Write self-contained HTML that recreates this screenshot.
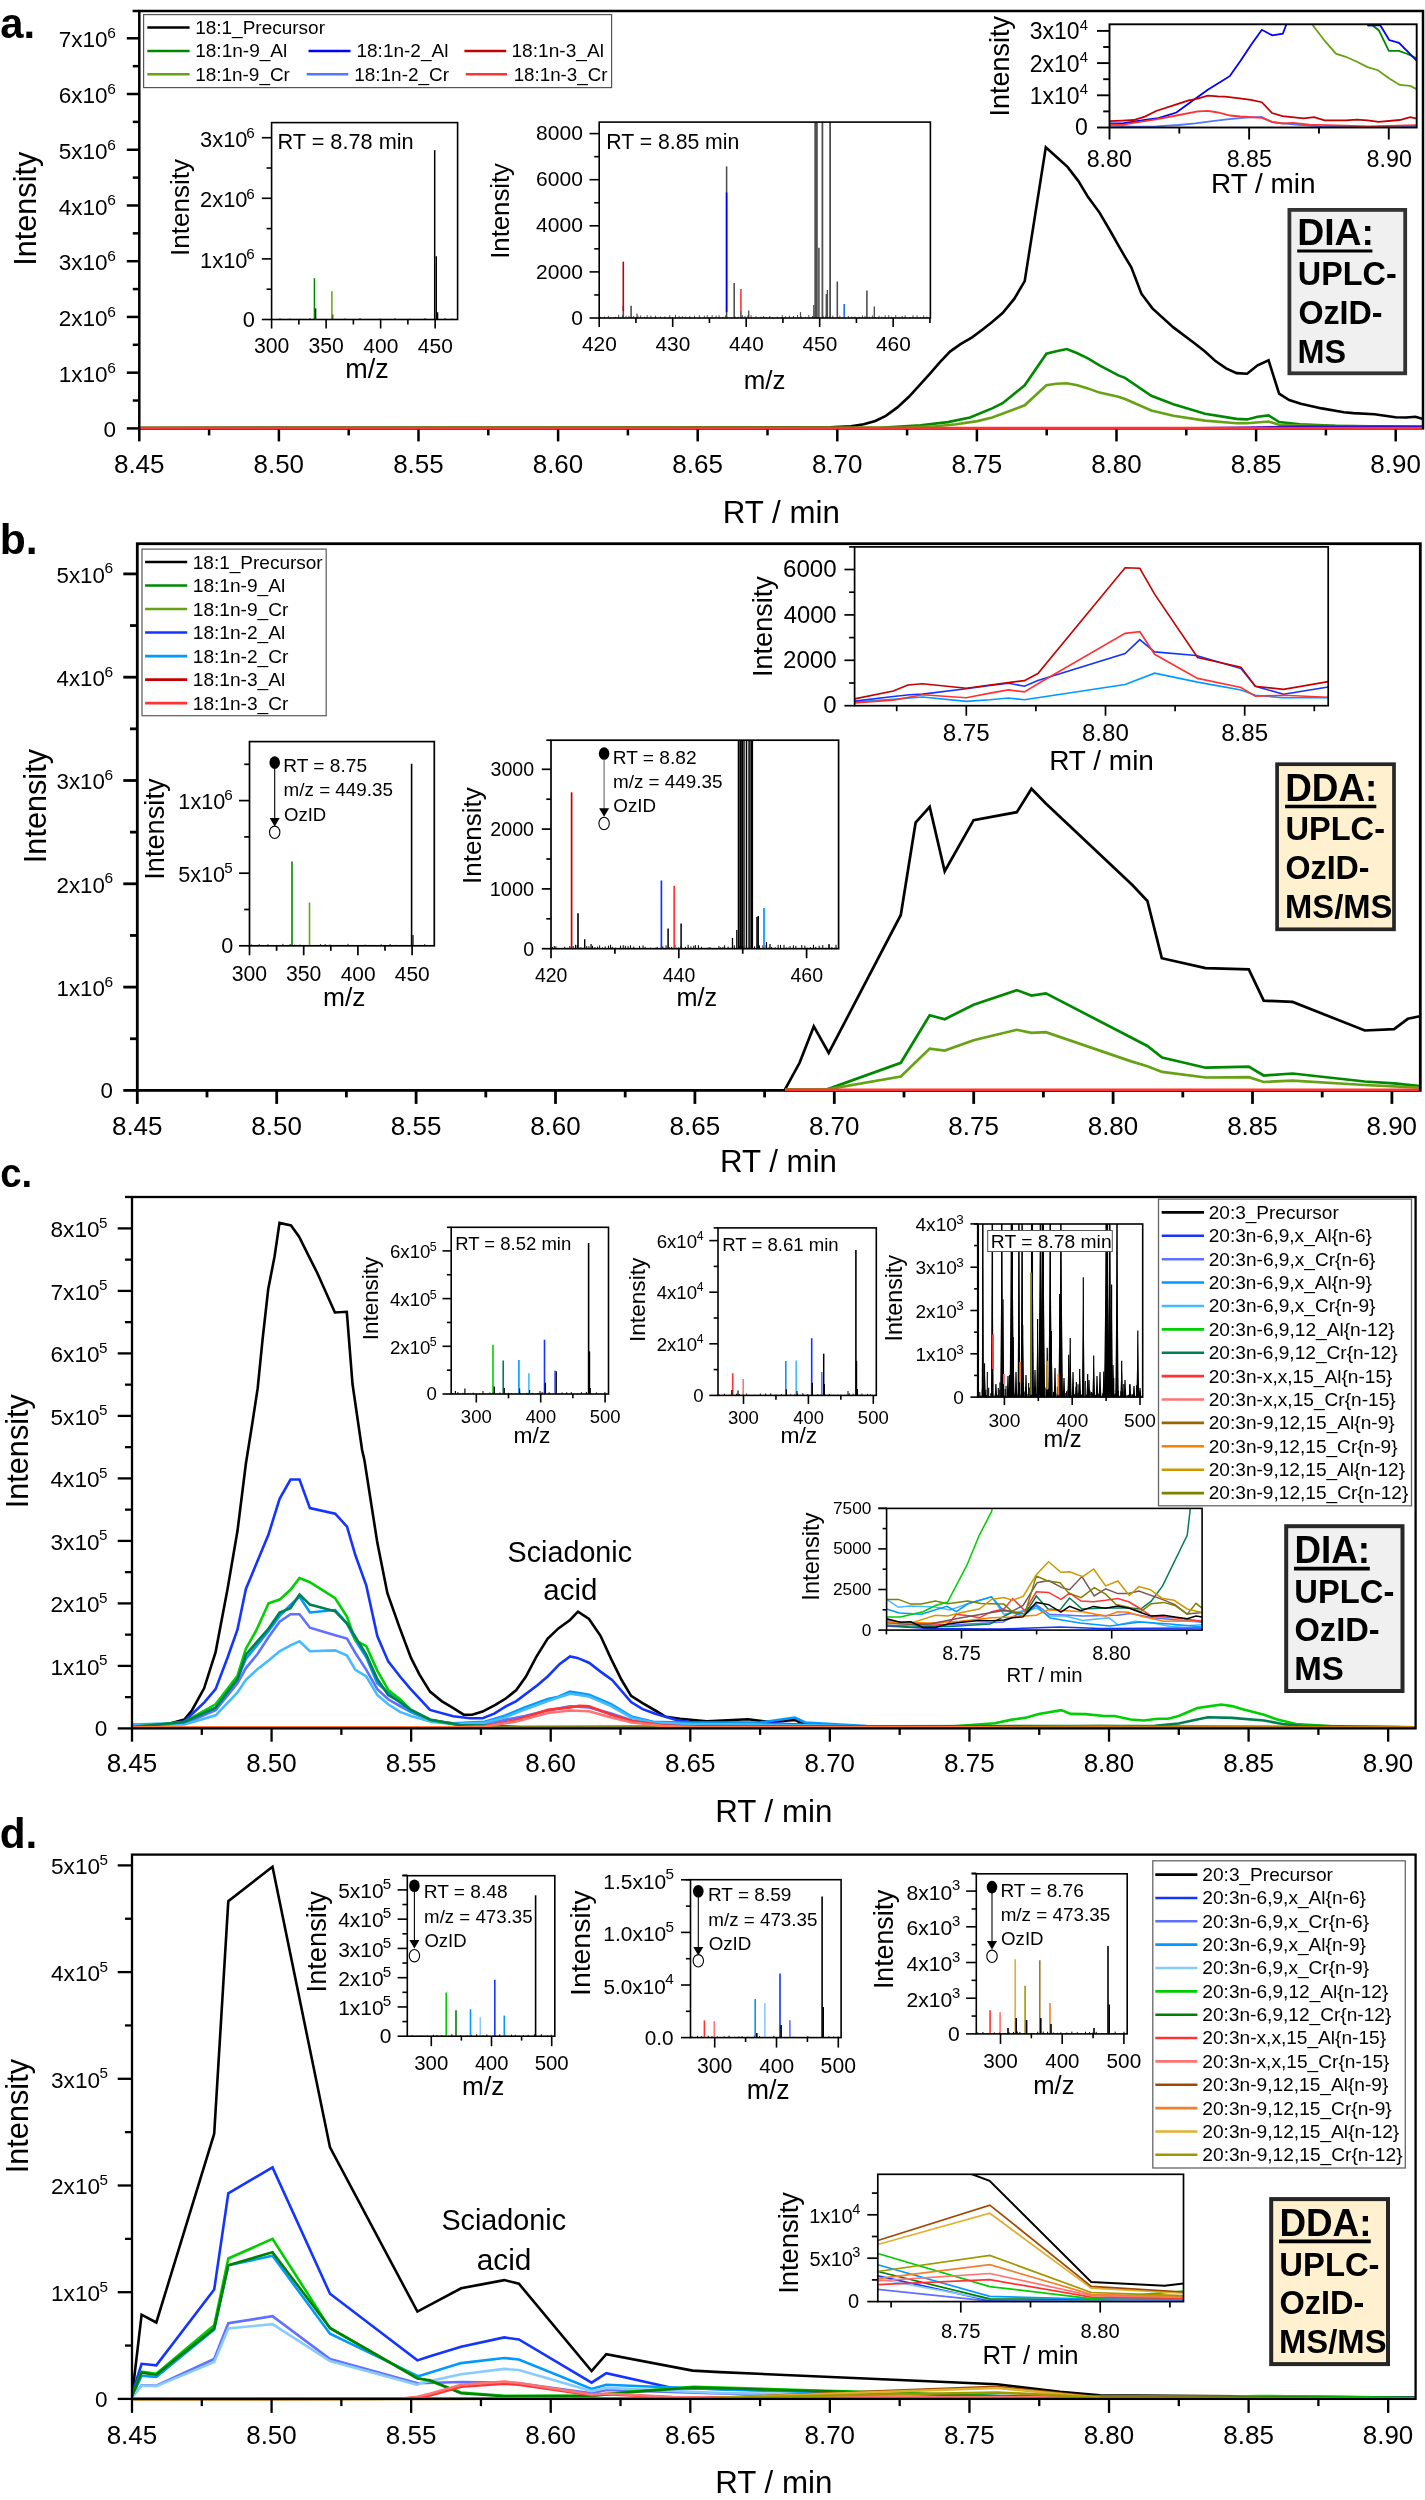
<!DOCTYPE html>
<html><head><meta charset="utf-8"><style>html,body{margin:0;padding:0;background:#fff;overflow:hidden}svg{display:block;will-change:transform}</style></head><body>
<svg width="1425" height="2500" viewBox="0 0 1425 2500" font-family='"Liberation Sans", sans-serif'>
<rect width="1425" height="2500" fill="#fff"/>
<g>
<polyline points="139.3,428.0 830.0,427.4 851.0,426.3 863.7,424.2 875.3,421.0 885.8,415.8 897.4,407.4 908.9,396.8 920.5,384.2 930.0,373.7 939.5,362.7 950.0,351.6 960.5,344.2 972.1,337.3 982.6,329.5 992.1,322.1 1002.6,313.1 1014.2,298.9 1024.7,281.1 1045.8,147.4 1056.3,156.8 1067.5,166.9 1078.4,181.1 1087.9,196.8 1099.5,212.6 1110.0,230.5 1119.5,247.4 1125.0,256.8 1131.3,267.4 1141.4,293.7 1152.4,308.4 1173.4,327.4 1194.5,343.2 1205.0,351.6 1215.5,361.1 1226.1,368.4 1236.6,373.1 1247.1,373.7 1257.6,365.3 1268.6,360.4 1279.1,393.7 1289.2,400.0 1300.8,403.8 1321.8,408.4 1343.9,412.2 1353.4,413.1 1374.5,414.3 1395.5,417.3 1406.1,417.5 1415.5,416.8 1423.0,418.9" fill="none" stroke="#000" stroke-width="2.6" stroke-linejoin="miter" stroke-miterlimit="4"/>
<polyline points="139.3,428.0 880.0,427.8 920.5,425.3 947.9,422.1 970.0,417.5 992.1,408.4 1002.6,403.2 1024.7,385.3 1046.4,353.7 1056.3,351.2 1066.8,349.1 1077.4,353.3 1087.9,358.3 1099.5,365.3 1118.4,375.4 1125.0,377.9 1151.3,395.8 1173.4,404.2 1205.0,413.7 1236.6,418.9 1247.1,419.4 1257.6,416.8 1268.6,415.4 1279.1,422.1 1299.7,424.2 1335.5,425.7 1423.0,427.0" fill="none" stroke="#008800" stroke-width="2.6" stroke-linejoin="miter" stroke-miterlimit="4"/>
<polyline points="139.3,428.0 900.0,427.8 935.3,426.3 956.3,424.2 977.4,421.1 992.1,417.5 1003.7,413.3 1024.7,405.3 1046.4,385.3 1056.3,383.8 1066.8,383.2 1077.4,385.3 1087.9,388.4 1099.5,392.6 1118.4,396.8 1125.0,399.0 1151.3,410.5 1173.4,415.8 1205.0,420.6 1236.6,423.2 1247.1,423.2 1268.6,421.5 1279.1,424.8 1314.5,425.9 1423.0,427.0" fill="none" stroke="#66a214" stroke-width="2.6" stroke-linejoin="miter" stroke-miterlimit="4"/>
<polyline points="1200.0,428.0 1245.0,427.4 1300.0,426.4 1423.0,426.4" fill="none" stroke="#0000ff" stroke-width="1.9" stroke-linejoin="miter" stroke-miterlimit="4"/>
</g>
<rect x="139.3" y="11" width="1283.7" height="417.4" fill="none" stroke="#000" stroke-width="2.5"/>
<line x1="132.60" y1="11.00" x2="139.30" y2="11.00" stroke="#000" stroke-width="2.5"/>
<line x1="126.80" y1="428.40" x2="139.30" y2="428.40" stroke="#000" stroke-width="2.5"/>
<line x1="132.80" y1="400.53" x2="139.30" y2="400.53" stroke="#000" stroke-width="2.5"/>
<line x1="126.80" y1="372.67" x2="139.30" y2="372.67" stroke="#000" stroke-width="2.5"/>
<line x1="132.80" y1="344.80" x2="139.30" y2="344.80" stroke="#000" stroke-width="2.5"/>
<line x1="126.80" y1="316.94" x2="139.30" y2="316.94" stroke="#000" stroke-width="2.5"/>
<line x1="132.80" y1="289.07" x2="139.30" y2="289.07" stroke="#000" stroke-width="2.5"/>
<line x1="126.80" y1="261.21" x2="139.30" y2="261.21" stroke="#000" stroke-width="2.5"/>
<line x1="132.80" y1="233.34" x2="139.30" y2="233.34" stroke="#000" stroke-width="2.5"/>
<line x1="126.80" y1="205.48" x2="139.30" y2="205.48" stroke="#000" stroke-width="2.5"/>
<line x1="132.80" y1="177.62" x2="139.30" y2="177.62" stroke="#000" stroke-width="2.5"/>
<line x1="126.80" y1="149.75" x2="139.30" y2="149.75" stroke="#000" stroke-width="2.5"/>
<line x1="132.80" y1="121.89" x2="139.30" y2="121.89" stroke="#000" stroke-width="2.5"/>
<line x1="126.80" y1="94.02" x2="139.30" y2="94.02" stroke="#000" stroke-width="2.5"/>
<line x1="132.80" y1="66.15" x2="139.30" y2="66.15" stroke="#000" stroke-width="2.5"/>
<line x1="126.80" y1="38.29" x2="139.30" y2="38.29" stroke="#000" stroke-width="2.5"/>
<line x1="139.30" y1="428.40" x2="139.30" y2="441.40" stroke="#000" stroke-width="2.5"/>
<line x1="209.10" y1="428.40" x2="209.10" y2="435.40" stroke="#000" stroke-width="2.5"/>
<line x1="278.90" y1="428.40" x2="278.90" y2="441.40" stroke="#000" stroke-width="2.5"/>
<line x1="348.70" y1="428.40" x2="348.70" y2="435.40" stroke="#000" stroke-width="2.5"/>
<line x1="418.50" y1="428.40" x2="418.50" y2="441.40" stroke="#000" stroke-width="2.5"/>
<line x1="488.30" y1="428.40" x2="488.30" y2="435.40" stroke="#000" stroke-width="2.5"/>
<line x1="558.10" y1="428.40" x2="558.10" y2="441.40" stroke="#000" stroke-width="2.5"/>
<line x1="627.90" y1="428.40" x2="627.90" y2="435.40" stroke="#000" stroke-width="2.5"/>
<line x1="697.70" y1="428.40" x2="697.70" y2="441.40" stroke="#000" stroke-width="2.5"/>
<line x1="767.50" y1="428.40" x2="767.50" y2="435.40" stroke="#000" stroke-width="2.5"/>
<line x1="837.30" y1="428.40" x2="837.30" y2="441.40" stroke="#000" stroke-width="2.5"/>
<line x1="907.10" y1="428.40" x2="907.10" y2="435.40" stroke="#000" stroke-width="2.5"/>
<line x1="976.90" y1="428.40" x2="976.90" y2="441.40" stroke="#000" stroke-width="2.5"/>
<line x1="1046.70" y1="428.40" x2="1046.70" y2="435.40" stroke="#000" stroke-width="2.5"/>
<line x1="1116.50" y1="428.40" x2="1116.50" y2="441.40" stroke="#000" stroke-width="2.5"/>
<line x1="1186.30" y1="428.40" x2="1186.30" y2="435.40" stroke="#000" stroke-width="2.5"/>
<line x1="1256.10" y1="428.40" x2="1256.10" y2="441.40" stroke="#000" stroke-width="2.5"/>
<line x1="1325.90" y1="428.40" x2="1325.90" y2="435.40" stroke="#000" stroke-width="2.5"/>
<line x1="1395.70" y1="428.40" x2="1395.70" y2="441.40" stroke="#000" stroke-width="2.5"/>
<line x1="140.50" y1="428.10" x2="1421.80" y2="428.10" stroke="#ff3333" stroke-width="2.6"/>
<text x="107.22" y="372.67" font-size="15.50" font-weight="normal" fill="#000">6</text>
<text x="58.76" y="381.87" font-size="22.55" font-weight="normal" fill="#000">1x10</text>
<text x="107.22" y="316.94" font-size="15.50" font-weight="normal" fill="#000">6</text>
<text x="58.76" y="326.14" font-size="22.55" font-weight="normal" fill="#000">2x10</text>
<text x="107.22" y="261.21" font-size="15.50" font-weight="normal" fill="#000">6</text>
<text x="58.76" y="270.41" font-size="22.55" font-weight="normal" fill="#000">3x10</text>
<text x="107.22" y="205.48" font-size="15.50" font-weight="normal" fill="#000">6</text>
<text x="58.76" y="214.68" font-size="22.55" font-weight="normal" fill="#000">4x10</text>
<text x="107.22" y="149.75" font-size="15.50" font-weight="normal" fill="#000">6</text>
<text x="58.76" y="158.95" font-size="22.55" font-weight="normal" fill="#000">5x10</text>
<text x="107.22" y="94.02" font-size="15.50" font-weight="normal" fill="#000">6</text>
<text x="58.76" y="103.22" font-size="22.55" font-weight="normal" fill="#000">6x10</text>
<text x="107.22" y="38.29" font-size="15.50" font-weight="normal" fill="#000">6</text>
<text x="58.76" y="47.49" font-size="22.55" font-weight="normal" fill="#000">7x10</text>
<text x="103.47" y="436.60" font-size="22.55" font-weight="normal" fill="#000">0</text>
<text x="113.93" y="473.20" font-size="26.02" font-weight="normal" fill="#000">8.45</text>
<text x="253.53" y="473.20" font-size="25.95" font-weight="normal" fill="#000">8.50</text>
<text x="393.13" y="473.20" font-size="26.02" font-weight="normal" fill="#000">8.55</text>
<text x="532.73" y="473.20" font-size="25.95" font-weight="normal" fill="#000">8.60</text>
<text x="672.33" y="473.20" font-size="26.02" font-weight="normal" fill="#000">8.65</text>
<text x="811.93" y="473.20" font-size="25.95" font-weight="normal" fill="#000">8.70</text>
<text x="951.53" y="473.20" font-size="26.02" font-weight="normal" fill="#000">8.75</text>
<text x="1091.13" y="473.20" font-size="25.95" font-weight="normal" fill="#000">8.80</text>
<text x="1230.73" y="473.20" font-size="26.02" font-weight="normal" fill="#000">8.85</text>
<text x="1370.33" y="473.20" font-size="25.95" font-weight="normal" fill="#000">8.90</text>
<text transform="translate(35.90,263.10) rotate(-90)" x="-2.76" y="0" font-size="30.67" font-weight="normal" fill="#000">Intensity</text>
<text x="722.80" y="522.70" font-size="31.27" font-weight="normal" fill="#000">RT / min</text>
<text x="0.25" y="37.60" font-size="42.00" font-weight="bold" fill="#000" textLength="34.83" lengthAdjust="spacingAndGlyphs">a.</text>
<rect x="143.6" y="14.6" width="468" height="73" fill="#fff" stroke="#555" stroke-width="1.2"/>
<line x1="147.30" y1="27.50" x2="189.60" y2="27.50" stroke="#000" stroke-width="2.6"/>
<text x="195.18" y="33.70" font-size="18.99" font-weight="normal" fill="#000">18:1_Precursor</text>
<line x1="147.30" y1="51.00" x2="189.60" y2="51.00" stroke="#008800" stroke-width="2.6"/>
<text x="195.17" y="57.20" font-size="19.06" font-weight="normal" fill="#000">18:1n-9_Al</text>
<line x1="147.30" y1="74.30" x2="189.60" y2="74.30" stroke="#66a214" stroke-width="2.6"/>
<text x="195.18" y="80.50" font-size="18.94" font-weight="normal" fill="#000">18:1n-9_Cr</text>
<line x1="308.50" y1="51.00" x2="350.50" y2="51.00" stroke="#0000ff" stroke-width="2.6"/>
<text x="356.48" y="57.20" font-size="19.00" font-weight="normal" fill="#000">18:1n-2_Al</text>
<line x1="306.70" y1="74.30" x2="348.30" y2="74.30" stroke="#5577ff" stroke-width="2.6"/>
<text x="354.28" y="80.50" font-size="18.94" font-weight="normal" fill="#000">18:1n-2_Cr</text>
<line x1="464.40" y1="51.00" x2="506.20" y2="51.00" stroke="#c40000" stroke-width="2.6"/>
<text x="511.47" y="57.20" font-size="19.13" font-weight="normal" fill="#000">18:1n-3_Al</text>
<line x1="465.70" y1="74.30" x2="507.00" y2="74.30" stroke="#ff3333" stroke-width="2.6"/>
<text x="513.69" y="80.50" font-size="18.76" font-weight="normal" fill="#000">18:1n-3_Cr</text>
<rect x="271.6" y="122.6" width="186" height="196.9" fill="#fff" stroke="none"/>
<line x1="280.00" y1="319.50" x2="280.00" y2="318.40" stroke="#000" stroke-width="1"/>
<line x1="290.00" y1="319.50" x2="290.00" y2="318.60" stroke="#000" stroke-width="1"/>
<line x1="300.00" y1="319.50" x2="300.00" y2="318.80" stroke="#000" stroke-width="1"/>
<line x1="310.00" y1="319.50" x2="310.00" y2="318.30" stroke="#000" stroke-width="1"/>
<line x1="345.00" y1="319.50" x2="345.00" y2="318.50" stroke="#000" stroke-width="1"/>
<line x1="360.00" y1="319.50" x2="360.00" y2="318.20" stroke="#000" stroke-width="1"/>
<line x1="380.00" y1="319.50" x2="380.00" y2="318.60" stroke="#000" stroke-width="1"/>
<line x1="395.00" y1="319.50" x2="395.00" y2="318.30" stroke="#000" stroke-width="1"/>
<line x1="410.00" y1="319.50" x2="410.00" y2="318.70" stroke="#000" stroke-width="1"/>
<line x1="425.00" y1="319.50" x2="425.00" y2="318.20" stroke="#000" stroke-width="1"/>
<line x1="445.00" y1="319.50" x2="445.00" y2="318.10" stroke="#000" stroke-width="1"/>
<line x1="452.00" y1="319.50" x2="452.00" y2="318.60" stroke="#000" stroke-width="1"/>
<line x1="315.60" y1="319.50" x2="315.60" y2="308.40" stroke="#000" stroke-width="1.4"/>
<line x1="314.40" y1="319.50" x2="314.40" y2="278.20" stroke="#008800" stroke-width="1.5"/>
<line x1="332.60" y1="319.50" x2="332.60" y2="314.50" stroke="#000" stroke-width="1.4"/>
<line x1="331.90" y1="319.50" x2="331.90" y2="291.20" stroke="#66a214" stroke-width="1.5"/>
<line x1="434.70" y1="319.50" x2="434.70" y2="150.20" stroke="#000" stroke-width="1.5"/>
<line x1="436.30" y1="319.50" x2="436.30" y2="256.20" stroke="#000" stroke-width="1.4"/>
<line x1="437.60" y1="319.50" x2="437.60" y2="312.30" stroke="#000" stroke-width="1.4"/>
<rect x="271.60" y="122.60" width="186.00" height="196.90" stroke="#000" stroke-width="1.6" fill="none"/>
<line x1="261.80" y1="319.50" x2="271.60" y2="319.50" stroke="#000" stroke-width="1.6"/>
<line x1="266.60" y1="289.20" x2="271.60" y2="289.20" stroke="#000" stroke-width="1.6"/>
<line x1="261.80" y1="258.90" x2="271.60" y2="258.90" stroke="#000" stroke-width="1.6"/>
<line x1="266.60" y1="228.60" x2="271.60" y2="228.60" stroke="#000" stroke-width="1.6"/>
<line x1="261.80" y1="198.30" x2="271.60" y2="198.30" stroke="#000" stroke-width="1.6"/>
<line x1="266.60" y1="168.00" x2="271.60" y2="168.00" stroke="#000" stroke-width="1.6"/>
<line x1="261.80" y1="137.70" x2="271.60" y2="137.70" stroke="#000" stroke-width="1.6"/>
<line x1="271.60" y1="319.50" x2="271.60" y2="328.50" stroke="#000" stroke-width="1.6"/>
<line x1="298.86" y1="319.50" x2="298.86" y2="324.50" stroke="#000" stroke-width="1.6"/>
<line x1="326.11" y1="319.50" x2="326.11" y2="328.50" stroke="#000" stroke-width="1.6"/>
<line x1="353.37" y1="319.50" x2="353.37" y2="324.50" stroke="#000" stroke-width="1.6"/>
<line x1="380.63" y1="319.50" x2="380.63" y2="328.50" stroke="#000" stroke-width="1.6"/>
<line x1="407.88" y1="319.50" x2="407.88" y2="324.50" stroke="#000" stroke-width="1.6"/>
<line x1="435.14" y1="319.50" x2="435.14" y2="328.50" stroke="#000" stroke-width="1.6"/>
<text x="246.37" y="259.10" font-size="15.20" font-weight="normal" fill="#000">6</text>
<text x="200.05" y="267.90" font-size="21.87" font-weight="normal" fill="#000">1x10</text>
<text x="246.37" y="198.50" font-size="15.20" font-weight="normal" fill="#000">6</text>
<text x="200.05" y="207.30" font-size="21.87" font-weight="normal" fill="#000">2x10</text>
<text x="246.37" y="137.90" font-size="15.20" font-weight="normal" fill="#000">6</text>
<text x="200.05" y="146.70" font-size="21.87" font-weight="normal" fill="#000">3x10</text>
<text x="242.83" y="327.10" font-size="21.87" font-weight="normal" fill="#000">0</text>
<text x="253.90" y="353.20" font-size="21.19" font-weight="normal" fill="#000">300</text>
<text x="308.42" y="353.20" font-size="21.19" font-weight="normal" fill="#000">350</text>
<text x="363.36" y="353.20" font-size="20.93" font-weight="normal" fill="#000">400</text>
<text x="417.87" y="353.20" font-size="20.93" font-weight="normal" fill="#000">450</text>
<text x="345.25" y="377.50" font-size="26.96" font-weight="normal" fill="#000">m/z</text>
<text transform="translate(188.50,253.60) rotate(-90)" x="-2.34" y="0" font-size="26.02" font-weight="normal" fill="#000">Intensity</text>
<text x="277.46" y="149.20" font-size="21.73" font-weight="normal" fill="#000">RT = 8.78 min</text>
<rect x="599.2" y="122.1" width="331.2" height="195.9" fill="#fff" stroke="none"/>
<line x1="600.50" y1="318.00" x2="600.50" y2="316.86" stroke="#505050" stroke-width="1.0"/>
<line x1="604.36" y1="318.00" x2="604.36" y2="316.50" stroke="#505050" stroke-width="1.0"/>
<line x1="608.37" y1="318.00" x2="608.37" y2="315.81" stroke="#505050" stroke-width="1.0"/>
<line x1="611.03" y1="318.00" x2="611.03" y2="317.46" stroke="#505050" stroke-width="1.0"/>
<line x1="615.63" y1="318.00" x2="615.63" y2="316.80" stroke="#505050" stroke-width="1.0"/>
<line x1="618.71" y1="318.00" x2="618.71" y2="314.81" stroke="#505050" stroke-width="1.0"/>
<line x1="622.39" y1="318.00" x2="622.39" y2="315.24" stroke="#505050" stroke-width="1.0"/>
<line x1="626.08" y1="318.00" x2="626.08" y2="315.77" stroke="#505050" stroke-width="1.0"/>
<line x1="628.96" y1="318.00" x2="628.96" y2="315.79" stroke="#505050" stroke-width="1.0"/>
<line x1="633.63" y1="318.00" x2="633.63" y2="316.09" stroke="#505050" stroke-width="1.0"/>
<line x1="637.98" y1="318.00" x2="637.98" y2="315.69" stroke="#505050" stroke-width="1.0"/>
<line x1="640.64" y1="318.00" x2="640.64" y2="315.45" stroke="#505050" stroke-width="1.0"/>
<line x1="644.62" y1="318.00" x2="644.62" y2="316.69" stroke="#505050" stroke-width="1.0"/>
<line x1="647.20" y1="318.00" x2="647.20" y2="315.16" stroke="#505050" stroke-width="1.0"/>
<line x1="650.88" y1="318.00" x2="650.88" y2="315.56" stroke="#505050" stroke-width="1.0"/>
<line x1="655.57" y1="318.00" x2="655.57" y2="315.57" stroke="#505050" stroke-width="1.0"/>
<line x1="660.38" y1="318.00" x2="660.38" y2="316.43" stroke="#505050" stroke-width="1.0"/>
<line x1="664.88" y1="318.00" x2="664.88" y2="316.30" stroke="#505050" stroke-width="1.0"/>
<line x1="669.72" y1="318.00" x2="669.72" y2="315.13" stroke="#505050" stroke-width="1.0"/>
<line x1="672.46" y1="318.00" x2="672.46" y2="317.13" stroke="#505050" stroke-width="1.0"/>
<line x1="675.50" y1="318.00" x2="675.50" y2="314.89" stroke="#505050" stroke-width="1.0"/>
<line x1="679.09" y1="318.00" x2="679.09" y2="315.81" stroke="#505050" stroke-width="1.0"/>
<line x1="682.35" y1="318.00" x2="682.35" y2="316.13" stroke="#505050" stroke-width="1.0"/>
<line x1="685.81" y1="318.00" x2="685.81" y2="316.55" stroke="#505050" stroke-width="1.0"/>
<line x1="689.77" y1="318.00" x2="689.77" y2="315.92" stroke="#505050" stroke-width="1.0"/>
<line x1="694.54" y1="318.00" x2="694.54" y2="315.66" stroke="#505050" stroke-width="1.0"/>
<line x1="699.36" y1="318.00" x2="699.36" y2="315.19" stroke="#505050" stroke-width="1.0"/>
<line x1="704.34" y1="318.00" x2="704.34" y2="315.69" stroke="#505050" stroke-width="1.0"/>
<line x1="707.24" y1="318.00" x2="707.24" y2="315.18" stroke="#505050" stroke-width="1.0"/>
<line x1="712.15" y1="318.00" x2="712.15" y2="315.06" stroke="#505050" stroke-width="1.0"/>
<line x1="716.08" y1="318.00" x2="716.08" y2="315.57" stroke="#505050" stroke-width="1.0"/>
<line x1="719.10" y1="318.00" x2="719.10" y2="315.25" stroke="#505050" stroke-width="1.0"/>
<line x1="723.04" y1="318.00" x2="723.04" y2="316.73" stroke="#505050" stroke-width="1.0"/>
<line x1="725.70" y1="318.00" x2="725.70" y2="315.19" stroke="#505050" stroke-width="1.0"/>
<line x1="730.67" y1="318.00" x2="730.67" y2="317.26" stroke="#505050" stroke-width="1.0"/>
<line x1="735.17" y1="318.00" x2="735.17" y2="316.39" stroke="#505050" stroke-width="1.0"/>
<line x1="738.05" y1="318.00" x2="738.05" y2="316.71" stroke="#505050" stroke-width="1.0"/>
<line x1="742.47" y1="318.00" x2="742.47" y2="315.14" stroke="#505050" stroke-width="1.0"/>
<line x1="745.08" y1="318.00" x2="745.08" y2="315.84" stroke="#505050" stroke-width="1.0"/>
<line x1="747.70" y1="318.00" x2="747.70" y2="315.56" stroke="#505050" stroke-width="1.0"/>
<line x1="751.02" y1="318.00" x2="751.02" y2="315.12" stroke="#505050" stroke-width="1.0"/>
<line x1="755.97" y1="318.00" x2="755.97" y2="316.14" stroke="#505050" stroke-width="1.0"/>
<line x1="760.97" y1="318.00" x2="760.97" y2="316.66" stroke="#505050" stroke-width="1.0"/>
<line x1="763.66" y1="318.00" x2="763.66" y2="315.88" stroke="#505050" stroke-width="1.0"/>
<line x1="766.24" y1="318.00" x2="766.24" y2="316.97" stroke="#505050" stroke-width="1.0"/>
<line x1="769.76" y1="318.00" x2="769.76" y2="315.85" stroke="#505050" stroke-width="1.0"/>
<line x1="772.65" y1="318.00" x2="772.65" y2="317.39" stroke="#505050" stroke-width="1.0"/>
<line x1="777.32" y1="318.00" x2="777.32" y2="316.65" stroke="#505050" stroke-width="1.0"/>
<line x1="782.22" y1="318.00" x2="782.22" y2="315.08" stroke="#505050" stroke-width="1.0"/>
<line x1="785.66" y1="318.00" x2="785.66" y2="316.26" stroke="#505050" stroke-width="1.0"/>
<line x1="789.46" y1="318.00" x2="789.46" y2="315.76" stroke="#505050" stroke-width="1.0"/>
<line x1="793.45" y1="318.00" x2="793.45" y2="315.99" stroke="#505050" stroke-width="1.0"/>
<line x1="797.50" y1="318.00" x2="797.50" y2="314.96" stroke="#505050" stroke-width="1.0"/>
<line x1="801.27" y1="318.00" x2="801.27" y2="316.34" stroke="#505050" stroke-width="1.0"/>
<line x1="805.57" y1="318.00" x2="805.57" y2="316.86" stroke="#505050" stroke-width="1.0"/>
<line x1="808.82" y1="318.00" x2="808.82" y2="314.86" stroke="#505050" stroke-width="1.0"/>
<line x1="812.63" y1="318.00" x2="812.63" y2="316.02" stroke="#505050" stroke-width="1.0"/>
<line x1="815.15" y1="318.00" x2="815.15" y2="316.38" stroke="#505050" stroke-width="1.0"/>
<line x1="819.10" y1="318.00" x2="819.10" y2="317.45" stroke="#505050" stroke-width="1.0"/>
<line x1="823.14" y1="318.00" x2="823.14" y2="315.79" stroke="#505050" stroke-width="1.0"/>
<line x1="825.79" y1="318.00" x2="825.79" y2="315.81" stroke="#505050" stroke-width="1.0"/>
<line x1="829.46" y1="318.00" x2="829.46" y2="315.67" stroke="#505050" stroke-width="1.0"/>
<line x1="832.84" y1="318.00" x2="832.84" y2="315.59" stroke="#505050" stroke-width="1.0"/>
<line x1="837.19" y1="318.00" x2="837.19" y2="317.44" stroke="#505050" stroke-width="1.0"/>
<line x1="839.84" y1="318.00" x2="839.84" y2="315.67" stroke="#505050" stroke-width="1.0"/>
<line x1="844.75" y1="318.00" x2="844.75" y2="316.82" stroke="#505050" stroke-width="1.0"/>
<line x1="848.39" y1="318.00" x2="848.39" y2="315.90" stroke="#505050" stroke-width="1.0"/>
<line x1="851.69" y1="318.00" x2="851.69" y2="316.52" stroke="#505050" stroke-width="1.0"/>
<line x1="854.97" y1="318.00" x2="854.97" y2="316.50" stroke="#505050" stroke-width="1.0"/>
<line x1="858.96" y1="318.00" x2="858.96" y2="316.69" stroke="#505050" stroke-width="1.0"/>
<line x1="862.40" y1="318.00" x2="862.40" y2="315.41" stroke="#505050" stroke-width="1.0"/>
<line x1="864.97" y1="318.00" x2="864.97" y2="315.96" stroke="#505050" stroke-width="1.0"/>
<line x1="869.31" y1="318.00" x2="869.31" y2="316.66" stroke="#505050" stroke-width="1.0"/>
<line x1="872.36" y1="318.00" x2="872.36" y2="315.33" stroke="#505050" stroke-width="1.0"/>
<line x1="875.46" y1="318.00" x2="875.46" y2="316.99" stroke="#505050" stroke-width="1.0"/>
<line x1="879.05" y1="318.00" x2="879.05" y2="315.62" stroke="#505050" stroke-width="1.0"/>
<line x1="881.80" y1="318.00" x2="881.80" y2="316.63" stroke="#505050" stroke-width="1.0"/>
<line x1="885.14" y1="318.00" x2="885.14" y2="315.25" stroke="#505050" stroke-width="1.0"/>
<line x1="888.73" y1="318.00" x2="888.73" y2="315.19" stroke="#505050" stroke-width="1.0"/>
<line x1="891.65" y1="318.00" x2="891.65" y2="316.59" stroke="#505050" stroke-width="1.0"/>
<line x1="895.78" y1="318.00" x2="895.78" y2="315.11" stroke="#505050" stroke-width="1.0"/>
<line x1="899.41" y1="318.00" x2="899.41" y2="316.89" stroke="#505050" stroke-width="1.0"/>
<line x1="902.21" y1="318.00" x2="902.21" y2="316.07" stroke="#505050" stroke-width="1.0"/>
<line x1="905.19" y1="318.00" x2="905.19" y2="315.32" stroke="#505050" stroke-width="1.0"/>
<line x1="909.78" y1="318.00" x2="909.78" y2="317.00" stroke="#505050" stroke-width="1.0"/>
<line x1="912.98" y1="318.00" x2="912.98" y2="315.32" stroke="#505050" stroke-width="1.0"/>
<line x1="917.09" y1="318.00" x2="917.09" y2="315.32" stroke="#505050" stroke-width="1.0"/>
<line x1="920.45" y1="318.00" x2="920.45" y2="317.15" stroke="#505050" stroke-width="1.0"/>
<line x1="923.68" y1="318.00" x2="923.68" y2="315.36" stroke="#505050" stroke-width="1.0"/>
<line x1="926.86" y1="318.00" x2="926.86" y2="316.56" stroke="#505050" stroke-width="1.0"/>
<line x1="726.60" y1="318.00" x2="726.60" y2="166.40" stroke="#505050" stroke-width="1.6"/>
<line x1="734.20" y1="318.00" x2="734.20" y2="283.10" stroke="#505050" stroke-width="1.6"/>
<line x1="740.90" y1="318.00" x2="740.90" y2="311.00" stroke="#505050" stroke-width="1.6"/>
<line x1="748.70" y1="318.00" x2="748.70" y2="310.40" stroke="#505050" stroke-width="1.4"/>
<line x1="800.50" y1="318.00" x2="800.50" y2="312.10" stroke="#505050" stroke-width="1.2"/>
<line x1="623.30" y1="318.00" x2="623.30" y2="306.20" stroke="#505050" stroke-width="1.6"/>
<line x1="631.10" y1="318.00" x2="631.10" y2="305.70" stroke="#505050" stroke-width="1.6"/>
<line x1="637.00" y1="318.00" x2="637.00" y2="313.50" stroke="#505050" stroke-width="1.2"/>
<line x1="813.80" y1="318.00" x2="813.80" y2="305.00" stroke="#505050" stroke-width="1.4"/>
<line x1="815.20" y1="318.00" x2="815.20" y2="122.00" stroke="#505050" stroke-width="1.8"/>
<line x1="816.90" y1="318.00" x2="816.90" y2="122.00" stroke="#505050" stroke-width="1.8"/>
<line x1="818.90" y1="318.00" x2="818.90" y2="247.80" stroke="#505050" stroke-width="1.6"/>
<line x1="822.40" y1="318.00" x2="822.40" y2="122.00" stroke="#505050" stroke-width="1.8"/>
<line x1="826.30" y1="318.00" x2="826.30" y2="293.90" stroke="#505050" stroke-width="1.4"/>
<line x1="827.40" y1="318.00" x2="827.40" y2="289.90" stroke="#505050" stroke-width="1.4"/>
<line x1="830.10" y1="318.00" x2="830.10" y2="122.00" stroke="#505050" stroke-width="1.8"/>
<line x1="837.30" y1="318.00" x2="837.30" y2="281.50" stroke="#505050" stroke-width="1.6"/>
<line x1="866.90" y1="318.00" x2="866.90" y2="290.50" stroke="#505050" stroke-width="1.6"/>
<line x1="874.30" y1="318.00" x2="874.30" y2="306.50" stroke="#505050" stroke-width="1.4"/>
<line x1="726.60" y1="312.10" x2="726.60" y2="192.50" stroke="#0000ff" stroke-width="1.6"/>
<line x1="740.90" y1="311.30" x2="740.90" y2="288.90" stroke="#ff3333" stroke-width="1.6"/>
<line x1="623.30" y1="311.00" x2="623.30" y2="261.60" stroke="#c40000" stroke-width="1.6"/>
<line x1="844.20" y1="318.00" x2="844.20" y2="304.00" stroke="#1a70ff" stroke-width="1.6"/>
<rect x="599.20" y="122.10" width="331.20" height="195.90" stroke="#000" stroke-width="1.6" fill="none"/>
<line x1="589.50" y1="318.00" x2="599.20" y2="318.00" stroke="#000" stroke-width="1.6"/>
<line x1="594.20" y1="294.95" x2="599.20" y2="294.95" stroke="#000" stroke-width="1.6"/>
<line x1="589.50" y1="271.90" x2="599.20" y2="271.90" stroke="#000" stroke-width="1.6"/>
<line x1="594.20" y1="248.85" x2="599.20" y2="248.85" stroke="#000" stroke-width="1.6"/>
<line x1="589.50" y1="225.80" x2="599.20" y2="225.80" stroke="#000" stroke-width="1.6"/>
<line x1="594.20" y1="202.75" x2="599.20" y2="202.75" stroke="#000" stroke-width="1.6"/>
<line x1="589.50" y1="179.70" x2="599.20" y2="179.70" stroke="#000" stroke-width="1.6"/>
<line x1="594.20" y1="156.65" x2="599.20" y2="156.65" stroke="#000" stroke-width="1.6"/>
<line x1="589.50" y1="133.60" x2="599.20" y2="133.60" stroke="#000" stroke-width="1.6"/>
<line x1="599.20" y1="318.00" x2="599.20" y2="327.00" stroke="#000" stroke-width="1.6"/>
<line x1="635.94" y1="318.00" x2="635.94" y2="323.00" stroke="#000" stroke-width="1.6"/>
<line x1="672.69" y1="318.00" x2="672.69" y2="327.00" stroke="#000" stroke-width="1.6"/>
<line x1="709.43" y1="318.00" x2="709.43" y2="323.00" stroke="#000" stroke-width="1.6"/>
<line x1="746.18" y1="318.00" x2="746.18" y2="327.00" stroke="#000" stroke-width="1.6"/>
<line x1="782.92" y1="318.00" x2="782.92" y2="323.00" stroke="#000" stroke-width="1.6"/>
<line x1="819.67" y1="318.00" x2="819.67" y2="327.00" stroke="#000" stroke-width="1.6"/>
<line x1="856.41" y1="318.00" x2="856.41" y2="323.00" stroke="#000" stroke-width="1.6"/>
<line x1="893.16" y1="318.00" x2="893.16" y2="327.00" stroke="#000" stroke-width="1.6"/>
<line x1="929.90" y1="318.00" x2="929.90" y2="323.00" stroke="#000" stroke-width="1.6"/>
<text x="571.18" y="324.60" font-size="21.00" font-weight="normal" fill="#000">0</text>
<text x="536.11" y="278.50" font-size="21.00" font-weight="normal" fill="#000">2000</text>
<text x="536.11" y="232.40" font-size="21.00" font-weight="normal" fill="#000">4000</text>
<text x="536.11" y="186.30" font-size="21.00" font-weight="normal" fill="#000">6000</text>
<text x="536.11" y="140.20" font-size="21.00" font-weight="normal" fill="#000">8000</text>
<text x="582.04" y="350.80" font-size="20.80" font-weight="normal" fill="#000">420</text>
<text x="655.53" y="350.80" font-size="20.80" font-weight="normal" fill="#000">430</text>
<text x="729.02" y="350.80" font-size="20.80" font-weight="normal" fill="#000">440</text>
<text x="802.51" y="350.80" font-size="20.80" font-weight="normal" fill="#000">450</text>
<text x="876.00" y="350.80" font-size="20.80" font-weight="normal" fill="#000">460</text>
<text x="743.82" y="388.50" font-size="25.89" font-weight="normal" fill="#000">m/z</text>
<text transform="translate(508.80,256.50) rotate(-90)" x="-2.31" y="0" font-size="25.72" font-weight="normal" fill="#000">Intensity</text>
<text x="606.30" y="148.70" font-size="21.21" font-weight="normal" fill="#000">RT = 8.85 min</text>
<rect x="1109.5" y="24.3" width="307.2" height="103.2" fill="#fff" stroke="none"/>
<clipPath id="ca3"><rect x="1109.5" y="24.3" width="307.2" height="103.2"/></clipPath>
<g clip-path="url(#ca3)">
<polyline points="1365.0,10.0 1372.4,25.3 1378.7,30.2 1388.9,50.8 1399.0,50.8 1407.5,54.0 1416.6,58.2" fill="none" stroke="#008800" stroke-width="1.8" stroke-linejoin="miter" stroke-miterlimit="4"/>
<polyline points="1300.0,10.0 1312.7,25.0 1324.6,40.7 1335.9,53.6 1345.7,56.8 1357.0,61.8 1367.5,67.1 1378.0,70.2 1388.5,77.9 1399.7,84.9 1410.3,85.9 1416.6,89.1" fill="none" stroke="#66a214" stroke-width="1.8" stroke-linejoin="miter" stroke-miterlimit="4"/>
<polyline points="1109.5,123.4 1122.5,123.4 1144.9,120.0 1158.4,118.1 1176.4,112.5 1193.2,100.3 1207.8,89.7 1229.7,76.2 1240.4,61.1 1251.0,44.9 1261.8,29.8 1272.4,35.4 1282.8,33.7 1290.0,15.0 1362.0,15.0 1368.2,25.5 1380.1,25.0 1389.2,40.0 1399.0,42.8 1416.6,60.6" fill="none" stroke="#0000ff" stroke-width="1.8" stroke-linejoin="miter" stroke-miterlimit="4"/>
<polyline points="1109.5,125.6 1133.7,126.7 1156.1,126.4 1178.6,125.0 1195.4,123.4 1212.3,121.1 1229.1,119.2 1246.0,117.7 1261.5,116.8 1272.0,122.1 1295.2,124.6 1323.2,126.7 1416.6,127.0" fill="none" stroke="#5577ff" stroke-width="1.8" stroke-linejoin="miter" stroke-miterlimit="4"/>
<polyline points="1109.5,121.1 1122.5,120.6 1133.7,120.0 1144.9,116.6 1156.1,111.0 1176.4,104.3 1188.7,100.3 1197.7,98.7 1207.8,95.6 1217.9,96.4 1225.0,96.6 1237.6,98.2 1251.0,99.9 1261.8,102.2 1272.0,113.0 1282.5,116.2 1303.6,118.3 1314.1,117.2 1324.6,120.4 1345.7,120.4 1356.9,119.6 1367.5,120.4 1378.7,121.8 1399.7,120.0 1410.3,117.2 1416.6,118.6" fill="none" stroke="#c40000" stroke-width="1.8" stroke-linejoin="miter" stroke-miterlimit="4"/>
<polyline points="1109.5,124.5 1122.5,124.8 1133.7,122.8 1156.1,119.4 1176.4,115.5 1197.7,111.3 1207.8,110.8 1217.9,112.5 1230.3,115.5 1240.4,116.5 1261.8,117.9 1272.0,121.8 1282.5,123.5 1293.1,122.8 1309.2,124.6 1345.7,125.6 1368.2,126.3 1416.6,125.2" fill="none" stroke="#ff3333" stroke-width="1.8" stroke-linejoin="miter" stroke-miterlimit="4"/>
</g>
<rect x="1109.50" y="24.30" width="307.20" height="103.20" stroke="#000" stroke-width="1.9" fill="none"/>
<line x1="1097.00" y1="127.50" x2="1109.50" y2="127.50" stroke="#000" stroke-width="1.9"/>
<line x1="1103.20" y1="111.40" x2="1109.50" y2="111.40" stroke="#000" stroke-width="1.9"/>
<line x1="1097.00" y1="95.30" x2="1109.50" y2="95.30" stroke="#000" stroke-width="1.9"/>
<line x1="1103.20" y1="79.20" x2="1109.50" y2="79.20" stroke="#000" stroke-width="1.9"/>
<line x1="1097.00" y1="63.10" x2="1109.50" y2="63.10" stroke="#000" stroke-width="1.9"/>
<line x1="1103.20" y1="47.00" x2="1109.50" y2="47.00" stroke="#000" stroke-width="1.9"/>
<line x1="1097.00" y1="30.90" x2="1109.50" y2="30.90" stroke="#000" stroke-width="1.9"/>
<line x1="1109.50" y1="127.50" x2="1109.50" y2="139.50" stroke="#000" stroke-width="1.9"/>
<line x1="1249.14" y1="127.50" x2="1249.14" y2="139.50" stroke="#000" stroke-width="1.9"/>
<line x1="1388.77" y1="127.50" x2="1388.77" y2="139.50" stroke="#000" stroke-width="1.9"/>
<line x1="1179.32" y1="127.50" x2="1179.32" y2="133.50" stroke="#000" stroke-width="1.9"/>
<line x1="1318.95" y1="127.50" x2="1318.95" y2="133.50" stroke="#000" stroke-width="1.9"/>
<text x="1079.83" y="94.00" font-size="14.80" font-weight="normal" fill="#000">4</text>
<text x="1029.64" y="103.70" font-size="23.00" font-weight="normal" fill="#000">1x10</text>
<text x="1079.83" y="61.80" font-size="14.80" font-weight="normal" fill="#000">4</text>
<text x="1029.64" y="71.50" font-size="23.00" font-weight="normal" fill="#000">2x10</text>
<text x="1079.83" y="29.60" font-size="14.80" font-weight="normal" fill="#000">4</text>
<text x="1029.64" y="39.30" font-size="23.00" font-weight="normal" fill="#000">3x10</text>
<text x="1075.04" y="134.50" font-size="23.00" font-weight="normal" fill="#000">0</text>
<text x="1086.65" y="166.50" font-size="23.27" font-weight="normal" fill="#000">8.80</text>
<text x="1226.65" y="166.50" font-size="23.33" font-weight="normal" fill="#000">8.85</text>
<text x="1366.55" y="166.50" font-size="23.27" font-weight="normal" fill="#000">8.90</text>
<text x="1210.96" y="193.20" font-size="27.96" font-weight="normal" fill="#000">RT / min</text>
<text transform="translate(1008.90,114.00) rotate(-90)" x="-2.43" y="0" font-size="26.99" font-weight="normal" fill="#000">Intensity</text>
<rect x="1289.4" y="209.9" width="115.8" height="163.4" fill="#f0f0f0" stroke="#333" stroke-width="3.8"/>
<text x="1297.27" y="245.30" font-size="37.50" font-weight="bold" fill="#000" textLength="76.77" lengthAdjust="spacingAndGlyphs">DIA:</text>
<line x1="1297.20" y1="251.00" x2="1372.40" y2="251.00" stroke="#000" stroke-width="3.0"/>
<text x="1297.75" y="285.30" font-size="32.50" font-weight="bold" fill="#000" textLength="99.05" lengthAdjust="spacingAndGlyphs">UPLC-</text>
<text x="1298.41" y="324.20" font-size="32.50" font-weight="bold" fill="#000" textLength="84.14" lengthAdjust="spacingAndGlyphs">OzID-</text>
<text x="1297.60" y="363.20" font-size="32.50" font-weight="bold" fill="#000" textLength="48.54" lengthAdjust="spacingAndGlyphs">MS</text>
<polyline points="784.9,1089.6 799.6,1062.8 813.8,1026.4 828.7,1053.0 900.8,915.0 915.6,822.7 929.7,806.9 944.7,871.2 973.6,820.1 1016.8,812.2 1031.5,788.7 1045.6,803.2 1132.6,885.3 1147.4,901.0 1161.8,958.2 1205.6,968.1 1248.8,969.3 1263.7,1000.7 1292.6,1001.9 1364.8,1030.5 1394.1,1029.1 1407.8,1018.8 1420.0,1016.2" fill="none" stroke="#000" stroke-width="2.7" stroke-linejoin="miter" stroke-miterlimit="4"/>
<polyline points="785.0,1089.6 827.2,1089.3 900.8,1062.8 929.7,1015.2 944.7,1019.2 973.6,1004.8 1016.8,990.1 1031.5,995.6 1045.9,993.3 1147.4,1046.0 1162.1,1057.6 1205.6,1067.7 1248.8,1066.6 1263.7,1075.5 1292.6,1073.5 1364.8,1081.5 1394.1,1083.3 1420.0,1086.2" fill="none" stroke="#008800" stroke-width="2.7" stroke-linejoin="miter" stroke-miterlimit="4"/>
<polyline points="785.0,1089.6 827.2,1089.3 900.8,1076.5 929.7,1048.6 944.7,1050.6 973.6,1040.2 1016.8,1029.8 1031.5,1032.9 1045.9,1032.2 1131.2,1061.4 1147.4,1066.3 1162.1,1071.9 1205.6,1077.5 1248.8,1077.2 1263.7,1082.0 1292.6,1080.7 1364.8,1085.0 1420.0,1087.6" fill="none" stroke="#66a214" stroke-width="2.7" stroke-linejoin="miter" stroke-miterlimit="4"/>
<rect x="137.3" y="543.7" width="1283.0" height="546.7" fill="none" stroke="#000" stroke-width="2.8"/>
<line x1="123.30" y1="1090.40" x2="137.30" y2="1090.40" stroke="#000" stroke-width="2.8"/>
<line x1="130.00" y1="1038.75" x2="137.30" y2="1038.75" stroke="#000" stroke-width="2.8"/>
<line x1="123.30" y1="987.10" x2="137.30" y2="987.10" stroke="#000" stroke-width="2.8"/>
<line x1="130.00" y1="935.45" x2="137.30" y2="935.45" stroke="#000" stroke-width="2.8"/>
<line x1="123.30" y1="883.80" x2="137.30" y2="883.80" stroke="#000" stroke-width="2.8"/>
<line x1="130.00" y1="832.15" x2="137.30" y2="832.15" stroke="#000" stroke-width="2.8"/>
<line x1="123.30" y1="780.50" x2="137.30" y2="780.50" stroke="#000" stroke-width="2.8"/>
<line x1="130.00" y1="728.85" x2="137.30" y2="728.85" stroke="#000" stroke-width="2.8"/>
<line x1="123.30" y1="677.20" x2="137.30" y2="677.20" stroke="#000" stroke-width="2.8"/>
<line x1="130.00" y1="625.55" x2="137.30" y2="625.55" stroke="#000" stroke-width="2.8"/>
<line x1="123.30" y1="573.90" x2="137.30" y2="573.90" stroke="#000" stroke-width="2.8"/>
<line x1="137.30" y1="1090.40" x2="137.30" y2="1103.90" stroke="#000" stroke-width="2.8"/>
<line x1="207.00" y1="1090.40" x2="207.00" y2="1097.40" stroke="#000" stroke-width="2.8"/>
<line x1="276.70" y1="1090.40" x2="276.70" y2="1103.90" stroke="#000" stroke-width="2.8"/>
<line x1="346.40" y1="1090.40" x2="346.40" y2="1097.40" stroke="#000" stroke-width="2.8"/>
<line x1="416.10" y1="1090.40" x2="416.10" y2="1103.90" stroke="#000" stroke-width="2.8"/>
<line x1="485.80" y1="1090.40" x2="485.80" y2="1097.40" stroke="#000" stroke-width="2.8"/>
<line x1="555.50" y1="1090.40" x2="555.50" y2="1103.90" stroke="#000" stroke-width="2.8"/>
<line x1="625.20" y1="1090.40" x2="625.20" y2="1097.40" stroke="#000" stroke-width="2.8"/>
<line x1="694.90" y1="1090.40" x2="694.90" y2="1103.90" stroke="#000" stroke-width="2.8"/>
<line x1="764.60" y1="1090.40" x2="764.60" y2="1097.40" stroke="#000" stroke-width="2.8"/>
<line x1="834.30" y1="1090.40" x2="834.30" y2="1103.90" stroke="#000" stroke-width="2.8"/>
<line x1="904.00" y1="1090.40" x2="904.00" y2="1097.40" stroke="#000" stroke-width="2.8"/>
<line x1="973.70" y1="1090.40" x2="973.70" y2="1103.90" stroke="#000" stroke-width="2.8"/>
<line x1="1043.40" y1="1090.40" x2="1043.40" y2="1097.40" stroke="#000" stroke-width="2.8"/>
<line x1="1113.10" y1="1090.40" x2="1113.10" y2="1103.90" stroke="#000" stroke-width="2.8"/>
<line x1="1182.80" y1="1090.40" x2="1182.80" y2="1097.40" stroke="#000" stroke-width="2.8"/>
<line x1="1252.50" y1="1090.40" x2="1252.50" y2="1103.90" stroke="#000" stroke-width="2.8"/>
<line x1="1322.20" y1="1090.40" x2="1322.20" y2="1097.40" stroke="#000" stroke-width="2.8"/>
<line x1="1391.90" y1="1090.40" x2="1391.90" y2="1103.90" stroke="#000" stroke-width="2.8"/>
<line x1="785.00" y1="1089.80" x2="1418.90" y2="1089.80" stroke="#ff3333" stroke-width="2.4"/>
<text x="104.42" y="986.50" font-size="15.50" font-weight="normal" fill="#000">6</text>
<text x="56.49" y="995.90" font-size="22.30" font-weight="normal" fill="#000">1x10</text>
<text x="104.42" y="883.20" font-size="15.50" font-weight="normal" fill="#000">6</text>
<text x="56.49" y="892.60" font-size="22.30" font-weight="normal" fill="#000">2x10</text>
<text x="104.42" y="779.90" font-size="15.50" font-weight="normal" fill="#000">6</text>
<text x="56.49" y="789.30" font-size="22.30" font-weight="normal" fill="#000">3x10</text>
<text x="104.42" y="676.60" font-size="15.50" font-weight="normal" fill="#000">6</text>
<text x="56.49" y="686.00" font-size="22.30" font-weight="normal" fill="#000">4x10</text>
<text x="104.42" y="573.30" font-size="15.50" font-weight="normal" fill="#000">6</text>
<text x="56.49" y="582.70" font-size="22.30" font-weight="normal" fill="#000">5x10</text>
<text x="100.60" y="1098.20" font-size="22.30" font-weight="normal" fill="#000">0</text>
<text x="111.93" y="1134.60" font-size="26.02" font-weight="normal" fill="#000">8.45</text>
<text x="251.33" y="1134.60" font-size="25.95" font-weight="normal" fill="#000">8.50</text>
<text x="390.73" y="1134.60" font-size="26.02" font-weight="normal" fill="#000">8.55</text>
<text x="530.13" y="1134.60" font-size="25.95" font-weight="normal" fill="#000">8.60</text>
<text x="669.53" y="1134.60" font-size="26.02" font-weight="normal" fill="#000">8.65</text>
<text x="808.93" y="1134.60" font-size="25.95" font-weight="normal" fill="#000">8.70</text>
<text x="948.33" y="1134.60" font-size="26.02" font-weight="normal" fill="#000">8.75</text>
<text x="1087.73" y="1134.60" font-size="25.95" font-weight="normal" fill="#000">8.80</text>
<text x="1227.13" y="1134.60" font-size="26.02" font-weight="normal" fill="#000">8.85</text>
<text x="1366.53" y="1134.60" font-size="25.95" font-weight="normal" fill="#000">8.90</text>
<text transform="translate(45.80,860.40) rotate(-90)" x="-2.76" y="0" font-size="30.65" font-weight="normal" fill="#000">Intensity</text>
<text x="720.00" y="1172.30" font-size="31.27" font-weight="normal" fill="#000">RT / min</text>
<text x="-0.27" y="554.20" font-size="42.00" font-weight="bold" fill="#000" textLength="37.90" lengthAdjust="spacingAndGlyphs">b.</text>
<rect x="142" y="549.1" width="184.2" height="166.6" fill="#fff" stroke="#666" stroke-width="1.3"/>
<line x1="145.10" y1="562.00" x2="187.20" y2="562.00" stroke="#000" stroke-width="2.6"/>
<text x="192.77" y="568.80" font-size="19.01" font-weight="normal" fill="#000">18:1_Precursor</text>
<line x1="145.10" y1="585.52" x2="187.20" y2="585.52" stroke="#008800" stroke-width="2.6"/>
<text x="192.77" y="592.32" font-size="19.13" font-weight="normal" fill="#000">18:1n-9_Al</text>
<line x1="145.10" y1="609.04" x2="187.20" y2="609.04" stroke="#66a214" stroke-width="2.6"/>
<text x="192.77" y="615.84" font-size="19.10" font-weight="normal" fill="#000">18:1n-9_Cr</text>
<line x1="145.10" y1="632.56" x2="187.20" y2="632.56" stroke="#1434ff" stroke-width="2.6"/>
<text x="192.77" y="639.36" font-size="19.13" font-weight="normal" fill="#000">18:1n-2_Al</text>
<line x1="145.10" y1="656.08" x2="187.20" y2="656.08" stroke="#0099ff" stroke-width="2.6"/>
<text x="192.77" y="662.88" font-size="19.10" font-weight="normal" fill="#000">18:1n-2_Cr</text>
<line x1="145.10" y1="679.60" x2="187.20" y2="679.60" stroke="#c40000" stroke-width="2.6"/>
<text x="192.77" y="686.40" font-size="19.13" font-weight="normal" fill="#000">18:1n-3_Al</text>
<line x1="145.10" y1="703.12" x2="187.20" y2="703.12" stroke="#ff3333" stroke-width="2.6"/>
<text x="192.77" y="709.92" font-size="19.10" font-weight="normal" fill="#000">18:1n-3_Cr</text>
<rect x="249.5" y="741.6" width="184.8" height="204.2" fill="#fff"/>
<line x1="251.50" y1="945.80" x2="251.50" y2="944.44" stroke="#000" stroke-width="0.9"/>
<line x1="259.21" y1="945.80" x2="259.21" y2="944.15" stroke="#000" stroke-width="0.9"/>
<line x1="267.92" y1="945.80" x2="267.92" y2="944.24" stroke="#000" stroke-width="0.9"/>
<line x1="276.53" y1="945.80" x2="276.53" y2="945.45" stroke="#000" stroke-width="0.9"/>
<line x1="282.86" y1="945.80" x2="282.86" y2="943.90" stroke="#000" stroke-width="0.9"/>
<line x1="290.11" y1="945.80" x2="290.11" y2="943.97" stroke="#000" stroke-width="0.9"/>
<line x1="294.67" y1="945.80" x2="294.67" y2="944.70" stroke="#000" stroke-width="0.9"/>
<line x1="299.90" y1="945.80" x2="299.90" y2="944.58" stroke="#000" stroke-width="0.9"/>
<line x1="306.77" y1="945.80" x2="306.77" y2="945.48" stroke="#000" stroke-width="0.9"/>
<line x1="311.86" y1="945.80" x2="311.86" y2="945.02" stroke="#000" stroke-width="0.9"/>
<line x1="320.44" y1="945.80" x2="320.44" y2="944.20" stroke="#000" stroke-width="0.9"/>
<line x1="325.24" y1="945.80" x2="325.24" y2="944.14" stroke="#000" stroke-width="0.9"/>
<line x1="329.93" y1="945.80" x2="329.93" y2="944.45" stroke="#000" stroke-width="0.9"/>
<line x1="334.57" y1="945.80" x2="334.57" y2="945.50" stroke="#000" stroke-width="0.9"/>
<line x1="342.92" y1="945.80" x2="342.92" y2="945.14" stroke="#000" stroke-width="0.9"/>
<line x1="348.00" y1="945.80" x2="348.00" y2="943.83" stroke="#000" stroke-width="0.9"/>
<line x1="356.36" y1="945.80" x2="356.36" y2="945.01" stroke="#000" stroke-width="0.9"/>
<line x1="365.17" y1="945.80" x2="365.17" y2="944.58" stroke="#000" stroke-width="0.9"/>
<line x1="372.56" y1="945.80" x2="372.56" y2="945.15" stroke="#000" stroke-width="0.9"/>
<line x1="381.26" y1="945.80" x2="381.26" y2="944.33" stroke="#000" stroke-width="0.9"/>
<line x1="390.10" y1="945.80" x2="390.10" y2="943.98" stroke="#000" stroke-width="0.9"/>
<line x1="395.59" y1="945.80" x2="395.59" y2="944.89" stroke="#000" stroke-width="0.9"/>
<line x1="400.42" y1="945.80" x2="400.42" y2="945.25" stroke="#000" stroke-width="0.9"/>
<line x1="404.75" y1="945.80" x2="404.75" y2="944.99" stroke="#000" stroke-width="0.9"/>
<line x1="411.76" y1="945.80" x2="411.76" y2="945.49" stroke="#000" stroke-width="0.9"/>
<line x1="419.15" y1="945.80" x2="419.15" y2="944.93" stroke="#000" stroke-width="0.9"/>
<line x1="424.70" y1="945.80" x2="424.70" y2="944.11" stroke="#000" stroke-width="0.9"/>
<line x1="431.10" y1="945.80" x2="431.10" y2="944.96" stroke="#000" stroke-width="0.9"/>
<line x1="292.00" y1="945.80" x2="292.00" y2="861.60" stroke="#008800" stroke-width="1.6"/>
<line x1="309.50" y1="945.80" x2="309.50" y2="902.60" stroke="#66a214" stroke-width="1.6"/>
<line x1="411.60" y1="945.80" x2="411.60" y2="763.70" stroke="#000" stroke-width="1.6"/>
<line x1="413.00" y1="945.80" x2="413.00" y2="935.00" stroke="#000" stroke-width="1.2"/>
<rect x="249.50" y="741.60" width="184.80" height="204.20" stroke="#000" stroke-width="1.7" fill="none"/>
<line x1="239.00" y1="945.80" x2="249.50" y2="945.80" stroke="#000" stroke-width="1.7"/>
<line x1="239.00" y1="873.20" x2="249.50" y2="873.20" stroke="#000" stroke-width="1.7"/>
<line x1="239.00" y1="800.60" x2="249.50" y2="800.60" stroke="#000" stroke-width="1.7"/>
<line x1="244.20" y1="909.50" x2="249.50" y2="909.50" stroke="#000" stroke-width="1.7"/>
<line x1="244.20" y1="836.90" x2="249.50" y2="836.90" stroke="#000" stroke-width="1.7"/>
<line x1="244.20" y1="764.30" x2="249.50" y2="764.30" stroke="#000" stroke-width="1.7"/>
<line x1="249.50" y1="945.80" x2="249.50" y2="955.30" stroke="#000" stroke-width="1.7"/>
<line x1="303.70" y1="945.80" x2="303.70" y2="955.30" stroke="#000" stroke-width="1.7"/>
<line x1="357.90" y1="945.80" x2="357.90" y2="955.30" stroke="#000" stroke-width="1.7"/>
<line x1="412.10" y1="945.80" x2="412.10" y2="955.30" stroke="#000" stroke-width="1.7"/>
<line x1="276.60" y1="945.80" x2="276.60" y2="950.80" stroke="#000" stroke-width="1.7"/>
<line x1="330.80" y1="945.80" x2="330.80" y2="950.80" stroke="#000" stroke-width="1.7"/>
<line x1="385.00" y1="945.80" x2="385.00" y2="950.80" stroke="#000" stroke-width="1.7"/>
<text x="224.37" y="799.90" font-size="15.20" font-weight="normal" fill="#000">6</text>
<text x="178.36" y="809.10" font-size="21.63" font-weight="normal" fill="#000">1x10</text>
<text x="224.37" y="872.50" font-size="15.20" font-weight="normal" fill="#000">5</text>
<text x="178.21" y="881.70" font-size="21.63" font-weight="normal" fill="#000">5x10</text>
<text x="221.15" y="953.40" font-size="21.63" font-weight="normal" fill="#000">0</text>
<text x="231.80" y="980.50" font-size="21.19" font-weight="normal" fill="#000">300</text>
<text x="286.00" y="980.50" font-size="21.19" font-weight="normal" fill="#000">350</text>
<text x="340.63" y="980.50" font-size="20.93" font-weight="normal" fill="#000">400</text>
<text x="394.83" y="980.50" font-size="20.93" font-weight="normal" fill="#000">450</text>
<text x="323.09" y="1006.00" font-size="26.35" font-weight="normal" fill="#000">m/z</text>
<text transform="translate(163.50,877.40) rotate(-90)" x="-2.45" y="0" font-size="27.24" font-weight="normal" fill="#000">Intensity</text>
<ellipse cx="274.70" cy="762.60" rx="5.3" ry="6.3" fill="#000"/>
<line x1="274.70" y1="767.60" x2="274.70" y2="819.50" stroke="#000" stroke-width="1.1"/>
<polygon points="269.70,818.00 279.70,818.00 274.70,826.50" fill="#000"/>
<ellipse cx="274.70" cy="832.30" rx="5.2" ry="6.2" fill="#fff" stroke="#000" stroke-width="1.1"/>
<text x="283.27" y="772.10" font-size="19.13" font-weight="normal" fill="#000">RT = 8.75</text>
<text x="283.58" y="796.20" font-size="18.83" font-weight="normal" fill="#000">m/z = 449.35</text>
<text x="283.97" y="821.40" font-size="18.54" font-weight="normal" fill="#000">OzID</text>
<rect x="551.0" y="740.2" width="287.6" height="208.5" fill="#fff"/>
<line x1="552.50" y1="948.70" x2="552.50" y2="947.07" stroke="#000" stroke-width="1.0"/>
<line x1="554.30" y1="948.70" x2="554.30" y2="945.92" stroke="#000" stroke-width="1.0"/>
<line x1="555.95" y1="948.70" x2="555.95" y2="946.32" stroke="#000" stroke-width="1.0"/>
<line x1="558.18" y1="948.70" x2="558.18" y2="948.00" stroke="#000" stroke-width="1.0"/>
<line x1="560.69" y1="948.70" x2="560.69" y2="948.07" stroke="#000" stroke-width="1.0"/>
<line x1="563.06" y1="948.70" x2="563.06" y2="947.96" stroke="#000" stroke-width="1.0"/>
<line x1="564.74" y1="948.70" x2="564.74" y2="946.71" stroke="#000" stroke-width="1.0"/>
<line x1="567.90" y1="948.70" x2="567.90" y2="947.77" stroke="#000" stroke-width="1.0"/>
<line x1="569.84" y1="948.70" x2="569.84" y2="946.00" stroke="#000" stroke-width="1.0"/>
<line x1="573.24" y1="948.70" x2="573.24" y2="946.18" stroke="#000" stroke-width="1.0"/>
<line x1="575.53" y1="948.70" x2="575.53" y2="944.78" stroke="#000" stroke-width="1.0"/>
<line x1="577.12" y1="948.70" x2="577.12" y2="945.20" stroke="#000" stroke-width="1.0"/>
<line x1="579.20" y1="948.70" x2="579.20" y2="947.70" stroke="#000" stroke-width="1.0"/>
<line x1="580.94" y1="948.70" x2="580.94" y2="947.12" stroke="#000" stroke-width="1.0"/>
<line x1="584.07" y1="948.70" x2="584.07" y2="947.57" stroke="#000" stroke-width="1.0"/>
<line x1="586.73" y1="948.70" x2="586.73" y2="945.96" stroke="#000" stroke-width="1.0"/>
<line x1="588.98" y1="948.70" x2="588.98" y2="946.28" stroke="#000" stroke-width="1.0"/>
<line x1="590.60" y1="948.70" x2="590.60" y2="947.99" stroke="#000" stroke-width="1.0"/>
<line x1="592.52" y1="948.70" x2="592.52" y2="945.82" stroke="#000" stroke-width="1.0"/>
<line x1="594.87" y1="948.70" x2="594.87" y2="947.10" stroke="#000" stroke-width="1.0"/>
<line x1="597.54" y1="948.70" x2="597.54" y2="946.61" stroke="#000" stroke-width="1.0"/>
<line x1="599.64" y1="948.70" x2="599.64" y2="945.42" stroke="#000" stroke-width="1.0"/>
<line x1="602.54" y1="948.70" x2="602.54" y2="947.35" stroke="#000" stroke-width="1.0"/>
<line x1="605.19" y1="948.70" x2="605.19" y2="946.36" stroke="#000" stroke-width="1.0"/>
<line x1="608.44" y1="948.70" x2="608.44" y2="945.65" stroke="#000" stroke-width="1.0"/>
<line x1="610.52" y1="948.70" x2="610.52" y2="944.77" stroke="#000" stroke-width="1.0"/>
<line x1="612.25" y1="948.70" x2="612.25" y2="946.74" stroke="#000" stroke-width="1.0"/>
<line x1="615.27" y1="948.70" x2="615.27" y2="947.67" stroke="#000" stroke-width="1.0"/>
<line x1="617.74" y1="948.70" x2="617.74" y2="948.06" stroke="#000" stroke-width="1.0"/>
<line x1="620.58" y1="948.70" x2="620.58" y2="945.52" stroke="#000" stroke-width="1.0"/>
<line x1="623.23" y1="948.70" x2="623.23" y2="945.14" stroke="#000" stroke-width="1.0"/>
<line x1="625.35" y1="948.70" x2="625.35" y2="945.77" stroke="#000" stroke-width="1.0"/>
<line x1="628.04" y1="948.70" x2="628.04" y2="946.17" stroke="#000" stroke-width="1.0"/>
<line x1="630.45" y1="948.70" x2="630.45" y2="945.26" stroke="#000" stroke-width="1.0"/>
<line x1="633.84" y1="948.70" x2="633.84" y2="946.54" stroke="#000" stroke-width="1.0"/>
<line x1="636.67" y1="948.70" x2="636.67" y2="947.99" stroke="#000" stroke-width="1.0"/>
<line x1="639.58" y1="948.70" x2="639.58" y2="945.94" stroke="#000" stroke-width="1.0"/>
<line x1="643.06" y1="948.70" x2="643.06" y2="945.32" stroke="#000" stroke-width="1.0"/>
<line x1="645.13" y1="948.70" x2="645.13" y2="946.85" stroke="#000" stroke-width="1.0"/>
<line x1="647.97" y1="948.70" x2="647.97" y2="948.12" stroke="#000" stroke-width="1.0"/>
<line x1="650.39" y1="948.70" x2="650.39" y2="947.61" stroke="#000" stroke-width="1.0"/>
<line x1="652.13" y1="948.70" x2="652.13" y2="947.99" stroke="#000" stroke-width="1.0"/>
<line x1="655.16" y1="948.70" x2="655.16" y2="947.75" stroke="#000" stroke-width="1.0"/>
<line x1="657.16" y1="948.70" x2="657.16" y2="946.83" stroke="#000" stroke-width="1.0"/>
<line x1="660.40" y1="948.70" x2="660.40" y2="947.92" stroke="#000" stroke-width="1.0"/>
<line x1="662.80" y1="948.70" x2="662.80" y2="946.28" stroke="#000" stroke-width="1.0"/>
<line x1="666.07" y1="948.70" x2="666.07" y2="945.33" stroke="#000" stroke-width="1.0"/>
<line x1="669.29" y1="948.70" x2="669.29" y2="947.23" stroke="#000" stroke-width="1.0"/>
<line x1="671.62" y1="948.70" x2="671.62" y2="946.94" stroke="#000" stroke-width="1.0"/>
<line x1="674.89" y1="948.70" x2="674.89" y2="944.85" stroke="#000" stroke-width="1.0"/>
<line x1="676.69" y1="948.70" x2="676.69" y2="947.58" stroke="#000" stroke-width="1.0"/>
<line x1="678.66" y1="948.70" x2="678.66" y2="947.38" stroke="#000" stroke-width="1.0"/>
<line x1="681.13" y1="948.70" x2="681.13" y2="946.14" stroke="#000" stroke-width="1.0"/>
<line x1="683.15" y1="948.70" x2="683.15" y2="948.19" stroke="#000" stroke-width="1.0"/>
<line x1="685.49" y1="948.70" x2="685.49" y2="946.91" stroke="#000" stroke-width="1.0"/>
<line x1="688.12" y1="948.70" x2="688.12" y2="944.86" stroke="#000" stroke-width="1.0"/>
<line x1="691.00" y1="948.70" x2="691.00" y2="946.40" stroke="#000" stroke-width="1.0"/>
<line x1="693.74" y1="948.70" x2="693.74" y2="945.83" stroke="#000" stroke-width="1.0"/>
<line x1="695.35" y1="948.70" x2="695.35" y2="945.05" stroke="#000" stroke-width="1.0"/>
<line x1="698.41" y1="948.70" x2="698.41" y2="945.14" stroke="#000" stroke-width="1.0"/>
<line x1="701.50" y1="948.70" x2="701.50" y2="946.83" stroke="#000" stroke-width="1.0"/>
<line x1="703.80" y1="948.70" x2="703.80" y2="947.84" stroke="#000" stroke-width="1.0"/>
<line x1="706.57" y1="948.70" x2="706.57" y2="947.98" stroke="#000" stroke-width="1.0"/>
<line x1="708.20" y1="948.70" x2="708.20" y2="947.47" stroke="#000" stroke-width="1.0"/>
<line x1="710.03" y1="948.70" x2="710.03" y2="947.01" stroke="#000" stroke-width="1.0"/>
<line x1="711.63" y1="948.70" x2="711.63" y2="948.20" stroke="#000" stroke-width="1.0"/>
<line x1="713.44" y1="948.70" x2="713.44" y2="947.84" stroke="#000" stroke-width="1.0"/>
<line x1="715.66" y1="948.70" x2="715.66" y2="948.11" stroke="#000" stroke-width="1.0"/>
<line x1="718.91" y1="948.70" x2="718.91" y2="946.05" stroke="#000" stroke-width="1.0"/>
<line x1="720.71" y1="948.70" x2="720.71" y2="947.32" stroke="#000" stroke-width="1.0"/>
<line x1="722.90" y1="948.70" x2="722.90" y2="946.93" stroke="#000" stroke-width="1.0"/>
<line x1="724.65" y1="948.70" x2="724.65" y2="945.23" stroke="#000" stroke-width="1.0"/>
<line x1="728.14" y1="948.70" x2="728.14" y2="946.57" stroke="#000" stroke-width="1.0"/>
<line x1="730.60" y1="948.70" x2="730.60" y2="947.90" stroke="#000" stroke-width="1.0"/>
<line x1="732.31" y1="948.70" x2="732.31" y2="947.00" stroke="#000" stroke-width="1.0"/>
<line x1="734.34" y1="948.70" x2="734.34" y2="945.30" stroke="#000" stroke-width="1.0"/>
<line x1="736.16" y1="948.70" x2="736.16" y2="948.12" stroke="#000" stroke-width="1.0"/>
<line x1="739.56" y1="948.70" x2="739.56" y2="946.35" stroke="#000" stroke-width="1.0"/>
<line x1="741.36" y1="948.70" x2="741.36" y2="946.30" stroke="#000" stroke-width="1.0"/>
<line x1="742.91" y1="948.70" x2="742.91" y2="946.35" stroke="#000" stroke-width="1.0"/>
<line x1="746.37" y1="948.70" x2="746.37" y2="945.18" stroke="#000" stroke-width="1.0"/>
<line x1="749.26" y1="948.70" x2="749.26" y2="947.29" stroke="#000" stroke-width="1.0"/>
<line x1="751.49" y1="948.70" x2="751.49" y2="947.62" stroke="#000" stroke-width="1.0"/>
<line x1="754.54" y1="948.70" x2="754.54" y2="946.34" stroke="#000" stroke-width="1.0"/>
<line x1="757.60" y1="948.70" x2="757.60" y2="947.05" stroke="#000" stroke-width="1.0"/>
<line x1="759.54" y1="948.70" x2="759.54" y2="945.36" stroke="#000" stroke-width="1.0"/>
<line x1="763.01" y1="948.70" x2="763.01" y2="945.22" stroke="#000" stroke-width="1.0"/>
<line x1="766.12" y1="948.70" x2="766.12" y2="945.34" stroke="#000" stroke-width="1.0"/>
<line x1="769.10" y1="948.70" x2="769.10" y2="947.41" stroke="#000" stroke-width="1.0"/>
<line x1="771.64" y1="948.70" x2="771.64" y2="946.96" stroke="#000" stroke-width="1.0"/>
<line x1="773.20" y1="948.70" x2="773.20" y2="948.10" stroke="#000" stroke-width="1.0"/>
<line x1="775.26" y1="948.70" x2="775.26" y2="947.29" stroke="#000" stroke-width="1.0"/>
<line x1="778.14" y1="948.70" x2="778.14" y2="944.85" stroke="#000" stroke-width="1.0"/>
<line x1="780.53" y1="948.70" x2="780.53" y2="944.92" stroke="#000" stroke-width="1.0"/>
<line x1="784.01" y1="948.70" x2="784.01" y2="944.86" stroke="#000" stroke-width="1.0"/>
<line x1="786.24" y1="948.70" x2="786.24" y2="947.43" stroke="#000" stroke-width="1.0"/>
<line x1="788.19" y1="948.70" x2="788.19" y2="947.51" stroke="#000" stroke-width="1.0"/>
<line x1="790.10" y1="948.70" x2="790.10" y2="946.02" stroke="#000" stroke-width="1.0"/>
<line x1="793.40" y1="948.70" x2="793.40" y2="945.26" stroke="#000" stroke-width="1.0"/>
<line x1="795.86" y1="948.70" x2="795.86" y2="945.91" stroke="#000" stroke-width="1.0"/>
<line x1="798.96" y1="948.70" x2="798.96" y2="947.90" stroke="#000" stroke-width="1.0"/>
<line x1="801.78" y1="948.70" x2="801.78" y2="945.02" stroke="#000" stroke-width="1.0"/>
<line x1="804.85" y1="948.70" x2="804.85" y2="945.57" stroke="#000" stroke-width="1.0"/>
<line x1="807.30" y1="948.70" x2="807.30" y2="947.58" stroke="#000" stroke-width="1.0"/>
<line x1="810.38" y1="948.70" x2="810.38" y2="947.04" stroke="#000" stroke-width="1.0"/>
<line x1="813.48" y1="948.70" x2="813.48" y2="944.80" stroke="#000" stroke-width="1.0"/>
<line x1="815.77" y1="948.70" x2="815.77" y2="946.80" stroke="#000" stroke-width="1.0"/>
<line x1="819.17" y1="948.70" x2="819.17" y2="945.66" stroke="#000" stroke-width="1.0"/>
<line x1="821.01" y1="948.70" x2="821.01" y2="947.76" stroke="#000" stroke-width="1.0"/>
<line x1="822.81" y1="948.70" x2="822.81" y2="945.03" stroke="#000" stroke-width="1.0"/>
<line x1="825.92" y1="948.70" x2="825.92" y2="947.69" stroke="#000" stroke-width="1.0"/>
<line x1="829.08" y1="948.70" x2="829.08" y2="944.77" stroke="#000" stroke-width="1.0"/>
<line x1="831.89" y1="948.70" x2="831.89" y2="946.97" stroke="#000" stroke-width="1.0"/>
<line x1="834.49" y1="948.70" x2="834.49" y2="947.74" stroke="#000" stroke-width="1.0"/>
<line x1="836.02" y1="948.70" x2="836.02" y2="944.80" stroke="#000" stroke-width="1.0"/>
<line x1="571.60" y1="948.70" x2="571.60" y2="792.30" stroke="#c40000" stroke-width="1.7"/>
<line x1="578.00" y1="948.70" x2="578.00" y2="913.20" stroke="#000" stroke-width="1.6"/>
<line x1="584.70" y1="948.70" x2="584.70" y2="939.20" stroke="#000" stroke-width="1.4"/>
<line x1="591.10" y1="948.70" x2="591.10" y2="943.90" stroke="#000" stroke-width="1.2"/>
<line x1="661.40" y1="948.70" x2="661.40" y2="880.50" stroke="#1434ff" stroke-width="1.7"/>
<line x1="668.10" y1="948.70" x2="668.10" y2="928.60" stroke="#000" stroke-width="1.5"/>
<line x1="674.20" y1="948.70" x2="674.20" y2="885.80" stroke="#ff3333" stroke-width="1.7"/>
<line x1="681.10" y1="948.70" x2="681.10" y2="923.50" stroke="#000" stroke-width="1.5"/>
<line x1="732.50" y1="948.70" x2="732.50" y2="937.90" stroke="#000" stroke-width="1.3"/>
<line x1="736.80" y1="948.70" x2="736.80" y2="930.00" stroke="#000" stroke-width="1.3"/>
<line x1="738.60" y1="948.70" x2="738.60" y2="740.20" stroke="#000" stroke-width="1.8"/>
<line x1="740.40" y1="948.70" x2="740.40" y2="740.20" stroke="#000" stroke-width="1.8"/>
<line x1="742.10" y1="948.70" x2="742.10" y2="740.20" stroke="#000" stroke-width="1.8"/>
<line x1="744.00" y1="948.70" x2="744.00" y2="740.20" stroke="#000" stroke-width="1.4"/>
<line x1="746.50" y1="948.70" x2="746.50" y2="740.20" stroke="#000" stroke-width="1.5"/>
<line x1="749.10" y1="948.70" x2="749.10" y2="740.20" stroke="#000" stroke-width="1.5"/>
<line x1="751.20" y1="948.70" x2="751.20" y2="740.20" stroke="#000" stroke-width="1.8"/>
<line x1="752.50" y1="948.70" x2="752.50" y2="740.20" stroke="#000" stroke-width="1.2"/>
<line x1="757.00" y1="948.70" x2="757.00" y2="917.00" stroke="#000" stroke-width="1.5"/>
<line x1="758.20" y1="948.70" x2="758.20" y2="916.00" stroke="#000" stroke-width="1.5"/>
<line x1="764.00" y1="948.70" x2="764.00" y2="908.10" stroke="#0099ff" stroke-width="1.7"/>
<line x1="766.50" y1="948.70" x2="766.50" y2="942.00" stroke="#000" stroke-width="1.2"/>
<line x1="770.00" y1="948.70" x2="770.00" y2="944.00" stroke="#000" stroke-width="1.2"/>
<line x1="829.00" y1="948.70" x2="829.00" y2="944.00" stroke="#000" stroke-width="1.2"/>
<rect x="551.00" y="740.20" width="287.60" height="208.50" stroke="#000" stroke-width="1.7" fill="none"/>
<line x1="546.30" y1="740.20" x2="551.00" y2="740.20" stroke="#000" stroke-width="1.7"/>
<line x1="541.80" y1="948.70" x2="551.00" y2="948.70" stroke="#000" stroke-width="1.7"/>
<line x1="541.80" y1="888.90" x2="551.00" y2="888.90" stroke="#000" stroke-width="1.7"/>
<line x1="541.80" y1="829.10" x2="551.00" y2="829.10" stroke="#000" stroke-width="1.7"/>
<line x1="541.80" y1="769.30" x2="551.00" y2="769.30" stroke="#000" stroke-width="1.7"/>
<line x1="546.30" y1="918.80" x2="551.00" y2="918.80" stroke="#000" stroke-width="1.7"/>
<line x1="546.30" y1="859.00" x2="551.00" y2="859.00" stroke="#000" stroke-width="1.7"/>
<line x1="546.30" y1="799.20" x2="551.00" y2="799.20" stroke="#000" stroke-width="1.7"/>
<line x1="551.00" y1="948.70" x2="551.00" y2="958.20" stroke="#000" stroke-width="1.7"/>
<line x1="678.80" y1="948.70" x2="678.80" y2="958.20" stroke="#000" stroke-width="1.7"/>
<line x1="806.60" y1="948.70" x2="806.60" y2="958.20" stroke="#000" stroke-width="1.7"/>
<line x1="614.90" y1="948.70" x2="614.90" y2="953.70" stroke="#000" stroke-width="1.7"/>
<line x1="742.70" y1="948.70" x2="742.70" y2="953.70" stroke="#000" stroke-width="1.7"/>
<text x="523.21" y="955.70" font-size="19.60" font-weight="normal" fill="#000">0</text>
<text x="489.81" y="895.80" font-size="19.91" font-weight="normal" fill="#000">1000</text>
<text x="490.32" y="836.00" font-size="19.67" font-weight="normal" fill="#000">2000</text>
<text x="490.52" y="776.20" font-size="19.58" font-weight="normal" fill="#000">3000</text>
<text x="534.91" y="981.80" font-size="19.50" font-weight="normal" fill="#000">420</text>
<text x="662.71" y="981.80" font-size="19.50" font-weight="normal" fill="#000">440</text>
<text x="790.51" y="981.80" font-size="19.50" font-weight="normal" fill="#000">460</text>
<text x="676.46" y="1005.50" font-size="25.22" font-weight="normal" fill="#000">m/z</text>
<text transform="translate(480.80,881.60) rotate(-90)" x="-2.33" y="0" font-size="25.94" font-weight="normal" fill="#000">Intensity</text>
<ellipse cx="604.10" cy="753.60" rx="5.3" ry="6.3" fill="#000"/>
<line x1="604.10" y1="758.60" x2="604.10" y2="809.70" stroke="#666" stroke-width="1.1"/>
<polygon points="599.10,808.20 609.10,808.20 604.10,816.70" fill="#000"/>
<ellipse cx="604.10" cy="823.50" rx="5.2" ry="6.2" fill="#fff" stroke="#000" stroke-width="1.1"/>
<text x="612.67" y="763.50" font-size="19.15" font-weight="normal" fill="#000">RT = 8.82</text>
<text x="612.97" y="787.60" font-size="18.88" font-weight="normal" fill="#000">m/z = 449.35</text>
<text x="613.36" y="812.30" font-size="18.76" font-weight="normal" fill="#000">OzID</text>
<rect x="854.6" y="546.9" width="473.6" height="158.8" fill="#fff"/>
<polyline points="854.6,702.0 893.3,699.2 922.5,697.0 966.3,701.4 990.0,699.8 1008.4,698.0 1024.4,699.8 1125.1,684.5 1154.6,673.2 1197.6,682.1 1241.0,689.9 1255.3,695.3 1283.5,697.8 1328.2,697.8" fill="none" stroke="#0099ff" stroke-width="1.6" stroke-linejoin="miter" stroke-miterlimit="4"/>
<polyline points="854.6,701.1 893.3,696.5 909.7,694.7 922.5,694.1 966.3,688.8 990.0,685.5 1008.4,683.3 1024.4,686.2 1037.9,680.6 1125.1,653.6 1139.8,639.6 1154.6,651.9 1196.3,655.5 1241.0,668.6 1255.3,686.2 1283.5,694.3 1328.2,687.0" fill="none" stroke="#1434ff" stroke-width="1.6" stroke-linejoin="miter" stroke-miterlimit="4"/>
<polyline points="854.6,698.9 893.3,691.0 907.9,685.0 922.5,683.7 966.3,688.3 990.0,685.0 1008.4,682.6 1024.4,680.6 1037.9,673.5 1125.1,567.8 1139.8,568.3 1154.6,594.1 1197.6,657.5 1241.0,667.1 1255.3,686.2 1283.5,689.4 1328.2,681.6" fill="none" stroke="#c40000" stroke-width="1.6" stroke-linejoin="miter" stroke-miterlimit="4"/>
<polyline points="854.6,702.9 893.3,700.1 922.5,694.7 966.3,697.8 990.0,693.1 1008.4,689.9 1024.4,691.9 1037.9,683.8 1125.1,633.4 1139.8,631.7 1154.6,654.3 1197.6,678.4 1241.0,687.5 1255.3,696.1 1283.5,695.3 1328.2,697.3" fill="none" stroke="#ff3333" stroke-width="1.6" stroke-linejoin="miter" stroke-miterlimit="4"/>
<rect x="854.60" y="546.90" width="473.60" height="158.80" stroke="#000" stroke-width="1.7" fill="none"/>
<line x1="849.10" y1="546.90" x2="854.60" y2="546.90" stroke="#000" stroke-width="1.7"/>
<line x1="844.40" y1="705.70" x2="854.60" y2="705.70" stroke="#000" stroke-width="1.7"/>
<line x1="844.40" y1="660.30" x2="854.60" y2="660.30" stroke="#000" stroke-width="1.7"/>
<line x1="844.40" y1="614.90" x2="854.60" y2="614.90" stroke="#000" stroke-width="1.7"/>
<line x1="844.40" y1="569.50" x2="854.60" y2="569.50" stroke="#000" stroke-width="1.7"/>
<line x1="849.10" y1="683.00" x2="854.60" y2="683.00" stroke="#000" stroke-width="1.7"/>
<line x1="849.10" y1="637.60" x2="854.60" y2="637.60" stroke="#000" stroke-width="1.7"/>
<line x1="849.10" y1="592.20" x2="854.60" y2="592.20" stroke="#000" stroke-width="1.7"/>
<line x1="966.30" y1="705.70" x2="966.30" y2="715.70" stroke="#000" stroke-width="1.7"/>
<line x1="1105.50" y1="705.70" x2="1105.50" y2="715.70" stroke="#000" stroke-width="1.7"/>
<line x1="1244.70" y1="705.70" x2="1244.70" y2="715.70" stroke="#000" stroke-width="1.7"/>
<line x1="896.70" y1="705.70" x2="896.70" y2="711.20" stroke="#000" stroke-width="1.7"/>
<line x1="1035.90" y1="705.70" x2="1035.90" y2="711.20" stroke="#000" stroke-width="1.7"/>
<line x1="1175.10" y1="705.70" x2="1175.10" y2="711.20" stroke="#000" stroke-width="1.7"/>
<line x1="1314.30" y1="705.70" x2="1314.30" y2="711.20" stroke="#000" stroke-width="1.7"/>
<text x="782.99" y="668.00" font-size="24.11" font-weight="normal" fill="#000">2000</text>
<text x="783.72" y="622.60" font-size="23.78" font-weight="normal" fill="#000">4000</text>
<text x="782.99" y="577.20" font-size="24.11" font-weight="normal" fill="#000">6000</text>
<text x="823.32" y="713.30" font-size="24.00" font-weight="normal" fill="#000">0</text>
<text x="942.76" y="740.60" font-size="24.14" font-weight="normal" fill="#000">8.75</text>
<text x="1081.97" y="740.60" font-size="24.08" font-weight="normal" fill="#000">8.80</text>
<text x="1221.16" y="740.60" font-size="24.14" font-weight="normal" fill="#000">8.85</text>
<text x="1049.16" y="770.00" font-size="28.01" font-weight="normal" fill="#000">RT / min</text>
<text transform="translate(771.90,674.60) rotate(-90)" x="-2.44" y="0" font-size="27.10" font-weight="normal" fill="#000">Intensity</text>
<rect x="1277.1" y="764.2" width="116.9" height="165.1" fill="#fff0d0" stroke="#262626" stroke-width="3.7"/>
<text x="1285.20" y="801.10" font-size="38.50" font-weight="bold" fill="#000" textLength="92.17" lengthAdjust="spacingAndGlyphs">DDA:</text>
<line x1="1285.10" y1="806.50" x2="1376.30" y2="806.50" stroke="#000" stroke-width="3.7"/>
<text x="1285.44" y="840.00" font-size="32.50" font-weight="bold" fill="#000" textLength="99.57" lengthAdjust="spacingAndGlyphs">UPLC-</text>
<text x="1285.51" y="879.00" font-size="32.50" font-weight="bold" fill="#000" textLength="84.04" lengthAdjust="spacingAndGlyphs">OzID-</text>
<text x="1285.07" y="918.00" font-size="32.50" font-weight="bold" fill="#000" textLength="107.27" lengthAdjust="spacingAndGlyphs">MS/MS</text>
<polyline points="132.0,1727.0 160.0,1726.2 184.4,1719.5 192.0,1710.2 204.1,1688.3 215.6,1652.1 227.4,1589.8 237.5,1530.8 245.9,1463.5 252.1,1424.7 257.7,1388.2 262.6,1339.1 268.2,1289.3 274.6,1256.3 279.5,1222.9 291.0,1225.4 299.1,1236.7 308.9,1256.3 317.4,1273.2 334.9,1312.5 346.8,1311.8 352.5,1384.0 362.1,1450.0 364.4,1460.0 377.3,1542.6 387.4,1593.2 399.5,1627.4 411.0,1657.9 419.5,1674.7 430.0,1691.6 441.6,1701.1 452.1,1707.4 463.7,1714.7 472.1,1714.7 482.6,1711.6 495.3,1704.8 505.8,1698.5 516.3,1690.1 525.8,1676.8 536.3,1656.8 547.5,1638.9 558.4,1628.4 570.0,1620.0 578.0,1611.6 589.0,1618.9 600.5,1635.8 611.1,1658.9 621.6,1680.0 631.1,1695.8 642.6,1703.2 655.3,1710.5 665.8,1716.8 680.0,1718.8 706.7,1721.2 748.0,1719.3 770.7,1722.0 794.7,1719.9 804.0,1724.1 840.0,1726.0 893.3,1727.3 1415.0,1727.4" fill="none" stroke="#000" stroke-width="2.6" stroke-linejoin="miter" stroke-miterlimit="4"/>
<polyline points="132.0,1726.5 160.0,1725.5 184.4,1721.2 204.1,1702.6 215.6,1689.2 227.4,1658.0 237.5,1629.4 245.9,1588.9 268.6,1534.2 279.6,1498.8 290.5,1479.5 299.5,1479.5 309.9,1508.1 335.2,1513.7 347.0,1526.6 355.4,1555.3 366.3,1585.6 377.3,1636.1 388.2,1661.4 400.0,1676.5 410.0,1688.4 430.0,1709.9 453.2,1716.2 470.0,1718.3 482.6,1718.3 494.2,1713.7 505.8,1706.3 516.3,1701.1 537.4,1685.3 547.9,1676.2 559.5,1664.2 570.0,1656.4 577.4,1657.9 589.0,1662.7 600.5,1671.6 612.1,1680.0 631.1,1702.1 642.6,1709.1 655.3,1713.7 676.3,1720.0 690.0,1722.1 760.0,1723.0 800.0,1724.5 860.0,1726.8 1415.0,1727.4" fill="none" stroke="#1434ff" stroke-width="2.6" stroke-linejoin="miter" stroke-miterlimit="4"/>
<polyline points="132.0,1726.0 184.4,1723.7 215.6,1710.2 237.5,1683.3 245.9,1668.1 257.7,1653.8 268.6,1637.0 279.6,1621.8 290.5,1614.2 299.5,1614.2 309.9,1627.7 335.2,1635.3 347.0,1638.6 355.4,1653.0 366.3,1669.8 377.3,1689.2 388.2,1699.3 400.0,1706.0 411.0,1712.0 430.0,1720.0 460.0,1724.5 484.7,1724.0 524.7,1716.0 547.9,1710.5 570.0,1706.3 589.0,1707.4 611.1,1713.5 632.1,1720.5 660.0,1724.5 700.0,1726.0 1415.0,1727.4" fill="none" stroke="#6070ff" stroke-width="2.6" stroke-linejoin="miter" stroke-miterlimit="4"/>
<polyline points="132.0,1724.5 168.0,1723.5 184.4,1722.5 215.6,1708.0 237.5,1679.1 245.9,1658.8 268.6,1631.0 279.6,1615.9 290.5,1605.0 299.5,1596.5 309.9,1612.5 335.2,1610.0 347.0,1623.5 355.4,1640.3 366.3,1657.2 377.3,1683.3 400.0,1702.6 411.0,1711.6 432.1,1721.1 453.2,1723.2 484.7,1721.7 504.7,1715.8 524.7,1707.4 547.9,1698.9 558.4,1696.8 570.0,1691.6 589.0,1694.7 611.1,1704.2 632.1,1716.8 653.2,1721.7 690.0,1722.8 760.0,1722.5 794.7,1717.5 805.3,1722.5 866.7,1726.0 1415.0,1727.4" fill="none" stroke="#0099ff" stroke-width="2.6" stroke-linejoin="miter" stroke-miterlimit="4"/>
<polyline points="132.0,1724.8 184.4,1724.5 215.6,1715.3 237.5,1692.5 245.9,1679.9 257.7,1668.9 268.6,1660.5 279.6,1651.3 290.5,1645.4 299.5,1641.2 309.9,1651.3 335.2,1650.4 347.0,1655.5 355.4,1669.8 366.3,1676.5 377.3,1695.0 388.2,1704.3 400.0,1711.9 411.0,1716.0 432.0,1722.0 453.0,1724.0 484.7,1722.8 504.7,1717.5 524.7,1709.5 547.9,1701.0 570.0,1693.7 589.0,1696.5 611.1,1706.0 632.1,1718.0 653.2,1722.5 690.0,1724.0 800.0,1725.0 866.7,1726.5 1415.0,1727.4" fill="none" stroke="#44bbff" stroke-width="2.6" stroke-linejoin="miter" stroke-miterlimit="4"/>
<polyline points="132.0,1727.0 184.4,1722.0 215.6,1704.3 237.5,1675.7 245.9,1648.7 256.0,1631.0 268.6,1603.3 279.6,1599.6 290.5,1589.8 299.5,1578.0 309.9,1582.2 335.2,1598.2 347.0,1616.7 355.4,1640.3 366.3,1646.2 377.3,1670.6 388.2,1690.0 400.0,1699.3 411.0,1710.0 430.0,1720.0 460.0,1725.5 520.0,1727.0 946.7,1726.8 994.7,1723.3 1010.7,1719.9 1026.7,1717.5 1038.7,1714.0 1061.3,1710.1 1070.7,1713.9 1085.3,1714.1 1104.0,1716.0 1114.7,1716.0 1130.7,1719.5 1144.0,1720.5 1157.3,1718.7 1168.0,1718.7 1178.7,1716.0 1197.3,1708.0 1210.7,1706.1 1221.3,1704.5 1232.0,1706.1 1242.7,1709.3 1264.0,1714.7 1277.3,1719.5 1296.0,1724.0 1317.3,1725.3 1338.7,1726.7 1415.0,1727.2" fill="none" stroke="#00d000" stroke-width="2.6" stroke-linejoin="miter" stroke-miterlimit="4"/>
<polyline points="132.0,1727.0 184.4,1722.0 215.6,1707.7 237.5,1679.1 245.9,1654.6 268.6,1628.5 279.6,1612.5 290.5,1608.3 299.5,1594.5 309.9,1604.6 335.2,1611.3 347.0,1623.5 355.4,1637.0 366.3,1654.6 377.3,1679.1 388.2,1695.0 400.0,1701.8 411.0,1710.0 430.0,1719.5 460.0,1725.0 520.0,1727.0 1154.7,1725.9 1178.7,1723.5 1194.7,1720.0 1208.0,1717.3 1232.0,1717.9 1264.0,1720.5 1282.7,1724.0 1301.3,1725.9 1415.0,1727.2" fill="none" stroke="#007f50" stroke-width="2.6" stroke-linejoin="miter" stroke-miterlimit="4"/>
<polyline points="132.0,1727.4 460.0,1727.2 484.7,1726.3 516.3,1720.0 547.9,1709.9 570.0,1707.4 579.5,1705.7 589.0,1706.3 611.1,1714.7 632.1,1721.1 663.7,1725.3 700.0,1727.0 1415.0,1727.4" fill="none" stroke="#ff3333" stroke-width="2.6" stroke-linejoin="miter" stroke-miterlimit="4"/>
<polyline points="132.0,1727.4 460.0,1727.2 484.7,1726.5 516.3,1721.5 547.9,1713.0 570.0,1710.5 589.0,1711.2 611.1,1717.5 632.1,1722.5 663.7,1726.0 700.0,1727.2 1415.0,1727.4" fill="none" stroke="#ff7373" stroke-width="2.6" stroke-linejoin="miter" stroke-miterlimit="4"/>
<polyline points="990.0,1727.4 1050.0,1726.3 1100.0,1725.8 1160.0,1726.5 1415.0,1727.0" fill="none" stroke="#808000" stroke-width="2.0" stroke-linejoin="miter" stroke-miterlimit="4"/>
<line x1="133.00" y1="1727.70" x2="1414.60" y2="1727.70" stroke="#ff8000" stroke-width="2.4"/>
<rect x="132.0" y="1197.0" width="1283.6" height="531.4" fill="none" stroke="#000" stroke-width="2.3"/>
<line x1="125.00" y1="1197.00" x2="132.00" y2="1197.00" stroke="#000" stroke-width="2.3"/>
<line x1="117.70" y1="1728.40" x2="132.00" y2="1728.40" stroke="#000" stroke-width="2.3"/>
<line x1="125.00" y1="1697.15" x2="132.00" y2="1697.15" stroke="#000" stroke-width="2.3"/>
<line x1="117.70" y1="1665.90" x2="132.00" y2="1665.90" stroke="#000" stroke-width="2.3"/>
<line x1="125.00" y1="1634.65" x2="132.00" y2="1634.65" stroke="#000" stroke-width="2.3"/>
<line x1="117.70" y1="1603.40" x2="132.00" y2="1603.40" stroke="#000" stroke-width="2.3"/>
<line x1="125.00" y1="1572.15" x2="132.00" y2="1572.15" stroke="#000" stroke-width="2.3"/>
<line x1="117.70" y1="1540.90" x2="132.00" y2="1540.90" stroke="#000" stroke-width="2.3"/>
<line x1="125.00" y1="1509.65" x2="132.00" y2="1509.65" stroke="#000" stroke-width="2.3"/>
<line x1="117.70" y1="1478.40" x2="132.00" y2="1478.40" stroke="#000" stroke-width="2.3"/>
<line x1="125.00" y1="1447.15" x2="132.00" y2="1447.15" stroke="#000" stroke-width="2.3"/>
<line x1="117.70" y1="1415.90" x2="132.00" y2="1415.90" stroke="#000" stroke-width="2.3"/>
<line x1="125.00" y1="1384.65" x2="132.00" y2="1384.65" stroke="#000" stroke-width="2.3"/>
<line x1="117.70" y1="1353.40" x2="132.00" y2="1353.40" stroke="#000" stroke-width="2.3"/>
<line x1="125.00" y1="1322.15" x2="132.00" y2="1322.15" stroke="#000" stroke-width="2.3"/>
<line x1="117.70" y1="1290.90" x2="132.00" y2="1290.90" stroke="#000" stroke-width="2.3"/>
<line x1="125.00" y1="1259.65" x2="132.00" y2="1259.65" stroke="#000" stroke-width="2.3"/>
<line x1="117.70" y1="1228.40" x2="132.00" y2="1228.40" stroke="#000" stroke-width="2.3"/>
<line x1="132.00" y1="1728.40" x2="132.00" y2="1741.70" stroke="#000" stroke-width="2.3"/>
<line x1="201.79" y1="1728.40" x2="201.79" y2="1734.90" stroke="#000" stroke-width="2.3"/>
<line x1="271.58" y1="1728.40" x2="271.58" y2="1741.70" stroke="#000" stroke-width="2.3"/>
<line x1="341.36" y1="1728.40" x2="341.36" y2="1734.90" stroke="#000" stroke-width="2.3"/>
<line x1="411.15" y1="1728.40" x2="411.15" y2="1741.70" stroke="#000" stroke-width="2.3"/>
<line x1="480.94" y1="1728.40" x2="480.94" y2="1734.90" stroke="#000" stroke-width="2.3"/>
<line x1="550.73" y1="1728.40" x2="550.73" y2="1741.70" stroke="#000" stroke-width="2.3"/>
<line x1="620.51" y1="1728.40" x2="620.51" y2="1734.90" stroke="#000" stroke-width="2.3"/>
<line x1="690.30" y1="1728.40" x2="690.30" y2="1741.70" stroke="#000" stroke-width="2.3"/>
<line x1="760.09" y1="1728.40" x2="760.09" y2="1734.90" stroke="#000" stroke-width="2.3"/>
<line x1="829.88" y1="1728.40" x2="829.88" y2="1741.70" stroke="#000" stroke-width="2.3"/>
<line x1="899.66" y1="1728.40" x2="899.66" y2="1734.90" stroke="#000" stroke-width="2.3"/>
<line x1="969.45" y1="1728.40" x2="969.45" y2="1741.70" stroke="#000" stroke-width="2.3"/>
<line x1="1039.24" y1="1728.40" x2="1039.24" y2="1734.90" stroke="#000" stroke-width="2.3"/>
<line x1="1109.02" y1="1728.40" x2="1109.02" y2="1741.70" stroke="#000" stroke-width="2.3"/>
<line x1="1178.81" y1="1728.40" x2="1178.81" y2="1734.90" stroke="#000" stroke-width="2.3"/>
<line x1="1248.60" y1="1728.40" x2="1248.60" y2="1741.70" stroke="#000" stroke-width="2.3"/>
<line x1="1318.39" y1="1728.40" x2="1318.39" y2="1734.90" stroke="#000" stroke-width="2.3"/>
<line x1="1388.17" y1="1728.40" x2="1388.17" y2="1741.70" stroke="#000" stroke-width="2.3"/>
<text x="99.07" y="1665.20" font-size="15.20" font-weight="normal" fill="#000">5</text>
<text x="50.56" y="1674.50" font-size="22.59" font-weight="normal" fill="#000">1x10</text>
<text x="99.07" y="1602.70" font-size="15.20" font-weight="normal" fill="#000">5</text>
<text x="50.56" y="1612.00" font-size="22.59" font-weight="normal" fill="#000">2x10</text>
<text x="99.07" y="1540.20" font-size="15.20" font-weight="normal" fill="#000">5</text>
<text x="50.56" y="1549.50" font-size="22.59" font-weight="normal" fill="#000">3x10</text>
<text x="99.07" y="1477.70" font-size="15.20" font-weight="normal" fill="#000">5</text>
<text x="50.56" y="1487.00" font-size="22.59" font-weight="normal" fill="#000">4x10</text>
<text x="99.07" y="1415.20" font-size="15.20" font-weight="normal" fill="#000">5</text>
<text x="50.56" y="1424.50" font-size="22.59" font-weight="normal" fill="#000">5x10</text>
<text x="99.07" y="1352.70" font-size="15.20" font-weight="normal" fill="#000">5</text>
<text x="50.56" y="1362.00" font-size="22.59" font-weight="normal" fill="#000">6x10</text>
<text x="99.07" y="1290.20" font-size="15.20" font-weight="normal" fill="#000">5</text>
<text x="50.56" y="1299.50" font-size="22.59" font-weight="normal" fill="#000">7x10</text>
<text x="99.07" y="1227.70" font-size="15.20" font-weight="normal" fill="#000">5</text>
<text x="50.56" y="1237.00" font-size="22.59" font-weight="normal" fill="#000">8x10</text>
<text x="94.85" y="1736.00" font-size="22.59" font-weight="normal" fill="#000">0</text>
<text x="106.63" y="1772.30" font-size="26.02" font-weight="normal" fill="#000">8.45</text>
<text x="246.21" y="1772.30" font-size="25.95" font-weight="normal" fill="#000">8.50</text>
<text x="385.78" y="1772.30" font-size="26.02" font-weight="normal" fill="#000">8.55</text>
<text x="525.36" y="1772.30" font-size="25.95" font-weight="normal" fill="#000">8.60</text>
<text x="664.93" y="1772.30" font-size="26.02" font-weight="normal" fill="#000">8.65</text>
<text x="804.51" y="1772.30" font-size="25.95" font-weight="normal" fill="#000">8.70</text>
<text x="944.08" y="1772.30" font-size="26.02" font-weight="normal" fill="#000">8.75</text>
<text x="1083.66" y="1772.30" font-size="25.95" font-weight="normal" fill="#000">8.80</text>
<text x="1223.23" y="1772.30" font-size="26.02" font-weight="normal" fill="#000">8.85</text>
<text x="1362.81" y="1772.30" font-size="25.95" font-weight="normal" fill="#000">8.90</text>
<text transform="translate(27.80,1505.50) rotate(-90)" x="-2.76" y="0" font-size="30.65" font-weight="normal" fill="#000">Intensity</text>
<text x="715.30" y="1822.20" font-size="31.27" font-weight="normal" fill="#000">RT / min</text>
<text x="0.17" y="1186.70" font-size="41.00" font-weight="bold" fill="#000" textLength="31.98" lengthAdjust="spacingAndGlyphs">c.</text>
<text x="507.61" y="1561.50" font-size="29.00" font-weight="normal" fill="#000" textLength="124.44" lengthAdjust="spacingAndGlyphs">Sciadonic</text>
<text x="543.32" y="1600.00" font-size="29.00" font-weight="normal" fill="#000" textLength="54.08" lengthAdjust="spacingAndGlyphs">acid</text>
<rect x="451.2" y="1227.3" width="157.3" height="166.7" fill="#fff"/>
<line x1="452.70" y1="1394.00" x2="452.70" y2="1392.93" stroke="#000" stroke-width="1.0"/>
<line x1="457.94" y1="1394.00" x2="457.94" y2="1392.13" stroke="#000" stroke-width="1.0"/>
<line x1="462.80" y1="1394.00" x2="462.80" y2="1392.84" stroke="#000" stroke-width="1.0"/>
<line x1="468.15" y1="1394.00" x2="468.15" y2="1393.39" stroke="#000" stroke-width="1.0"/>
<line x1="473.20" y1="1394.00" x2="473.20" y2="1392.63" stroke="#000" stroke-width="1.0"/>
<line x1="479.37" y1="1394.00" x2="479.37" y2="1393.54" stroke="#000" stroke-width="1.0"/>
<line x1="483.58" y1="1394.00" x2="483.58" y2="1393.55" stroke="#000" stroke-width="1.0"/>
<line x1="489.82" y1="1394.00" x2="489.82" y2="1392.52" stroke="#000" stroke-width="1.0"/>
<line x1="492.99" y1="1394.00" x2="492.99" y2="1392.03" stroke="#000" stroke-width="1.0"/>
<line x1="499.85" y1="1394.00" x2="499.85" y2="1392.59" stroke="#000" stroke-width="1.0"/>
<line x1="505.31" y1="1394.00" x2="505.31" y2="1393.43" stroke="#000" stroke-width="1.0"/>
<line x1="508.37" y1="1394.00" x2="508.37" y2="1392.80" stroke="#000" stroke-width="1.0"/>
<line x1="511.61" y1="1394.00" x2="511.61" y2="1393.38" stroke="#000" stroke-width="1.0"/>
<line x1="515.58" y1="1394.00" x2="515.58" y2="1393.65" stroke="#000" stroke-width="1.0"/>
<line x1="520.43" y1="1394.00" x2="520.43" y2="1392.95" stroke="#000" stroke-width="1.0"/>
<line x1="526.80" y1="1394.00" x2="526.80" y2="1392.82" stroke="#000" stroke-width="1.0"/>
<line x1="532.36" y1="1394.00" x2="532.36" y2="1392.85" stroke="#000" stroke-width="1.0"/>
<line x1="538.01" y1="1394.00" x2="538.01" y2="1392.92" stroke="#000" stroke-width="1.0"/>
<line x1="542.13" y1="1394.00" x2="542.13" y2="1392.00" stroke="#000" stroke-width="1.0"/>
<line x1="549.11" y1="1394.00" x2="549.11" y2="1392.27" stroke="#000" stroke-width="1.0"/>
<line x1="554.94" y1="1394.00" x2="554.94" y2="1393.16" stroke="#000" stroke-width="1.0"/>
<line x1="558.86" y1="1394.00" x2="558.86" y2="1393.21" stroke="#000" stroke-width="1.0"/>
<line x1="562.14" y1="1394.00" x2="562.14" y2="1392.40" stroke="#000" stroke-width="1.0"/>
<line x1="566.74" y1="1394.00" x2="566.74" y2="1392.26" stroke="#000" stroke-width="1.0"/>
<line x1="571.29" y1="1394.00" x2="571.29" y2="1392.07" stroke="#000" stroke-width="1.0"/>
<line x1="577.68" y1="1394.00" x2="577.68" y2="1393.70" stroke="#000" stroke-width="1.0"/>
<line x1="581.52" y1="1394.00" x2="581.52" y2="1392.15" stroke="#000" stroke-width="1.0"/>
<line x1="586.40" y1="1394.00" x2="586.40" y2="1392.03" stroke="#000" stroke-width="1.0"/>
<line x1="590.99" y1="1394.00" x2="590.99" y2="1393.58" stroke="#000" stroke-width="1.0"/>
<line x1="596.50" y1="1394.00" x2="596.50" y2="1392.38" stroke="#000" stroke-width="1.0"/>
<line x1="600.58" y1="1394.00" x2="600.58" y2="1393.55" stroke="#000" stroke-width="1.0"/>
<line x1="604.91" y1="1394.00" x2="604.91" y2="1392.06" stroke="#000" stroke-width="1.0"/>
<line x1="493.00" y1="1394.00" x2="493.00" y2="1344.80" stroke="#00d000" stroke-width="1.6"/>
<line x1="494.30" y1="1394.00" x2="494.30" y2="1386.50" stroke="#000" stroke-width="1.3"/>
<line x1="503.20" y1="1394.00" x2="503.20" y2="1360.50" stroke="#007f50" stroke-width="1.6"/>
<line x1="504.30" y1="1394.00" x2="504.30" y2="1388.00" stroke="#000" stroke-width="1.2"/>
<line x1="518.90" y1="1394.00" x2="518.90" y2="1359.90" stroke="#0099ff" stroke-width="1.6"/>
<line x1="519.60" y1="1394.00" x2="519.60" y2="1388.40" stroke="#000" stroke-width="1.2"/>
<line x1="528.90" y1="1394.00" x2="528.90" y2="1373.20" stroke="#44bbff" stroke-width="1.6"/>
<line x1="529.60" y1="1394.00" x2="529.60" y2="1390.00" stroke="#000" stroke-width="1.1"/>
<line x1="544.50" y1="1394.00" x2="544.50" y2="1339.70" stroke="#1434ff" stroke-width="1.6"/>
<line x1="545.40" y1="1394.00" x2="545.40" y2="1382.70" stroke="#000" stroke-width="1.3"/>
<line x1="554.90" y1="1394.00" x2="554.90" y2="1370.40" stroke="#6070ff" stroke-width="1.6"/>
<line x1="556.20" y1="1394.00" x2="556.20" y2="1371.30" stroke="#000" stroke-width="1.4"/>
<line x1="588.60" y1="1394.00" x2="588.60" y2="1243.00" stroke="#000" stroke-width="1.6"/>
<line x1="589.50" y1="1394.00" x2="589.50" y2="1351.40" stroke="#000" stroke-width="1.4"/>
<line x1="590.30" y1="1394.00" x2="590.30" y2="1388.00" stroke="#000" stroke-width="1.1"/>
<line x1="464.90" y1="1394.00" x2="464.90" y2="1388.40" stroke="#000" stroke-width="1.2"/>
<line x1="455.40" y1="1394.00" x2="455.40" y2="1391.00" stroke="#000" stroke-width="1.1"/>
<line x1="483.00" y1="1394.00" x2="483.00" y2="1391.00" stroke="#000" stroke-width="1"/>
<line x1="540.00" y1="1394.00" x2="540.00" y2="1391.00" stroke="#000" stroke-width="1"/>
<rect x="451.20" y="1227.30" width="157.30" height="166.70" stroke="#000" stroke-width="1.6" fill="none"/>
<line x1="446.90" y1="1227.30" x2="451.20" y2="1227.30" stroke="#000" stroke-width="1.6"/>
<line x1="442.50" y1="1394.00" x2="451.20" y2="1394.00" stroke="#000" stroke-width="1.6"/>
<line x1="442.50" y1="1346.30" x2="451.20" y2="1346.30" stroke="#000" stroke-width="1.6"/>
<line x1="442.50" y1="1298.60" x2="451.20" y2="1298.60" stroke="#000" stroke-width="1.6"/>
<line x1="442.50" y1="1250.90" x2="451.20" y2="1250.90" stroke="#000" stroke-width="1.6"/>
<line x1="446.90" y1="1370.15" x2="451.20" y2="1370.15" stroke="#000" stroke-width="1.6"/>
<line x1="446.90" y1="1322.45" x2="451.20" y2="1322.45" stroke="#000" stroke-width="1.6"/>
<line x1="446.90" y1="1274.75" x2="451.20" y2="1274.75" stroke="#000" stroke-width="1.6"/>
<line x1="476.31" y1="1394.00" x2="476.31" y2="1402.50" stroke="#000" stroke-width="1.6"/>
<line x1="540.70" y1="1394.00" x2="540.70" y2="1402.50" stroke="#000" stroke-width="1.6"/>
<line x1="605.09" y1="1394.00" x2="605.09" y2="1402.50" stroke="#000" stroke-width="1.6"/>
<line x1="508.51" y1="1394.00" x2="508.51" y2="1398.30" stroke="#000" stroke-width="1.6"/>
<line x1="572.89" y1="1394.00" x2="572.89" y2="1398.30" stroke="#000" stroke-width="1.6"/>
<text x="429.71" y="1346.30" font-size="12.40" font-weight="normal" fill="#000">5</text>
<text x="389.99" y="1353.70" font-size="18.65" font-weight="normal" fill="#000">2x10</text>
<text x="429.71" y="1298.60" font-size="12.40" font-weight="normal" fill="#000">5</text>
<text x="389.99" y="1306.00" font-size="18.65" font-weight="normal" fill="#000">4x10</text>
<text x="429.71" y="1250.90" font-size="12.40" font-weight="normal" fill="#000">5</text>
<text x="389.99" y="1258.30" font-size="18.65" font-weight="normal" fill="#000">6x10</text>
<text x="426.40" y="1400.40" font-size="18.65" font-weight="normal" fill="#000">0</text>
<text x="460.87" y="1423.00" font-size="18.49" font-weight="normal" fill="#000">300</text>
<text x="525.63" y="1423.00" font-size="18.26" font-weight="normal" fill="#000">400</text>
<text x="589.65" y="1423.00" font-size="18.49" font-weight="normal" fill="#000">500</text>
<text x="513.62" y="1442.50" font-size="22.81" font-weight="normal" fill="#000">m/z</text>
<text transform="translate(378.40,1338.20) rotate(-90)" x="-2.02" y="0" font-size="22.42" font-weight="normal" fill="#000">Intensity</text>
<text x="455.22" y="1250.10" font-size="18.50" font-weight="normal" fill="#000">RT = 8.52 min</text>
<rect x="718.0" y="1227.9" width="158.3" height="167.5" fill="#fff"/>
<line x1="719.50" y1="1395.40" x2="719.50" y2="1394.61" stroke="#000" stroke-width="1.0"/>
<line x1="724.40" y1="1395.40" x2="724.40" y2="1393.80" stroke="#000" stroke-width="1.0"/>
<line x1="729.87" y1="1395.40" x2="729.87" y2="1394.75" stroke="#000" stroke-width="1.0"/>
<line x1="733.18" y1="1395.40" x2="733.18" y2="1394.82" stroke="#000" stroke-width="1.0"/>
<line x1="736.47" y1="1395.40" x2="736.47" y2="1393.71" stroke="#000" stroke-width="1.0"/>
<line x1="739.42" y1="1395.40" x2="739.42" y2="1394.09" stroke="#000" stroke-width="1.0"/>
<line x1="742.67" y1="1395.40" x2="742.67" y2="1394.54" stroke="#000" stroke-width="1.0"/>
<line x1="746.68" y1="1395.40" x2="746.68" y2="1393.51" stroke="#000" stroke-width="1.0"/>
<line x1="751.31" y1="1395.40" x2="751.31" y2="1395.07" stroke="#000" stroke-width="1.0"/>
<line x1="754.78" y1="1395.40" x2="754.78" y2="1394.82" stroke="#000" stroke-width="1.0"/>
<line x1="760.33" y1="1395.40" x2="760.33" y2="1393.56" stroke="#000" stroke-width="1.0"/>
<line x1="765.65" y1="1395.40" x2="765.65" y2="1393.53" stroke="#000" stroke-width="1.0"/>
<line x1="770.75" y1="1395.40" x2="770.75" y2="1393.30" stroke="#000" stroke-width="1.0"/>
<line x1="776.03" y1="1395.40" x2="776.03" y2="1394.61" stroke="#000" stroke-width="1.0"/>
<line x1="781.51" y1="1395.40" x2="781.51" y2="1394.18" stroke="#000" stroke-width="1.0"/>
<line x1="786.65" y1="1395.40" x2="786.65" y2="1394.03" stroke="#000" stroke-width="1.0"/>
<line x1="790.65" y1="1395.40" x2="790.65" y2="1394.41" stroke="#000" stroke-width="1.0"/>
<line x1="794.66" y1="1395.40" x2="794.66" y2="1394.50" stroke="#000" stroke-width="1.0"/>
<line x1="797.57" y1="1395.40" x2="797.57" y2="1393.54" stroke="#000" stroke-width="1.0"/>
<line x1="802.86" y1="1395.40" x2="802.86" y2="1393.23" stroke="#000" stroke-width="1.0"/>
<line x1="807.78" y1="1395.40" x2="807.78" y2="1394.05" stroke="#000" stroke-width="1.0"/>
<line x1="812.90" y1="1395.40" x2="812.90" y2="1394.84" stroke="#000" stroke-width="1.0"/>
<line x1="817.77" y1="1395.40" x2="817.77" y2="1394.26" stroke="#000" stroke-width="1.0"/>
<line x1="820.89" y1="1395.40" x2="820.89" y2="1394.72" stroke="#000" stroke-width="1.0"/>
<line x1="825.22" y1="1395.40" x2="825.22" y2="1394.62" stroke="#000" stroke-width="1.0"/>
<line x1="829.32" y1="1395.40" x2="829.32" y2="1393.95" stroke="#000" stroke-width="1.0"/>
<line x1="833.21" y1="1395.40" x2="833.21" y2="1394.85" stroke="#000" stroke-width="1.0"/>
<line x1="837.43" y1="1395.40" x2="837.43" y2="1394.65" stroke="#000" stroke-width="1.0"/>
<line x1="840.75" y1="1395.40" x2="840.75" y2="1394.73" stroke="#000" stroke-width="1.0"/>
<line x1="844.53" y1="1395.40" x2="844.53" y2="1394.96" stroke="#000" stroke-width="1.0"/>
<line x1="849.31" y1="1395.40" x2="849.31" y2="1393.29" stroke="#000" stroke-width="1.0"/>
<line x1="853.18" y1="1395.40" x2="853.18" y2="1393.73" stroke="#000" stroke-width="1.0"/>
<line x1="858.94" y1="1395.40" x2="858.94" y2="1395.02" stroke="#000" stroke-width="1.0"/>
<line x1="861.94" y1="1395.40" x2="861.94" y2="1393.57" stroke="#000" stroke-width="1.0"/>
<line x1="867.37" y1="1395.40" x2="867.37" y2="1393.89" stroke="#000" stroke-width="1.0"/>
<line x1="870.43" y1="1395.40" x2="870.43" y2="1394.31" stroke="#000" stroke-width="1.0"/>
<line x1="732.70" y1="1395.40" x2="732.70" y2="1373.20" stroke="#ff3333" stroke-width="1.6"/>
<line x1="731.80" y1="1395.40" x2="731.80" y2="1390.00" stroke="#000" stroke-width="1.2"/>
<line x1="743.20" y1="1395.40" x2="743.20" y2="1378.90" stroke="#ff7373" stroke-width="1.6"/>
<line x1="738.00" y1="1395.40" x2="738.00" y2="1390.50" stroke="#000" stroke-width="1.2"/>
<line x1="785.80" y1="1395.40" x2="785.80" y2="1360.90" stroke="#0099ff" stroke-width="1.6"/>
<line x1="786.40" y1="1395.40" x2="786.40" y2="1389.30" stroke="#000" stroke-width="1.2"/>
<line x1="796.20" y1="1395.40" x2="796.20" y2="1360.50" stroke="#44bbff" stroke-width="1.6"/>
<line x1="797.00" y1="1395.40" x2="797.00" y2="1391.00" stroke="#000" stroke-width="1"/>
<line x1="811.70" y1="1395.40" x2="811.70" y2="1338.20" stroke="#1434ff" stroke-width="1.6"/>
<line x1="812.30" y1="1395.40" x2="812.30" y2="1382.70" stroke="#000" stroke-width="1.3"/>
<line x1="821.80" y1="1395.40" x2="821.80" y2="1371.90" stroke="#6070ff" stroke-width="1.6"/>
<line x1="823.70" y1="1395.40" x2="823.70" y2="1353.70" stroke="#000" stroke-width="1.5"/>
<line x1="824.40" y1="1395.40" x2="824.40" y2="1384.00" stroke="#000" stroke-width="1.2"/>
<line x1="855.90" y1="1395.40" x2="855.90" y2="1250.00" stroke="#000" stroke-width="1.6"/>
<line x1="856.50" y1="1395.40" x2="856.50" y2="1360.90" stroke="#000" stroke-width="1.4"/>
<line x1="848.00" y1="1395.40" x2="848.00" y2="1391.00" stroke="#000" stroke-width="1"/>
<line x1="857.50" y1="1395.40" x2="857.50" y2="1389.00" stroke="#000" stroke-width="1.1"/>
<rect x="718.00" y="1227.90" width="158.30" height="167.50" stroke="#000" stroke-width="1.6" fill="none"/>
<line x1="713.70" y1="1227.90" x2="718.00" y2="1227.90" stroke="#000" stroke-width="1.6"/>
<line x1="709.30" y1="1395.40" x2="718.00" y2="1395.40" stroke="#000" stroke-width="1.6"/>
<line x1="709.30" y1="1343.80" x2="718.00" y2="1343.80" stroke="#000" stroke-width="1.6"/>
<line x1="709.30" y1="1292.20" x2="718.00" y2="1292.20" stroke="#000" stroke-width="1.6"/>
<line x1="709.30" y1="1240.60" x2="718.00" y2="1240.60" stroke="#000" stroke-width="1.6"/>
<line x1="713.70" y1="1369.60" x2="718.00" y2="1369.60" stroke="#000" stroke-width="1.6"/>
<line x1="713.70" y1="1318.00" x2="718.00" y2="1318.00" stroke="#000" stroke-width="1.6"/>
<line x1="713.70" y1="1266.40" x2="718.00" y2="1266.40" stroke="#000" stroke-width="1.6"/>
<line x1="743.50" y1="1395.40" x2="743.50" y2="1403.90" stroke="#000" stroke-width="1.6"/>
<line x1="808.40" y1="1395.40" x2="808.40" y2="1403.90" stroke="#000" stroke-width="1.6"/>
<line x1="873.30" y1="1395.40" x2="873.30" y2="1403.90" stroke="#000" stroke-width="1.6"/>
<line x1="775.95" y1="1395.40" x2="775.95" y2="1399.70" stroke="#000" stroke-width="1.6"/>
<line x1="840.85" y1="1395.40" x2="840.85" y2="1399.70" stroke="#000" stroke-width="1.6"/>
<text x="696.65" y="1342.80" font-size="12.10" font-weight="normal" fill="#000">4</text>
<text x="656.66" y="1350.70" font-size="18.65" font-weight="normal" fill="#000">2x10</text>
<text x="696.65" y="1291.20" font-size="12.10" font-weight="normal" fill="#000">4</text>
<text x="656.66" y="1299.10" font-size="18.65" font-weight="normal" fill="#000">4x10</text>
<text x="696.65" y="1239.60" font-size="12.10" font-weight="normal" fill="#000">4</text>
<text x="656.66" y="1247.50" font-size="18.65" font-weight="normal" fill="#000">6x10</text>
<text x="693.30" y="1401.80" font-size="18.65" font-weight="normal" fill="#000">0</text>
<text x="728.06" y="1424.40" font-size="18.49" font-weight="normal" fill="#000">300</text>
<text x="793.33" y="1424.40" font-size="18.26" font-weight="normal" fill="#000">400</text>
<text x="857.86" y="1424.40" font-size="18.49" font-weight="normal" fill="#000">500</text>
<text x="780.52" y="1443.40" font-size="22.81" font-weight="normal" fill="#000">m/z</text>
<text transform="translate(645.00,1340.00) rotate(-90)" x="-2.04" y="0" font-size="22.67" font-weight="normal" fill="#000">Intensity</text>
<text x="722.31" y="1251.00" font-size="18.56" font-weight="normal" fill="#000">RT = 8.61 min</text>
<rect x="977.7" y="1224.0" width="165.0" height="173.1" fill="#fff"/>
<clipPath id="cc3"><rect x="977.7" y="1224.0" width="165.0" height="173.1"/></clipPath><g clip-path="url(#cc3)">
<line x1="978.50" y1="1397.10" x2="978.50" y2="1395.38" stroke="#000" stroke-width="1.1"/>
<line x1="979.79" y1="1397.10" x2="979.79" y2="1392.07" stroke="#000" stroke-width="1.1"/>
<line x1="980.87" y1="1397.10" x2="980.87" y2="1395.13" stroke="#000" stroke-width="1.1"/>
<line x1="982.26" y1="1397.10" x2="982.26" y2="1389.50" stroke="#000" stroke-width="1.1"/>
<line x1="983.37" y1="1397.10" x2="983.37" y2="1393.29" stroke="#000" stroke-width="1.1"/>
<line x1="984.21" y1="1397.10" x2="984.21" y2="1396.09" stroke="#000" stroke-width="1.1"/>
<line x1="985.18" y1="1397.10" x2="985.18" y2="1392.58" stroke="#000" stroke-width="1.1"/>
<line x1="985.85" y1="1397.10" x2="985.85" y2="1389.79" stroke="#000" stroke-width="1.1"/>
<line x1="986.68" y1="1397.10" x2="986.68" y2="1395.04" stroke="#000" stroke-width="1.1"/>
<line x1="987.32" y1="1397.10" x2="987.32" y2="1372.03" stroke="#000" stroke-width="1.1"/>
<line x1="988.66" y1="1397.10" x2="988.66" y2="1387.78" stroke="#000" stroke-width="1.1"/>
<line x1="989.88" y1="1397.10" x2="989.88" y2="1395.96" stroke="#000" stroke-width="1.1"/>
<line x1="990.81" y1="1397.10" x2="990.81" y2="1393.35" stroke="#000" stroke-width="1.1"/>
<line x1="991.52" y1="1397.10" x2="991.52" y2="1383.96" stroke="#000" stroke-width="1.1"/>
<line x1="992.49" y1="1397.10" x2="992.49" y2="1395.43" stroke="#000" stroke-width="1.1"/>
<line x1="993.91" y1="1397.10" x2="993.91" y2="1395.57" stroke="#000" stroke-width="1.1"/>
<line x1="995.44" y1="1397.10" x2="995.44" y2="1393.69" stroke="#000" stroke-width="1.1"/>
<line x1="996.59" y1="1397.10" x2="996.59" y2="1394.42" stroke="#000" stroke-width="1.1"/>
<line x1="997.67" y1="1397.10" x2="997.67" y2="1395.27" stroke="#000" stroke-width="1.1"/>
<line x1="998.31" y1="1397.10" x2="998.31" y2="1388.06" stroke="#000" stroke-width="1.1"/>
<line x1="999.15" y1="1397.10" x2="999.15" y2="1390.04" stroke="#000" stroke-width="1.1"/>
<line x1="999.96" y1="1397.10" x2="999.96" y2="1382.23" stroke="#000" stroke-width="1.1"/>
<line x1="1001.45" y1="1397.10" x2="1001.45" y2="1390.48" stroke="#000" stroke-width="1.1"/>
<line x1="1002.81" y1="1397.10" x2="1002.81" y2="1392.62" stroke="#000" stroke-width="1.1"/>
<line x1="1004.14" y1="1397.10" x2="1004.14" y2="1395.58" stroke="#000" stroke-width="1.1"/>
<line x1="1005.22" y1="1397.10" x2="1005.22" y2="1389.08" stroke="#000" stroke-width="1.1"/>
<line x1="1006.02" y1="1397.10" x2="1006.02" y2="1385.84" stroke="#000" stroke-width="1.1"/>
<line x1="1007.51" y1="1397.10" x2="1007.51" y2="1393.99" stroke="#000" stroke-width="1.1"/>
<line x1="1008.47" y1="1397.10" x2="1008.47" y2="1393.70" stroke="#000" stroke-width="1.1"/>
<line x1="1009.46" y1="1397.10" x2="1009.46" y2="1375.03" stroke="#000" stroke-width="1.1"/>
<line x1="1010.44" y1="1397.10" x2="1010.44" y2="1395.99" stroke="#000" stroke-width="1.1"/>
<line x1="1011.14" y1="1397.10" x2="1011.14" y2="1391.04" stroke="#000" stroke-width="1.1"/>
<line x1="1012.73" y1="1397.10" x2="1012.73" y2="1393.36" stroke="#000" stroke-width="1.1"/>
<line x1="1013.82" y1="1397.10" x2="1013.82" y2="1392.90" stroke="#000" stroke-width="1.1"/>
<line x1="1015.17" y1="1397.10" x2="1015.17" y2="1395.10" stroke="#000" stroke-width="1.1"/>
<line x1="1016.38" y1="1397.10" x2="1016.38" y2="1392.85" stroke="#000" stroke-width="1.1"/>
<line x1="1017.60" y1="1397.10" x2="1017.60" y2="1395.30" stroke="#000" stroke-width="1.1"/>
<line x1="1018.37" y1="1397.10" x2="1018.37" y2="1394.39" stroke="#000" stroke-width="1.1"/>
<line x1="1019.90" y1="1397.10" x2="1019.90" y2="1394.40" stroke="#000" stroke-width="1.1"/>
<line x1="1021.10" y1="1397.10" x2="1021.10" y2="1394.64" stroke="#000" stroke-width="1.1"/>
<line x1="1021.80" y1="1397.10" x2="1021.80" y2="1395.83" stroke="#000" stroke-width="1.1"/>
<line x1="1023.21" y1="1397.10" x2="1023.21" y2="1390.10" stroke="#000" stroke-width="1.1"/>
<line x1="1024.19" y1="1397.10" x2="1024.19" y2="1391.50" stroke="#000" stroke-width="1.1"/>
<line x1="1025.46" y1="1397.10" x2="1025.46" y2="1386.94" stroke="#000" stroke-width="1.1"/>
<line x1="1027.02" y1="1397.10" x2="1027.02" y2="1394.01" stroke="#000" stroke-width="1.1"/>
<line x1="1028.61" y1="1397.10" x2="1028.61" y2="1383.08" stroke="#000" stroke-width="1.1"/>
<line x1="1029.80" y1="1397.10" x2="1029.80" y2="1387.51" stroke="#000" stroke-width="1.1"/>
<line x1="1030.89" y1="1397.10" x2="1030.89" y2="1394.22" stroke="#000" stroke-width="1.1"/>
<line x1="1031.74" y1="1397.10" x2="1031.74" y2="1387.75" stroke="#000" stroke-width="1.1"/>
<line x1="1032.50" y1="1397.10" x2="1032.50" y2="1395.81" stroke="#000" stroke-width="1.1"/>
<line x1="1033.91" y1="1397.10" x2="1033.91" y2="1390.15" stroke="#000" stroke-width="1.1"/>
<line x1="1034.99" y1="1397.10" x2="1034.99" y2="1388.84" stroke="#000" stroke-width="1.1"/>
<line x1="1035.64" y1="1397.10" x2="1035.64" y2="1394.91" stroke="#000" stroke-width="1.1"/>
<line x1="1036.53" y1="1397.10" x2="1036.53" y2="1393.92" stroke="#000" stroke-width="1.1"/>
<line x1="1037.30" y1="1397.10" x2="1037.30" y2="1395.81" stroke="#000" stroke-width="1.1"/>
<line x1="1038.24" y1="1397.10" x2="1038.24" y2="1386.92" stroke="#000" stroke-width="1.1"/>
<line x1="1039.82" y1="1397.10" x2="1039.82" y2="1390.62" stroke="#000" stroke-width="1.1"/>
<line x1="1040.90" y1="1397.10" x2="1040.90" y2="1394.94" stroke="#000" stroke-width="1.1"/>
<line x1="1042.46" y1="1397.10" x2="1042.46" y2="1393.12" stroke="#000" stroke-width="1.1"/>
<line x1="1043.79" y1="1397.10" x2="1043.79" y2="1395.99" stroke="#000" stroke-width="1.1"/>
<line x1="1044.60" y1="1397.10" x2="1044.60" y2="1388.81" stroke="#000" stroke-width="1.1"/>
<line x1="1046.00" y1="1397.10" x2="1046.00" y2="1387.57" stroke="#000" stroke-width="1.1"/>
<line x1="1047.20" y1="1397.10" x2="1047.20" y2="1393.88" stroke="#000" stroke-width="1.1"/>
<line x1="1048.38" y1="1397.10" x2="1048.38" y2="1388.53" stroke="#000" stroke-width="1.1"/>
<line x1="1049.29" y1="1397.10" x2="1049.29" y2="1393.04" stroke="#000" stroke-width="1.1"/>
<line x1="1050.17" y1="1397.10" x2="1050.17" y2="1390.25" stroke="#000" stroke-width="1.1"/>
<line x1="1050.78" y1="1397.10" x2="1050.78" y2="1391.48" stroke="#000" stroke-width="1.1"/>
<line x1="1052.33" y1="1397.10" x2="1052.33" y2="1396.00" stroke="#000" stroke-width="1.1"/>
<line x1="1053.52" y1="1397.10" x2="1053.52" y2="1391.97" stroke="#000" stroke-width="1.1"/>
<line x1="1054.97" y1="1397.10" x2="1054.97" y2="1392.59" stroke="#000" stroke-width="1.1"/>
<line x1="1055.83" y1="1397.10" x2="1055.83" y2="1394.02" stroke="#000" stroke-width="1.1"/>
<line x1="1057.39" y1="1397.10" x2="1057.39" y2="1386.66" stroke="#000" stroke-width="1.1"/>
<line x1="1058.12" y1="1397.10" x2="1058.12" y2="1395.70" stroke="#000" stroke-width="1.1"/>
<line x1="1058.82" y1="1397.10" x2="1058.82" y2="1396.00" stroke="#000" stroke-width="1.1"/>
<line x1="1059.86" y1="1397.10" x2="1059.86" y2="1395.49" stroke="#000" stroke-width="1.1"/>
<line x1="1061.33" y1="1397.10" x2="1061.33" y2="1391.84" stroke="#000" stroke-width="1.1"/>
<line x1="1062.06" y1="1397.10" x2="1062.06" y2="1393.01" stroke="#000" stroke-width="1.1"/>
<line x1="1062.98" y1="1397.10" x2="1062.98" y2="1393.38" stroke="#000" stroke-width="1.1"/>
<line x1="1063.80" y1="1397.10" x2="1063.80" y2="1395.37" stroke="#000" stroke-width="1.1"/>
<line x1="1064.59" y1="1397.10" x2="1064.59" y2="1394.20" stroke="#000" stroke-width="1.1"/>
<line x1="1065.90" y1="1397.10" x2="1065.90" y2="1392.91" stroke="#000" stroke-width="1.1"/>
<line x1="1066.54" y1="1397.10" x2="1066.54" y2="1391.14" stroke="#000" stroke-width="1.1"/>
<line x1="1068.02" y1="1397.10" x2="1068.02" y2="1390.15" stroke="#000" stroke-width="1.1"/>
<line x1="1069.41" y1="1397.10" x2="1069.41" y2="1396.07" stroke="#000" stroke-width="1.1"/>
<line x1="1070.47" y1="1397.10" x2="1070.47" y2="1395.84" stroke="#000" stroke-width="1.1"/>
<line x1="1071.84" y1="1397.10" x2="1071.84" y2="1395.33" stroke="#000" stroke-width="1.1"/>
<line x1="1073.15" y1="1397.10" x2="1073.15" y2="1394.93" stroke="#000" stroke-width="1.1"/>
<line x1="1074.44" y1="1397.10" x2="1074.44" y2="1394.59" stroke="#000" stroke-width="1.1"/>
<line x1="1075.09" y1="1397.10" x2="1075.09" y2="1394.13" stroke="#000" stroke-width="1.1"/>
<line x1="1075.99" y1="1397.10" x2="1075.99" y2="1386.86" stroke="#000" stroke-width="1.1"/>
<line x1="1076.89" y1="1397.10" x2="1076.89" y2="1393.30" stroke="#000" stroke-width="1.1"/>
<line x1="1078.04" y1="1397.10" x2="1078.04" y2="1384.26" stroke="#000" stroke-width="1.1"/>
<line x1="1078.74" y1="1397.10" x2="1078.74" y2="1392.42" stroke="#000" stroke-width="1.1"/>
<line x1="1079.85" y1="1397.10" x2="1079.85" y2="1390.79" stroke="#000" stroke-width="1.1"/>
<line x1="1081.41" y1="1397.10" x2="1081.41" y2="1394.61" stroke="#000" stroke-width="1.1"/>
<line x1="1082.71" y1="1397.10" x2="1082.71" y2="1393.12" stroke="#000" stroke-width="1.1"/>
<line x1="1083.87" y1="1397.10" x2="1083.87" y2="1395.84" stroke="#000" stroke-width="1.1"/>
<line x1="1085.29" y1="1397.10" x2="1085.29" y2="1381.04" stroke="#000" stroke-width="1.1"/>
<line x1="1086.24" y1="1397.10" x2="1086.24" y2="1394.57" stroke="#000" stroke-width="1.1"/>
<line x1="1087.84" y1="1397.10" x2="1087.84" y2="1395.64" stroke="#000" stroke-width="1.1"/>
<line x1="1088.51" y1="1397.10" x2="1088.51" y2="1395.80" stroke="#000" stroke-width="1.1"/>
<line x1="1089.93" y1="1397.10" x2="1089.93" y2="1390.39" stroke="#000" stroke-width="1.1"/>
<line x1="1090.97" y1="1397.10" x2="1090.97" y2="1392.21" stroke="#000" stroke-width="1.1"/>
<line x1="1091.59" y1="1397.10" x2="1091.59" y2="1391.96" stroke="#000" stroke-width="1.1"/>
<line x1="1092.64" y1="1397.10" x2="1092.64" y2="1393.19" stroke="#000" stroke-width="1.1"/>
<line x1="1093.63" y1="1397.10" x2="1093.63" y2="1394.05" stroke="#000" stroke-width="1.1"/>
<line x1="1094.45" y1="1397.10" x2="1094.45" y2="1395.90" stroke="#000" stroke-width="1.1"/>
<line x1="1095.49" y1="1397.10" x2="1095.49" y2="1394.96" stroke="#000" stroke-width="1.1"/>
<line x1="1096.79" y1="1397.10" x2="1096.79" y2="1389.30" stroke="#000" stroke-width="1.1"/>
<line x1="1098.11" y1="1397.10" x2="1098.11" y2="1393.66" stroke="#000" stroke-width="1.1"/>
<line x1="1098.95" y1="1397.10" x2="1098.95" y2="1394.15" stroke="#000" stroke-width="1.1"/>
<line x1="1100.04" y1="1397.10" x2="1100.04" y2="1392.10" stroke="#000" stroke-width="1.1"/>
<line x1="1101.60" y1="1397.10" x2="1101.60" y2="1395.74" stroke="#000" stroke-width="1.1"/>
<line x1="1102.68" y1="1397.10" x2="1102.68" y2="1393.39" stroke="#000" stroke-width="1.1"/>
<line x1="1104.00" y1="1397.10" x2="1104.00" y2="1387.25" stroke="#000" stroke-width="1.1"/>
<line x1="1105.38" y1="1397.10" x2="1105.38" y2="1392.16" stroke="#000" stroke-width="1.1"/>
<line x1="1106.74" y1="1397.10" x2="1106.74" y2="1391.69" stroke="#000" stroke-width="1.1"/>
<line x1="1108.19" y1="1397.10" x2="1108.19" y2="1391.30" stroke="#000" stroke-width="1.1"/>
<line x1="1109.48" y1="1397.10" x2="1109.48" y2="1394.97" stroke="#000" stroke-width="1.1"/>
<line x1="1110.99" y1="1397.10" x2="1110.99" y2="1394.15" stroke="#000" stroke-width="1.1"/>
<line x1="1112.21" y1="1397.10" x2="1112.21" y2="1389.13" stroke="#000" stroke-width="1.1"/>
<line x1="1113.77" y1="1397.10" x2="1113.77" y2="1377.98" stroke="#000" stroke-width="1.1"/>
<line x1="1114.38" y1="1397.10" x2="1114.38" y2="1394.60" stroke="#000" stroke-width="1.1"/>
<line x1="1115.29" y1="1397.10" x2="1115.29" y2="1394.11" stroke="#000" stroke-width="1.1"/>
<line x1="1116.04" y1="1397.10" x2="1116.04" y2="1392.88" stroke="#000" stroke-width="1.1"/>
<line x1="1116.72" y1="1397.10" x2="1116.72" y2="1394.66" stroke="#000" stroke-width="1.1"/>
<line x1="1118.26" y1="1397.10" x2="1118.26" y2="1390.68" stroke="#000" stroke-width="1.1"/>
<line x1="1119.32" y1="1397.10" x2="1119.32" y2="1395.64" stroke="#000" stroke-width="1.1"/>
<line x1="1120.88" y1="1397.10" x2="1120.88" y2="1391.23" stroke="#000" stroke-width="1.1"/>
<line x1="1121.68" y1="1397.10" x2="1121.68" y2="1394.47" stroke="#000" stroke-width="1.1"/>
<line x1="1122.92" y1="1397.10" x2="1122.92" y2="1391.52" stroke="#000" stroke-width="1.1"/>
<line x1="1123.79" y1="1397.10" x2="1123.79" y2="1384.02" stroke="#000" stroke-width="1.1"/>
<line x1="1124.71" y1="1397.10" x2="1124.71" y2="1394.93" stroke="#000" stroke-width="1.1"/>
<line x1="1126.15" y1="1397.10" x2="1126.15" y2="1395.43" stroke="#000" stroke-width="1.1"/>
<line x1="1127.43" y1="1397.10" x2="1127.43" y2="1395.21" stroke="#000" stroke-width="1.1"/>
<line x1="1128.63" y1="1397.10" x2="1128.63" y2="1394.80" stroke="#000" stroke-width="1.1"/>
<line x1="1129.61" y1="1397.10" x2="1129.61" y2="1384.80" stroke="#000" stroke-width="1.1"/>
<line x1="1130.68" y1="1397.10" x2="1130.68" y2="1393.80" stroke="#000" stroke-width="1.1"/>
<line x1="1131.90" y1="1397.10" x2="1131.90" y2="1394.78" stroke="#000" stroke-width="1.1"/>
<line x1="1132.67" y1="1397.10" x2="1132.67" y2="1394.16" stroke="#000" stroke-width="1.1"/>
<line x1="1133.54" y1="1397.10" x2="1133.54" y2="1395.26" stroke="#000" stroke-width="1.1"/>
<line x1="1135.10" y1="1397.10" x2="1135.10" y2="1395.96" stroke="#000" stroke-width="1.1"/>
<line x1="1136.51" y1="1397.10" x2="1136.51" y2="1385.18" stroke="#000" stroke-width="1.1"/>
<line x1="1137.82" y1="1397.10" x2="1137.82" y2="1396.02" stroke="#000" stroke-width="1.1"/>
<line x1="1138.92" y1="1397.10" x2="1138.92" y2="1395.94" stroke="#000" stroke-width="1.1"/>
<line x1="1140.13" y1="1397.10" x2="1140.13" y2="1391.28" stroke="#000" stroke-width="1.1"/>
<line x1="1140.97" y1="1397.10" x2="1140.97" y2="1396.07" stroke="#000" stroke-width="1.1"/>
<line x1="1142.11" y1="1397.10" x2="1142.11" y2="1395.70" stroke="#000" stroke-width="1.1"/>
<polygon points="977.55,1397.1 978.30,1221.00 979.05,1397.1" fill="#000"/>
<line x1="978.30" y1="1397.10" x2="978.30" y2="1221.00" stroke="#000" stroke-width="1.5"/>
<polygon points="981.67,1397.1 982.80,1221.00 983.92,1397.1" fill="#000"/>
<line x1="982.80" y1="1397.10" x2="982.80" y2="1221.00" stroke="#000" stroke-width="1.5"/>
<polygon points="990.95,1397.1 992.30,1221.00 993.65,1397.1" fill="#000"/>
<line x1="992.30" y1="1397.10" x2="992.30" y2="1221.00" stroke="#000" stroke-width="1.5"/>
<polygon points="1000.15,1397.1 1001.80,1221.00 1003.45,1397.1" fill="#000"/>
<line x1="1001.80" y1="1397.10" x2="1001.80" y2="1221.00" stroke="#000" stroke-width="1.5"/>
<polygon points="1009.52,1397.1 1011.40,1221.00 1013.27,1397.1" fill="#000"/>
<line x1="1011.40" y1="1397.10" x2="1011.40" y2="1221.00" stroke="#000" stroke-width="1.5"/>
<polygon points="1010.33,1397.1 1012.20,1221.00 1014.08,1397.1" fill="#000"/>
<line x1="1012.20" y1="1397.10" x2="1012.20" y2="1221.00" stroke="#000" stroke-width="1.5"/>
<polygon points="1017.55,1397.1 1018.90,1221.00 1020.25,1397.1" fill="#000"/>
<line x1="1018.90" y1="1397.10" x2="1018.90" y2="1221.00" stroke="#000" stroke-width="1.5"/>
<polygon points="1020.60,1397.1 1022.10,1221.00 1023.60,1397.1" fill="#000"/>
<line x1="1022.10" y1="1397.10" x2="1022.10" y2="1221.00" stroke="#000" stroke-width="1.5"/>
<polygon points="1029.83,1397.1 1031.70,1221.00 1033.58,1397.1" fill="#000"/>
<line x1="1031.70" y1="1397.10" x2="1031.70" y2="1221.00" stroke="#000" stroke-width="1.5"/>
<polygon points="1030.65,1397.1 1032.30,1221.00 1033.95,1397.1" fill="#000"/>
<line x1="1032.30" y1="1397.10" x2="1032.30" y2="1221.00" stroke="#000" stroke-width="1.5"/>
<polygon points="1038.15,1397.1 1040.40,1221.00 1042.65,1397.1" fill="#000"/>
<line x1="1040.40" y1="1397.10" x2="1040.40" y2="1221.00" stroke="#000" stroke-width="1.5"/>
<polygon points="1040.15,1397.1 1042.40,1221.00 1044.65,1397.1" fill="#000"/>
<line x1="1042.40" y1="1397.10" x2="1042.40" y2="1221.00" stroke="#000" stroke-width="1.5"/>
<polygon points="1041.33,1397.1 1043.20,1221.00 1045.08,1397.1" fill="#000"/>
<line x1="1043.20" y1="1397.10" x2="1043.20" y2="1221.00" stroke="#000" stroke-width="1.5"/>
<polygon points="1048.33,1397.1 1050.20,1221.00 1052.08,1397.1" fill="#000"/>
<line x1="1050.20" y1="1397.10" x2="1050.20" y2="1221.00" stroke="#000" stroke-width="1.5"/>
<polygon points="1058.80,1397.1 1060.90,1221.00 1063.00,1397.1" fill="#000"/>
<line x1="1060.90" y1="1397.10" x2="1060.90" y2="1221.00" stroke="#000" stroke-width="1.5"/>
<polygon points="1103.95,1397.1 1106.20,1221.00 1108.45,1397.1" fill="#000"/>
<line x1="1106.20" y1="1397.10" x2="1106.20" y2="1221.00" stroke="#000" stroke-width="1.5"/>
<polygon points="1104.55,1397.1 1106.80,1221.00 1109.05,1397.1" fill="#000"/>
<line x1="1106.80" y1="1397.10" x2="1106.80" y2="1221.00" stroke="#000" stroke-width="1.5"/>
<polygon points="1105.15,1397.1 1107.40,1221.00 1109.65,1397.1" fill="#000"/>
<line x1="1107.40" y1="1397.10" x2="1107.40" y2="1221.00" stroke="#000" stroke-width="1.5"/>
<polygon points="1107.92,1397.1 1109.80,1221.00 1111.67,1397.1" fill="#000"/>
<line x1="1109.80" y1="1397.10" x2="1109.80" y2="1221.00" stroke="#000" stroke-width="1.5"/>
<polygon points="1115.35,1397.1 1117.00,1221.00 1118.65,1397.1" fill="#000"/>
<line x1="1117.00" y1="1397.10" x2="1117.00" y2="1221.00" stroke="#000" stroke-width="1.5"/>
<polygon points="1001.60,1397.1 1003.00,1299.30 1004.40,1397.1" fill="#000"/>
<line x1="1003.00" y1="1397.10" x2="1003.00" y2="1299.30" stroke="#000" stroke-width="1.2"/>
<polygon points="983.10,1397.1 984.50,1363.20 985.90,1397.1" fill="#000"/>
<line x1="984.50" y1="1397.10" x2="984.50" y2="1363.20" stroke="#000" stroke-width="1.2"/>
<polygon points="1011.80,1397.1 1013.20,1336.90 1014.60,1397.1" fill="#000"/>
<line x1="1013.20" y1="1397.10" x2="1013.20" y2="1336.90" stroke="#000" stroke-width="1.2"/>
<polygon points="1021.30,1397.1 1022.70,1325.00 1024.10,1397.1" fill="#000"/>
<line x1="1022.70" y1="1397.10" x2="1022.70" y2="1325.00" stroke="#000" stroke-width="1.2"/>
<polygon points="1036.20,1397.1 1037.60,1319.00 1039.00,1397.1" fill="#000"/>
<line x1="1037.60" y1="1397.10" x2="1037.60" y2="1319.00" stroke="#000" stroke-width="1.2"/>
<polygon points="1038.60,1397.1 1040.00,1342.30 1041.40,1397.1" fill="#000"/>
<line x1="1040.00" y1="1397.10" x2="1040.00" y2="1342.30" stroke="#000" stroke-width="1.2"/>
<polygon points="1045.80,1397.1 1047.20,1347.70 1048.60,1397.1" fill="#000"/>
<line x1="1047.20" y1="1397.10" x2="1047.20" y2="1347.70" stroke="#000" stroke-width="1.2"/>
<polygon points="1050.00,1397.1 1051.40,1331.00 1052.80,1397.1" fill="#000"/>
<line x1="1051.40" y1="1397.10" x2="1051.40" y2="1331.00" stroke="#000" stroke-width="1.2"/>
<polygon points="1058.30,1397.1 1059.70,1294.00 1061.10,1397.1" fill="#000"/>
<line x1="1059.70" y1="1397.10" x2="1059.70" y2="1294.00" stroke="#000" stroke-width="1.2"/>
<polygon points="1068.80,1397.1 1070.20,1338.10 1071.60,1397.1" fill="#000"/>
<line x1="1070.20" y1="1397.10" x2="1070.20" y2="1338.10" stroke="#000" stroke-width="1.2"/>
<polygon points="1067.30,1397.1 1068.70,1354.80 1070.10,1397.1" fill="#000"/>
<line x1="1068.70" y1="1397.10" x2="1068.70" y2="1354.80" stroke="#000" stroke-width="1.2"/>
<polygon points="1081.90,1397.1 1083.30,1277.30 1084.70,1397.1" fill="#000"/>
<line x1="1083.30" y1="1397.10" x2="1083.30" y2="1277.30" stroke="#000" stroke-width="1.2"/>
<polygon points="1092.30,1397.1 1093.70,1355.40 1095.10,1397.1" fill="#000"/>
<line x1="1093.70" y1="1397.10" x2="1093.70" y2="1355.40" stroke="#000" stroke-width="1.2"/>
<polygon points="1078.30,1397.1 1079.70,1369.10 1081.10,1397.1" fill="#000"/>
<line x1="1079.70" y1="1397.10" x2="1079.70" y2="1369.10" stroke="#000" stroke-width="1.2"/>
<polygon points="1110.20,1397.1 1111.60,1284.40 1113.00,1397.1" fill="#000"/>
<line x1="1111.60" y1="1397.10" x2="1111.60" y2="1284.40" stroke="#000" stroke-width="1.2"/>
<polygon points="1115.60,1397.1 1117.00,1322.00 1118.40,1397.1" fill="#000"/>
<line x1="1117.00" y1="1397.10" x2="1117.00" y2="1322.00" stroke="#000" stroke-width="1.2"/>
<polygon points="1120.30,1397.1 1121.70,1360.80 1123.10,1397.1" fill="#000"/>
<line x1="1121.70" y1="1397.10" x2="1121.70" y2="1360.80" stroke="#000" stroke-width="1.2"/>
<polygon points="1136.40,1397.1 1137.80,1330.40 1139.20,1397.1" fill="#000"/>
<line x1="1137.80" y1="1397.10" x2="1137.80" y2="1330.40" stroke="#000" stroke-width="1.2"/>
<polygon points="1102.40,1397.1 1103.80,1371.50 1105.20,1397.1" fill="#000"/>
<line x1="1103.80" y1="1397.10" x2="1103.80" y2="1371.50" stroke="#000" stroke-width="1.2"/>
<polygon points="1086.30,1397.1 1087.70,1373.90 1089.10,1397.1" fill="#000"/>
<line x1="1087.70" y1="1397.10" x2="1087.70" y2="1373.90" stroke="#000" stroke-width="1.2"/>
<polygon points="1075.00,1397.1 1076.40,1382.00 1077.80,1397.1" fill="#000"/>
<line x1="1076.40" y1="1397.10" x2="1076.40" y2="1382.00" stroke="#000" stroke-width="1.2"/>
<polygon points="994.50,1397.1 995.90,1384.00 997.30,1397.1" fill="#000"/>
<line x1="995.90" y1="1397.10" x2="995.90" y2="1384.00" stroke="#000" stroke-width="1.2"/>
<polygon points="1006.60,1397.1 1008.00,1376.00 1009.40,1397.1" fill="#000"/>
<line x1="1008.00" y1="1397.10" x2="1008.00" y2="1376.00" stroke="#000" stroke-width="1.2"/>
<polygon points="1014.60,1397.1 1016.00,1372.00 1017.40,1397.1" fill="#000"/>
<line x1="1016.00" y1="1397.10" x2="1016.00" y2="1372.00" stroke="#000" stroke-width="1.2"/>
<polygon points="1024.60,1397.1 1026.00,1375.00 1027.40,1397.1" fill="#000"/>
<line x1="1026.00" y1="1397.10" x2="1026.00" y2="1375.00" stroke="#000" stroke-width="1.2"/>
<polygon points="1033.60,1397.1 1035.00,1370.00 1036.40,1397.1" fill="#000"/>
<line x1="1035.00" y1="1397.10" x2="1035.00" y2="1370.00" stroke="#000" stroke-width="1.2"/>
<polygon points="1053.60,1397.1 1055.00,1368.00 1056.40,1397.1" fill="#000"/>
<line x1="1055.00" y1="1397.10" x2="1055.00" y2="1368.00" stroke="#000" stroke-width="1.2"/>
<polygon points="1062.60,1397.1 1064.00,1378.00 1065.40,1397.1" fill="#000"/>
<line x1="1064.00" y1="1397.10" x2="1064.00" y2="1378.00" stroke="#000" stroke-width="1.2"/>
<polygon points="1071.60,1397.1 1073.00,1372.00 1074.40,1397.1" fill="#000"/>
<line x1="1073.00" y1="1397.10" x2="1073.00" y2="1372.00" stroke="#000" stroke-width="1.2"/>
<polygon points="1087.60,1397.1 1089.00,1380.00 1090.40,1397.1" fill="#000"/>
<line x1="1089.00" y1="1397.10" x2="1089.00" y2="1380.00" stroke="#000" stroke-width="1.2"/>
<polygon points="1095.60,1397.1 1097.00,1376.00 1098.40,1397.1" fill="#000"/>
<line x1="1097.00" y1="1397.10" x2="1097.00" y2="1376.00" stroke="#000" stroke-width="1.2"/>
<polygon points="1098.60,1397.1 1100.00,1372.00 1101.40,1397.1" fill="#000"/>
<line x1="1100.00" y1="1397.10" x2="1100.00" y2="1372.00" stroke="#000" stroke-width="1.2"/>
<polygon points="1111.60,1397.1 1113.00,1365.00 1114.40,1397.1" fill="#000"/>
<line x1="1113.00" y1="1397.10" x2="1113.00" y2="1365.00" stroke="#000" stroke-width="1.2"/>
<polygon points="1123.60,1397.1 1125.00,1380.00 1126.40,1397.1" fill="#000"/>
<line x1="1125.00" y1="1397.10" x2="1125.00" y2="1380.00" stroke="#000" stroke-width="1.2"/>
<polygon points="1128.60,1397.1 1130.00,1384.00 1131.40,1397.1" fill="#000"/>
<line x1="1130.00" y1="1397.10" x2="1130.00" y2="1384.00" stroke="#000" stroke-width="1.2"/>
<polygon points="1132.60,1397.1 1134.00,1386.00 1135.40,1397.1" fill="#000"/>
<line x1="1134.00" y1="1397.10" x2="1134.00" y2="1386.00" stroke="#000" stroke-width="1.2"/>
<polygon points="1138.60,1397.1 1140.00,1388.00 1141.40,1397.1" fill="#000"/>
<line x1="1140.00" y1="1397.10" x2="1140.00" y2="1388.00" stroke="#000" stroke-width="1.2"/>
<line x1="992.90" y1="1369.10" x2="992.90" y2="1334.50" stroke="#ff3333" stroke-width="1.8"/>
<line x1="1004.00" y1="1384.00" x2="1004.00" y2="1373.90" stroke="#ff7373" stroke-width="1.8"/>
<line x1="1020.10" y1="1382.30" x2="1020.10" y2="1362.00" stroke="#ff8000" stroke-width="1.8"/>
<line x1="1031.10" y1="1394.80" x2="1031.10" y2="1272.50" stroke="#808000" stroke-width="1.8"/>
<line x1="1047.20" y1="1389.40" x2="1047.20" y2="1360.80" stroke="#cc9900" stroke-width="1.8"/>
<line x1="1058.30" y1="1394.80" x2="1058.30" y2="1373.90" stroke="#ff8000" stroke-width="1.8"/>
</g>
<rect x="977.70" y="1224.00" width="165.00" height="173.10" stroke="#000" stroke-width="1.6" fill="none"/>
<line x1="974.10" y1="1224.00" x2="977.70" y2="1224.00" stroke="#000" stroke-width="1.6"/>
<line x1="970.40" y1="1397.10" x2="977.70" y2="1397.10" stroke="#000" stroke-width="1.6"/>
<line x1="970.40" y1="1353.80" x2="977.70" y2="1353.80" stroke="#000" stroke-width="1.6"/>
<line x1="970.40" y1="1310.50" x2="977.70" y2="1310.50" stroke="#000" stroke-width="1.6"/>
<line x1="970.40" y1="1267.20" x2="977.70" y2="1267.20" stroke="#000" stroke-width="1.6"/>
<line x1="970.40" y1="1223.90" x2="977.70" y2="1223.90" stroke="#000" stroke-width="1.6"/>
<line x1="974.10" y1="1375.45" x2="977.70" y2="1375.45" stroke="#000" stroke-width="1.6"/>
<line x1="974.10" y1="1332.15" x2="977.70" y2="1332.15" stroke="#000" stroke-width="1.6"/>
<line x1="974.10" y1="1288.85" x2="977.70" y2="1288.85" stroke="#000" stroke-width="1.6"/>
<line x1="974.10" y1="1245.55" x2="977.70" y2="1245.55" stroke="#000" stroke-width="1.6"/>
<line x1="1004.40" y1="1397.10" x2="1004.40" y2="1405.10" stroke="#000" stroke-width="1.6"/>
<line x1="1072.20" y1="1397.10" x2="1072.20" y2="1405.10" stroke="#000" stroke-width="1.6"/>
<line x1="1140.00" y1="1397.10" x2="1140.00" y2="1405.10" stroke="#000" stroke-width="1.6"/>
<line x1="1038.30" y1="1397.10" x2="1038.30" y2="1401.10" stroke="#000" stroke-width="1.6"/>
<line x1="1106.10" y1="1397.10" x2="1106.10" y2="1401.10" stroke="#000" stroke-width="1.6"/>
<rect x="987.7" y="1230.5" width="124.6" height="21" fill="#fff" stroke="#555" stroke-width="1"/>
<text x="990.86" y="1248.10" font-size="19.25" font-weight="normal" fill="#000">RT = 8.78 min</text>
<text x="956.35" y="1353.60" font-size="13.50" font-weight="normal" fill="#000">3</text>
<text x="915.50" y="1360.80" font-size="19.10" font-weight="normal" fill="#000">1x10</text>
<text x="956.35" y="1310.30" font-size="13.50" font-weight="normal" fill="#000">3</text>
<text x="915.50" y="1317.50" font-size="19.10" font-weight="normal" fill="#000">2x10</text>
<text x="956.35" y="1267.00" font-size="13.50" font-weight="normal" fill="#000">3</text>
<text x="915.50" y="1274.20" font-size="19.10" font-weight="normal" fill="#000">3x10</text>
<text x="956.35" y="1223.70" font-size="13.50" font-weight="normal" fill="#000">3</text>
<text x="915.50" y="1230.90" font-size="19.10" font-weight="normal" fill="#000">4x10</text>
<text x="953.37" y="1403.60" font-size="19.10" font-weight="normal" fill="#000">0</text>
<text x="988.38" y="1427.00" font-size="19.18" font-weight="normal" fill="#000">300</text>
<text x="1056.57" y="1427.00" font-size="18.94" font-weight="normal" fill="#000">400</text>
<text x="1123.98" y="1427.00" font-size="19.18" font-weight="normal" fill="#000">500</text>
<text x="1043.57" y="1447.00" font-size="23.61" font-weight="normal" fill="#000">m/z</text>
<text transform="translate(902.00,1339.50) rotate(-90)" x="-2.09" y="0" font-size="23.25" font-weight="normal" fill="#000">Intensity</text>
<rect x="1158.5" y="1199.1" width="253" height="306.7" fill="#fff" stroke="#666" stroke-width="1.3"/>
<line x1="1161.70" y1="1212.40" x2="1204.00" y2="1212.40" stroke="#000" stroke-width="2.6"/>
<text x="1208.75" y="1218.80" font-size="19.03" font-weight="normal" fill="#000">20:3_Precursor</text>
<line x1="1161.70" y1="1235.79" x2="1204.00" y2="1235.79" stroke="#1434ff" stroke-width="2.6"/>
<text x="1208.75" y="1242.19" font-size="19.07" font-weight="normal" fill="#000">20:3n-6,9,x_Al{n-6}</text>
<line x1="1161.70" y1="1259.18" x2="1204.00" y2="1259.18" stroke="#6070ff" stroke-width="2.6"/>
<text x="1208.75" y="1265.58" font-size="19.10" font-weight="normal" fill="#000">20:3n-6,9,x_Cr{n-6}</text>
<line x1="1161.70" y1="1282.57" x2="1204.00" y2="1282.57" stroke="#0099ff" stroke-width="2.6"/>
<text x="1208.75" y="1288.97" font-size="19.07" font-weight="normal" fill="#000">20:3n-6,9,x_Al{n-9}</text>
<line x1="1161.70" y1="1305.96" x2="1204.00" y2="1305.96" stroke="#44bbff" stroke-width="2.6"/>
<text x="1208.75" y="1312.36" font-size="19.10" font-weight="normal" fill="#000">20:3n-6,9,x_Cr{n-9}</text>
<line x1="1161.70" y1="1329.35" x2="1204.00" y2="1329.35" stroke="#00d000" stroke-width="2.6"/>
<text x="1208.74" y="1335.75" font-size="19.12" font-weight="normal" fill="#000">20:3n-6,9,12_Al{n-12}</text>
<line x1="1161.70" y1="1352.74" x2="1204.00" y2="1352.74" stroke="#007f50" stroke-width="2.6"/>
<text x="1208.75" y="1359.14" font-size="19.08" font-weight="normal" fill="#000">20:3n-6,9,12_Cr{n-12}</text>
<line x1="1161.70" y1="1376.13" x2="1204.00" y2="1376.13" stroke="#ff3333" stroke-width="2.6"/>
<text x="1208.75" y="1382.53" font-size="19.10" font-weight="normal" fill="#000">20:3n-x,x,15_Al{n-15}</text>
<line x1="1161.70" y1="1399.52" x2="1204.00" y2="1399.52" stroke="#ff7373" stroke-width="2.6"/>
<text x="1208.74" y="1405.92" font-size="19.11" font-weight="normal" fill="#000">20:3n-x,x,15_Cr{n-15}</text>
<line x1="1161.70" y1="1422.91" x2="1204.00" y2="1422.91" stroke="#996600" stroke-width="2.6"/>
<text x="1208.74" y="1429.31" font-size="19.12" font-weight="normal" fill="#000">20:3n-9,12,15_Al{n-9}</text>
<line x1="1161.70" y1="1446.30" x2="1204.00" y2="1446.30" stroke="#ff8000" stroke-width="2.6"/>
<text x="1208.75" y="1452.70" font-size="19.08" font-weight="normal" fill="#000">20:3n-9,12,15_Cr{n-9}</text>
<line x1="1161.70" y1="1469.69" x2="1204.00" y2="1469.69" stroke="#cc9900" stroke-width="2.6"/>
<text x="1208.75" y="1476.09" font-size="19.09" font-weight="normal" fill="#000">20:3n-9,12,15_Al{n-12}</text>
<line x1="1161.70" y1="1493.08" x2="1204.00" y2="1493.08" stroke="#808000" stroke-width="2.6"/>
<text x="1208.74" y="1499.48" font-size="19.10" font-weight="normal" fill="#000">20:3n-9,12,15_Cr{n-12}</text>
<rect x="886.6" y="1508.4" width="315.5" height="121.7" fill="#fff"/>
<clipPath id="cc4"><rect x="886.6" y="1508.4" width="315.5" height="121.7"/></clipPath><g clip-path="url(#cc4)">
<polyline points="886.6,1626.0 930.0,1628.5 1000.0,1629.0 1060.0,1627.0 1100.0,1628.5 1202.0,1628.0" fill="none" stroke="#1434ff" stroke-width="1.5" stroke-linejoin="miter" stroke-miterlimit="4"/>
<polyline points="886.6,1620.0 920.0,1626.0 960.0,1624.5 1003.0,1622.0 1036.3,1604.6 1049.5,1614.3 1082.8,1616.1 1117.9,1615.2 1130.2,1613.4 1153.0,1617.8 1202.1,1622.2" fill="none" stroke="#6070ff" stroke-width="1.5" stroke-linejoin="miter" stroke-miterlimit="4"/>
<polyline points="886.6,1599.4 898.5,1607.3 910.0,1606.0 935.0,1607.0 950.0,1610.0 967.8,1603.8 991.6,1596.8 1003.9,1614.3 1036.3,1608.2 1049.5,1616.1 1065.3,1616.1 1082.8,1620.4 1109.1,1617.8 1117.9,1624.8 1135.4,1621.3 1153.0,1623.1 1170.5,1626.6 1202.1,1624.8" fill="none" stroke="#44bbff" stroke-width="1.5" stroke-linejoin="miter" stroke-miterlimit="4"/>
<polyline points="886.6,1609.0 899.4,1612.9 921.3,1614.3 946.8,1606.4 956.4,1611.7 967.8,1603.8 991.5,1596.8 1002.0,1609.0 1023.0,1616.0 1036.3,1606.0 1050.0,1618.0 1080.0,1623.0 1110.0,1626.0 1140.0,1622.0 1170.0,1624.0 1202.0,1627.0" fill="none" stroke="#0099ff" stroke-width="1.5" stroke-linejoin="miter" stroke-miterlimit="4"/>
<polyline points="886.6,1625.0 910.0,1627.0 950.0,1626.5 990.0,1624.0 1012.0,1612.0 1025.0,1614.0 1036.3,1596.0 1048.0,1609.0 1060.0,1610.0 1069.6,1598.0 1082.0,1609.0 1105.0,1608.0 1130.0,1608.0 1140.7,1609.0 1151.2,1601.1 1162.6,1585.9 1187.2,1535.4 1190.7,1505.0" fill="none" stroke="#007f50" stroke-width="1.5" stroke-linejoin="miter" stroke-miterlimit="4"/>
<polyline points="886.6,1622.0 930.0,1623.0 960.0,1621.3 991.6,1617.8 1012.6,1616.9 1024.9,1616.1 1036.3,1615.2 1047.7,1609.9 1065.3,1610.8 1082.8,1611.7 1105.6,1616.1 1117.9,1611.7 1128.4,1612.2 1140.7,1616.1 1163.5,1621.3 1202.1,1621.0" fill="none" stroke="#ff8000" stroke-width="1.5" stroke-linejoin="miter" stroke-miterlimit="4"/>
<polyline points="886.6,1623.1 910.8,1624.0 935.4,1624.0 947.6,1624.8 956.4,1614.3 970.4,1616.1 979.3,1617.8 991.6,1611.7 1003.9,1609.0 1012.6,1598.5 1024.9,1610.8 1036.3,1591.8 1048.6,1592.4 1060.9,1599.4 1069.6,1593.2 1081.1,1601.1 1093.3,1601.7 1105.6,1600.3 1117.9,1598.5 1129.3,1602.0 1140.7,1609.0 1151.2,1616.1 1174.9,1617.8 1202.1,1621.3" fill="none" stroke="#ff3333" stroke-width="1.5" stroke-linejoin="miter" stroke-miterlimit="4"/>
<polyline points="886.6,1625.7 930.0,1624.0 960.0,1618.0 1002.0,1610.8 1012.5,1611.1 1023.1,1605.5 1037.2,1582.7 1048.6,1580.6 1061.8,1587.6 1069.6,1589.7 1081.9,1576.6 1094.2,1595.9 1105.6,1588.9 1117.9,1593.6 1128.4,1593.6 1138.9,1591.1 1163.5,1599.9 1174.9,1604.6 1187.2,1614.0 1202.1,1612.5" fill="none" stroke="#7a5555" stroke-width="1.5" stroke-linejoin="miter" stroke-miterlimit="4"/>
<polyline points="886.6,1599.4 898.5,1599.4 910.8,1604.1 921.3,1604.1 935.4,1601.1 947.6,1603.8 967.8,1601.1 981.0,1603.4 991.5,1603.8 1003.8,1604.1 1012.5,1611.7 1024.8,1614.0 1036.3,1576.1 1047.7,1581.0 1060.0,1582.7 1068.8,1593.2 1081.1,1597.6 1094.2,1587.6 1105.6,1594.1 1116.1,1604.6 1128.4,1607.3 1140.7,1611.7 1151.2,1603.8 1163.5,1602.4 1174.9,1605.5 1187.2,1614.3 1196.0,1603.4 1202.1,1608.2" fill="none" stroke="#808000" stroke-width="1.5" stroke-linejoin="miter" stroke-miterlimit="4"/>
<polyline points="886.6,1621.3 910.8,1623.1 935.4,1615.2 947.6,1616.1 961.7,1612.5 979.2,1609.0 991.5,1599.4 1003.8,1597.6 1012.6,1600.3 1023.1,1596.4 1036.3,1574.8 1048.6,1561.7 1060.9,1572.2 1069.6,1571.7 1082.8,1576.6 1093.7,1569.0 1105.6,1585.9 1117.9,1581.0 1129.3,1595.5 1138.9,1586.6 1150.4,1589.7 1161.8,1598.2 1174.0,1600.3 1187.2,1609.0 1202.1,1612.5" fill="none" stroke="#cc9900" stroke-width="1.5" stroke-linejoin="miter" stroke-miterlimit="4"/>
<polyline points="886.6,1618.7 900.3,1622.2 910.8,1621.7 923.1,1627.5 935.4,1627.5 947.6,1624.0 961.7,1622.2 979.2,1620.4 991.5,1620.8 1003.8,1619.9 1012.5,1617.8 1023.1,1616.9 1036.3,1602.4 1048.6,1604.6 1060.9,1612.2 1069.6,1606.4 1081.1,1610.8 1093.3,1606.4 1105.6,1608.2 1117.9,1605.9 1129.3,1608.2 1140.7,1612.5 1151.2,1616.1 1163.5,1615.2 1174.9,1616.9 1187.2,1618.7 1196.0,1616.1 1202.1,1616.9" fill="none" stroke="#000" stroke-width="1.5" stroke-linejoin="miter" stroke-miterlimit="4"/>
<polyline points="886.6,1616.9 900.3,1616.9 923.1,1611.7 935.4,1605.5 947.6,1602.0 966.9,1565.2 979.2,1535.4 991.5,1511.7 993.5,1504.0" fill="none" stroke="#00d000" stroke-width="1.5" stroke-linejoin="miter" stroke-miterlimit="4"/>
</g>
<rect x="886.60" y="1508.40" width="315.50" height="121.70" stroke="#000" stroke-width="1.6" fill="none"/>
<line x1="878.30" y1="1508.40" x2="886.60" y2="1508.40" stroke="#000" stroke-width="1.6"/>
<line x1="878.30" y1="1630.10" x2="886.60" y2="1630.10" stroke="#000" stroke-width="1.6"/>
<line x1="878.30" y1="1589.50" x2="886.60" y2="1589.50" stroke="#000" stroke-width="1.6"/>
<line x1="878.30" y1="1548.90" x2="886.60" y2="1548.90" stroke="#000" stroke-width="1.6"/>
<line x1="878.30" y1="1508.30" x2="886.60" y2="1508.30" stroke="#000" stroke-width="1.6"/>
<line x1="882.60" y1="1609.80" x2="886.60" y2="1609.80" stroke="#000" stroke-width="1.6"/>
<line x1="882.60" y1="1569.20" x2="886.60" y2="1569.20" stroke="#000" stroke-width="1.6"/>
<line x1="882.60" y1="1528.60" x2="886.60" y2="1528.60" stroke="#000" stroke-width="1.6"/>
<line x1="961.50" y1="1630.10" x2="961.50" y2="1638.60" stroke="#000" stroke-width="1.6"/>
<line x1="1111.70" y1="1630.10" x2="1111.70" y2="1638.60" stroke="#000" stroke-width="1.6"/>
<line x1="886.40" y1="1630.10" x2="886.40" y2="1634.40" stroke="#000" stroke-width="1.6"/>
<line x1="1036.60" y1="1630.10" x2="1036.60" y2="1634.40" stroke="#000" stroke-width="1.6"/>
<line x1="1186.80" y1="1630.10" x2="1186.80" y2="1634.40" stroke="#000" stroke-width="1.6"/>
<text x="833.04" y="1594.80" font-size="17.24" font-weight="normal" fill="#000">2500</text>
<text x="833.21" y="1554.20" font-size="17.16" font-weight="normal" fill="#000">5000</text>
<text x="833.04" y="1513.60" font-size="17.24" font-weight="normal" fill="#000">7500</text>
<text x="861.86" y="1635.90" font-size="17.20" font-weight="normal" fill="#000">0</text>
<text x="942.16" y="1659.90" font-size="19.84" font-weight="normal" fill="#000">8.75</text>
<text x="1092.36" y="1659.90" font-size="19.79" font-weight="normal" fill="#000">8.80</text>
<text x="1006.58" y="1681.50" font-size="20.28" font-weight="normal" fill="#000">RT / min</text>
<text transform="translate(819.00,1598.50) rotate(-90)" x="-2.13" y="0" font-size="23.66" font-weight="normal" fill="#000">Intensity</text>
<rect x="1286.2" y="1526.2" width="116.3" height="164.8" fill="#f0f0f0" stroke="#282828" stroke-width="4"/>
<text x="1294.41" y="1563.20" font-size="38.00" font-weight="bold" fill="#000" textLength="75.58" lengthAdjust="spacingAndGlyphs">DIA:</text>
<line x1="1294.00" y1="1568.70" x2="1369.80" y2="1568.70" stroke="#000" stroke-width="3.7"/>
<text x="1294.34" y="1602.70" font-size="32.50" font-weight="bold" fill="#000" textLength="99.98" lengthAdjust="spacingAndGlyphs">UPLC-</text>
<text x="1294.50" y="1641.20" font-size="32.50" font-weight="bold" fill="#000" textLength="85.07" lengthAdjust="spacingAndGlyphs">OzID-</text>
<text x="1294.15" y="1680.20" font-size="32.50" font-weight="bold" fill="#000" textLength="49.61" lengthAdjust="spacingAndGlyphs">MS</text>
<polyline points="132.1,2395.8 141.6,2314.7 156.3,2322.5 214.2,2133.7 228.3,1901.2 272.5,1866.8 330.0,2147.4 417.4,2311.6 461.1,2288.3 504.2,2280.1 518.9,2283.7 591.6,2371.1 606.3,2354.2 692.6,2370.6 720.0,2372.1 996.9,2384.3 1060.0,2391.9 1100.0,2395.2 1415.0,2397.5" fill="none" stroke="#000" stroke-width="2.6" stroke-linejoin="miter" stroke-miterlimit="4"/>
<polyline points="132.1,2393.7 141.6,2363.8 156.3,2365.3 214.2,2289.5 228.3,2193.3 272.5,2167.4 330.0,2293.7 417.4,2360.4 430.0,2356.2 461.1,2346.8 504.2,2337.4 518.9,2339.5 591.6,2382.6 606.3,2373.2 672.6,2387.9 720.0,2389.0 1000.0,2396.0 1100.0,2397.5 1415.0,2398.0" fill="none" stroke="#1434ff" stroke-width="2.6" stroke-linejoin="miter" stroke-miterlimit="4"/>
<polyline points="132.1,2397.0 141.6,2385.3 156.3,2385.7 214.2,2359.0 228.3,2323.2 272.5,2316.2 330.0,2359.0 417.4,2383.2 461.1,2382.0 504.2,2382.6 518.9,2383.3 591.6,2393.2 606.3,2390.0 720.0,2393.5 1000.0,2397.5 1415.0,2398.3" fill="none" stroke="#6070ff" stroke-width="2.6" stroke-linejoin="miter" stroke-miterlimit="4"/>
<polyline points="132.1,2396.5 141.6,2375.8 156.3,2376.8 214.2,2329.5 228.3,2265.3 272.5,2255.8 330.0,2333.7 417.4,2375.8 420.0,2375.7 461.1,2363.1 504.2,2358.0 518.9,2359.5 591.6,2389.0 606.3,2384.7 672.6,2387.5 720.0,2389.5 1000.0,2397.0 1415.0,2398.3" fill="none" stroke="#0099ff" stroke-width="2.6" stroke-linejoin="miter" stroke-miterlimit="4"/>
<polyline points="132.1,2397.5 141.6,2385.7 156.3,2386.3 214.2,2362.1 228.3,2328.4 272.5,2324.2 330.0,2361.1 417.4,2384.8 420.0,2383.3 461.1,2374.2 504.2,2368.9 518.9,2370.0 591.6,2391.1 606.3,2387.9 720.0,2393.0 1000.0,2397.5 1415.0,2398.3" fill="none" stroke="#88ccff" stroke-width="2.6" stroke-linejoin="miter" stroke-miterlimit="4"/>
<polyline points="132.1,2395.8 141.6,2371.6 156.3,2373.7 214.2,2325.3 228.3,2258.5 272.5,2238.9 330.0,2328.4 417.4,2377.9 430.0,2381.1 461.1,2392.5 504.2,2395.8 591.6,2395.5 630.5,2391.5 693.7,2386.8 720.0,2387.5 851.6,2391.5 1000.0,2396.0 1230.0,2396.5 1260.0,2396.0 1415.0,2398.0" fill="none" stroke="#00cc00" stroke-width="2.6" stroke-linejoin="miter" stroke-miterlimit="4"/>
<polyline points="132.1,2396.0 141.6,2372.6 156.3,2374.7 214.2,2328.4 228.3,2265.3 272.5,2252.2 330.0,2328.0 417.4,2378.5 430.0,2380.3 461.1,2393.2 504.2,2396.3 591.6,2395.9 630.5,2392.1 693.7,2387.5 720.0,2388.3 851.6,2392.0 1000.0,2396.5 1415.0,2398.3" fill="none" stroke="#008000" stroke-width="2.6" stroke-linejoin="miter" stroke-miterlimit="4"/>
<polyline points="132.0,2399.0 400.0,2398.8 417.4,2397.5 430.0,2395.5 461.1,2386.8 504.2,2383.7 518.9,2384.7 591.6,2395.3 606.3,2394.2 672.6,2397.4 720.0,2397.5 1000.0,2397.5 1100.0,2398.2 1415.0,2398.5" fill="none" stroke="#ff3333" stroke-width="2.6" stroke-linejoin="miter" stroke-miterlimit="4"/>
<polyline points="132.0,2399.0 400.0,2398.8 417.4,2396.8 430.0,2393.7 461.1,2384.7 504.2,2381.6 518.9,2383.0 591.6,2394.5 606.3,2393.5 672.6,2397.0 720.0,2397.3 1000.0,2397.0 1100.0,2398.0 1415.0,2398.5" fill="none" stroke="#ff7373" stroke-width="2.6" stroke-linejoin="miter" stroke-miterlimit="4"/>
<polyline points="132.0,2399.0 700.0,2398.5 851.6,2392.3 996.9,2386.8 1060.0,2393.2 1100.0,2397.5 1415.0,2398.5" fill="none" stroke="#a04800" stroke-width="2.6" stroke-linejoin="miter" stroke-miterlimit="4"/>
<polyline points="132.0,2399.0 700.0,2398.5 851.6,2393.0 996.9,2388.0 1060.0,2394.0 1100.0,2397.8 1415.0,2398.5" fill="none" stroke="#e0b030" stroke-width="2.6" stroke-linejoin="miter" stroke-miterlimit="4"/>
<polyline points="132.0,2399.0 700.0,2398.6 851.6,2395.0 996.9,2392.5 1060.0,2395.5 1100.0,2398.0 1415.0,2398.5" fill="none" stroke="#a09800" stroke-width="2.6" stroke-linejoin="miter" stroke-miterlimit="4"/>
<line x1="133.00" y1="2398.50" x2="1414.60" y2="2398.50" stroke="#f08030" stroke-width="2.4"/>
<rect x="132.0" y="1854.6" width="1283.6" height="544.3" fill="none" stroke="#000" stroke-width="2.3"/>
<line x1="117.70" y1="2398.90" x2="132.00" y2="2398.90" stroke="#000" stroke-width="2.3"/>
<line x1="125.00" y1="2345.55" x2="132.00" y2="2345.55" stroke="#000" stroke-width="2.3"/>
<line x1="117.70" y1="2292.20" x2="132.00" y2="2292.20" stroke="#000" stroke-width="2.3"/>
<line x1="125.00" y1="2238.85" x2="132.00" y2="2238.85" stroke="#000" stroke-width="2.3"/>
<line x1="117.70" y1="2185.50" x2="132.00" y2="2185.50" stroke="#000" stroke-width="2.3"/>
<line x1="125.00" y1="2132.15" x2="132.00" y2="2132.15" stroke="#000" stroke-width="2.3"/>
<line x1="117.70" y1="2078.80" x2="132.00" y2="2078.80" stroke="#000" stroke-width="2.3"/>
<line x1="125.00" y1="2025.45" x2="132.00" y2="2025.45" stroke="#000" stroke-width="2.3"/>
<line x1="117.70" y1="1972.10" x2="132.00" y2="1972.10" stroke="#000" stroke-width="2.3"/>
<line x1="125.00" y1="1918.75" x2="132.00" y2="1918.75" stroke="#000" stroke-width="2.3"/>
<line x1="117.70" y1="1865.40" x2="132.00" y2="1865.40" stroke="#000" stroke-width="2.3"/>
<line x1="132.00" y1="2398.90" x2="132.00" y2="2412.90" stroke="#000" stroke-width="2.3"/>
<line x1="201.79" y1="2398.90" x2="201.79" y2="2406.10" stroke="#000" stroke-width="2.3"/>
<line x1="271.58" y1="2398.90" x2="271.58" y2="2412.90" stroke="#000" stroke-width="2.3"/>
<line x1="341.36" y1="2398.90" x2="341.36" y2="2406.10" stroke="#000" stroke-width="2.3"/>
<line x1="411.15" y1="2398.90" x2="411.15" y2="2412.90" stroke="#000" stroke-width="2.3"/>
<line x1="480.94" y1="2398.90" x2="480.94" y2="2406.10" stroke="#000" stroke-width="2.3"/>
<line x1="550.73" y1="2398.90" x2="550.73" y2="2412.90" stroke="#000" stroke-width="2.3"/>
<line x1="620.51" y1="2398.90" x2="620.51" y2="2406.10" stroke="#000" stroke-width="2.3"/>
<line x1="690.30" y1="2398.90" x2="690.30" y2="2412.90" stroke="#000" stroke-width="2.3"/>
<line x1="760.09" y1="2398.90" x2="760.09" y2="2406.10" stroke="#000" stroke-width="2.3"/>
<line x1="829.88" y1="2398.90" x2="829.88" y2="2412.90" stroke="#000" stroke-width="2.3"/>
<line x1="899.66" y1="2398.90" x2="899.66" y2="2406.10" stroke="#000" stroke-width="2.3"/>
<line x1="969.45" y1="2398.90" x2="969.45" y2="2412.90" stroke="#000" stroke-width="2.3"/>
<line x1="1039.24" y1="2398.90" x2="1039.24" y2="2406.10" stroke="#000" stroke-width="2.3"/>
<line x1="1109.02" y1="2398.90" x2="1109.02" y2="2412.90" stroke="#000" stroke-width="2.3"/>
<line x1="1178.81" y1="2398.90" x2="1178.81" y2="2406.10" stroke="#000" stroke-width="2.3"/>
<line x1="1248.60" y1="2398.90" x2="1248.60" y2="2412.90" stroke="#000" stroke-width="2.3"/>
<line x1="1318.39" y1="2398.90" x2="1318.39" y2="2406.10" stroke="#000" stroke-width="2.3"/>
<line x1="1388.17" y1="2398.90" x2="1388.17" y2="2412.90" stroke="#000" stroke-width="2.3"/>
<text x="99.57" y="2291.60" font-size="15.20" font-weight="normal" fill="#000">5</text>
<text x="51.06" y="2300.90" font-size="22.59" font-weight="normal" fill="#000">1x10</text>
<text x="99.57" y="2184.90" font-size="15.20" font-weight="normal" fill="#000">5</text>
<text x="51.06" y="2194.20" font-size="22.59" font-weight="normal" fill="#000">2x10</text>
<text x="99.57" y="2078.20" font-size="15.20" font-weight="normal" fill="#000">5</text>
<text x="51.06" y="2087.50" font-size="22.59" font-weight="normal" fill="#000">3x10</text>
<text x="99.57" y="1971.50" font-size="15.20" font-weight="normal" fill="#000">5</text>
<text x="51.06" y="1980.80" font-size="22.59" font-weight="normal" fill="#000">4x10</text>
<text x="99.57" y="1864.80" font-size="15.20" font-weight="normal" fill="#000">5</text>
<text x="51.06" y="1874.10" font-size="22.59" font-weight="normal" fill="#000">5x10</text>
<text x="95.05" y="2406.50" font-size="22.59" font-weight="normal" fill="#000">0</text>
<text x="106.63" y="2443.70" font-size="26.02" font-weight="normal" fill="#000">8.45</text>
<text x="246.21" y="2443.70" font-size="25.95" font-weight="normal" fill="#000">8.50</text>
<text x="385.78" y="2443.70" font-size="26.02" font-weight="normal" fill="#000">8.55</text>
<text x="525.36" y="2443.70" font-size="25.95" font-weight="normal" fill="#000">8.60</text>
<text x="664.93" y="2443.70" font-size="26.02" font-weight="normal" fill="#000">8.65</text>
<text x="804.51" y="2443.70" font-size="25.95" font-weight="normal" fill="#000">8.70</text>
<text x="944.08" y="2443.70" font-size="26.02" font-weight="normal" fill="#000">8.75</text>
<text x="1083.66" y="2443.70" font-size="25.95" font-weight="normal" fill="#000">8.80</text>
<text x="1223.23" y="2443.70" font-size="26.02" font-weight="normal" fill="#000">8.85</text>
<text x="1362.81" y="2443.70" font-size="25.95" font-weight="normal" fill="#000">8.90</text>
<text transform="translate(27.80,2170.50) rotate(-90)" x="-2.76" y="0" font-size="30.70" font-weight="normal" fill="#000">Intensity</text>
<text x="715.30" y="2493.00" font-size="31.27" font-weight="normal" fill="#000">RT / min</text>
<text x="-0.29" y="1847.50" font-size="42.00" font-weight="bold" fill="#000" textLength="37.60" lengthAdjust="spacingAndGlyphs">d.</text>
<text x="441.41" y="2230.40" font-size="29.00" font-weight="normal" fill="#000" textLength="124.64" lengthAdjust="spacingAndGlyphs">Sciadonic</text>
<text x="476.71" y="2269.60" font-size="29.00" font-weight="normal" fill="#000" textLength="54.72" lengthAdjust="spacingAndGlyphs">acid</text>
<rect x="407.3" y="1875.7" width="147.5" height="160.5" fill="#fff"/>
<line x1="408.80" y1="2036.20" x2="408.80" y2="2035.88" stroke="#000" stroke-width="1.0"/>
<line x1="412.25" y1="2036.20" x2="412.25" y2="2035.23" stroke="#000" stroke-width="1.0"/>
<line x1="417.99" y1="2036.20" x2="417.99" y2="2035.66" stroke="#000" stroke-width="1.0"/>
<line x1="421.43" y1="2036.20" x2="421.43" y2="2035.51" stroke="#000" stroke-width="1.0"/>
<line x1="427.47" y1="2036.20" x2="427.47" y2="2035.65" stroke="#000" stroke-width="1.0"/>
<line x1="433.43" y1="2036.20" x2="433.43" y2="2034.77" stroke="#000" stroke-width="1.0"/>
<line x1="436.97" y1="2036.20" x2="436.97" y2="2034.99" stroke="#000" stroke-width="1.0"/>
<line x1="441.77" y1="2036.20" x2="441.77" y2="2035.20" stroke="#000" stroke-width="1.0"/>
<line x1="448.75" y1="2036.20" x2="448.75" y2="2035.74" stroke="#000" stroke-width="1.0"/>
<line x1="451.83" y1="2036.20" x2="451.83" y2="2034.30" stroke="#000" stroke-width="1.0"/>
<line x1="456.44" y1="2036.20" x2="456.44" y2="2035.56" stroke="#000" stroke-width="1.0"/>
<line x1="460.76" y1="2036.20" x2="460.76" y2="2035.28" stroke="#000" stroke-width="1.0"/>
<line x1="467.59" y1="2036.20" x2="467.59" y2="2035.54" stroke="#000" stroke-width="1.0"/>
<line x1="471.45" y1="2036.20" x2="471.45" y2="2034.91" stroke="#000" stroke-width="1.0"/>
<line x1="476.64" y1="2036.20" x2="476.64" y2="2034.28" stroke="#000" stroke-width="1.0"/>
<line x1="483.00" y1="2036.20" x2="483.00" y2="2035.30" stroke="#000" stroke-width="1.0"/>
<line x1="486.81" y1="2036.20" x2="486.81" y2="2034.48" stroke="#000" stroke-width="1.0"/>
<line x1="493.77" y1="2036.20" x2="493.77" y2="2035.85" stroke="#000" stroke-width="1.0"/>
<line x1="499.71" y1="2036.20" x2="499.71" y2="2034.42" stroke="#000" stroke-width="1.0"/>
<line x1="505.31" y1="2036.20" x2="505.31" y2="2035.53" stroke="#000" stroke-width="1.0"/>
<line x1="511.50" y1="2036.20" x2="511.50" y2="2034.66" stroke="#000" stroke-width="1.0"/>
<line x1="515.28" y1="2036.20" x2="515.28" y2="2034.81" stroke="#000" stroke-width="1.0"/>
<line x1="519.15" y1="2036.20" x2="519.15" y2="2035.83" stroke="#000" stroke-width="1.0"/>
<line x1="523.50" y1="2036.20" x2="523.50" y2="2035.33" stroke="#000" stroke-width="1.0"/>
<line x1="528.08" y1="2036.20" x2="528.08" y2="2034.80" stroke="#000" stroke-width="1.0"/>
<line x1="534.43" y1="2036.20" x2="534.43" y2="2034.27" stroke="#000" stroke-width="1.0"/>
<line x1="541.33" y1="2036.20" x2="541.33" y2="2034.21" stroke="#000" stroke-width="1.0"/>
<line x1="547.49" y1="2036.20" x2="547.49" y2="2035.38" stroke="#000" stroke-width="1.0"/>
<line x1="551.20" y1="2036.20" x2="551.20" y2="2034.84" stroke="#000" stroke-width="1.0"/>
<line x1="446.20" y1="2036.20" x2="446.20" y2="1992.60" stroke="#00cc00" stroke-width="1.6"/>
<line x1="456.00" y1="2036.20" x2="456.00" y2="2010.30" stroke="#008000" stroke-width="1.6"/>
<line x1="470.50" y1="2036.20" x2="470.50" y2="2009.20" stroke="#0099ff" stroke-width="1.6"/>
<line x1="480.30" y1="2036.20" x2="480.30" y2="2017.20" stroke="#88ccff" stroke-width="1.6"/>
<line x1="494.80" y1="2036.20" x2="494.80" y2="1979.70" stroke="#1434ff" stroke-width="1.6"/>
<line x1="504.30" y1="2036.20" x2="504.30" y2="2015.60" stroke="#0099ff" stroke-width="1.6"/>
<line x1="535.60" y1="2036.20" x2="535.60" y2="1895.30" stroke="#000" stroke-width="1.6"/>
<rect x="407.30" y="1875.70" width="147.50" height="160.50" stroke="#000" stroke-width="1.6" fill="none"/>
<line x1="402.40" y1="1875.70" x2="407.30" y2="1875.70" stroke="#000" stroke-width="1.6"/>
<line x1="397.60" y1="2036.20" x2="407.30" y2="2036.20" stroke="#000" stroke-width="1.6"/>
<line x1="397.60" y1="2006.94" x2="407.30" y2="2006.94" stroke="#000" stroke-width="1.6"/>
<line x1="397.60" y1="1977.68" x2="407.30" y2="1977.68" stroke="#000" stroke-width="1.6"/>
<line x1="397.60" y1="1948.42" x2="407.30" y2="1948.42" stroke="#000" stroke-width="1.6"/>
<line x1="397.60" y1="1919.16" x2="407.30" y2="1919.16" stroke="#000" stroke-width="1.6"/>
<line x1="397.60" y1="1889.90" x2="407.30" y2="1889.90" stroke="#000" stroke-width="1.6"/>
<line x1="402.40" y1="2021.57" x2="407.30" y2="2021.57" stroke="#000" stroke-width="1.6"/>
<line x1="402.40" y1="1992.31" x2="407.30" y2="1992.31" stroke="#000" stroke-width="1.6"/>
<line x1="402.40" y1="1963.05" x2="407.30" y2="1963.05" stroke="#000" stroke-width="1.6"/>
<line x1="402.40" y1="1933.79" x2="407.30" y2="1933.79" stroke="#000" stroke-width="1.6"/>
<line x1="402.40" y1="1904.53" x2="407.30" y2="1904.53" stroke="#000" stroke-width="1.6"/>
<line x1="402.40" y1="1875.27" x2="407.30" y2="1875.27" stroke="#000" stroke-width="1.6"/>
<line x1="431.30" y1="2036.20" x2="431.30" y2="2046.20" stroke="#000" stroke-width="1.6"/>
<line x1="491.50" y1="2036.20" x2="491.50" y2="2046.20" stroke="#000" stroke-width="1.6"/>
<line x1="551.70" y1="2036.20" x2="551.70" y2="2046.20" stroke="#000" stroke-width="1.6"/>
<line x1="461.40" y1="2036.20" x2="461.40" y2="2040.60" stroke="#000" stroke-width="1.6"/>
<line x1="521.60" y1="2036.20" x2="521.60" y2="2040.60" stroke="#000" stroke-width="1.6"/>
<text x="382.87" y="2006.14" font-size="15.20" font-weight="normal" fill="#000">5</text>
<text x="338.24" y="2015.04" font-size="20.91" font-weight="normal" fill="#000">1x10</text>
<text x="382.87" y="1976.88" font-size="15.20" font-weight="normal" fill="#000">5</text>
<text x="338.24" y="1985.78" font-size="20.91" font-weight="normal" fill="#000">2x10</text>
<text x="382.87" y="1947.62" font-size="15.20" font-weight="normal" fill="#000">5</text>
<text x="338.24" y="1956.52" font-size="20.91" font-weight="normal" fill="#000">3x10</text>
<text x="382.87" y="1918.36" font-size="15.20" font-weight="normal" fill="#000">5</text>
<text x="338.24" y="1927.26" font-size="20.91" font-weight="normal" fill="#000">4x10</text>
<text x="382.87" y="1889.10" font-size="15.20" font-weight="normal" fill="#000">5</text>
<text x="338.24" y="1898.00" font-size="20.91" font-weight="normal" fill="#000">5x10</text>
<text x="379.83" y="2043.20" font-size="20.91" font-weight="normal" fill="#000">0</text>
<text x="414.28" y="2070.30" font-size="20.38" font-weight="normal" fill="#000">300</text>
<text x="474.90" y="2070.30" font-size="20.12" font-weight="normal" fill="#000">400</text>
<text x="534.68" y="2070.30" font-size="20.38" font-weight="normal" fill="#000">500</text>
<text x="462.10" y="2095.00" font-size="26.22" font-weight="normal" fill="#000">m/z</text>
<text transform="translate(325.80,1990.00) rotate(-90)" x="-2.45" y="0" font-size="27.24" font-weight="normal" fill="#000">Intensity</text>
<ellipse cx="414.40" cy="1885.80" rx="5.3" ry="6.3" fill="#000"/>
<line x1="414.40" y1="1890.80" x2="414.40" y2="1941.40" stroke="#000" stroke-width="1.1"/>
<polygon points="409.40,1939.90 419.40,1939.90 414.40,1948.40" fill="#000"/>
<ellipse cx="414.40" cy="1955.70" rx="5.2" ry="6.2" fill="#fff" stroke="#000" stroke-width="1.1"/>
<text x="423.77" y="1898.10" font-size="19.13" font-weight="normal" fill="#000">RT = 8.48</text>
<text x="424.08" y="1922.80" font-size="18.70" font-weight="normal" fill="#000">m/z = 473.35</text>
<text x="424.47" y="1947.10" font-size="18.49" font-weight="normal" fill="#000">OzID</text>
<rect x="690.5" y="1879.7" width="150.6" height="157.9" fill="#fff"/>
<line x1="692.00" y1="2037.60" x2="692.00" y2="2036.33" stroke="#000" stroke-width="1.0"/>
<line x1="697.53" y1="2037.60" x2="697.53" y2="2035.91" stroke="#000" stroke-width="1.0"/>
<line x1="701.64" y1="2037.60" x2="701.64" y2="2036.19" stroke="#000" stroke-width="1.0"/>
<line x1="708.20" y1="2037.60" x2="708.20" y2="2035.75" stroke="#000" stroke-width="1.0"/>
<line x1="711.95" y1="2037.60" x2="711.95" y2="2036.19" stroke="#000" stroke-width="1.0"/>
<line x1="717.42" y1="2037.60" x2="717.42" y2="2036.44" stroke="#000" stroke-width="1.0"/>
<line x1="724.28" y1="2037.60" x2="724.28" y2="2036.40" stroke="#000" stroke-width="1.0"/>
<line x1="729.06" y1="2037.60" x2="729.06" y2="2035.70" stroke="#000" stroke-width="1.0"/>
<line x1="734.60" y1="2037.60" x2="734.60" y2="2036.79" stroke="#000" stroke-width="1.0"/>
<line x1="738.84" y1="2037.60" x2="738.84" y2="2036.46" stroke="#000" stroke-width="1.0"/>
<line x1="742.05" y1="2037.60" x2="742.05" y2="2036.27" stroke="#000" stroke-width="1.0"/>
<line x1="747.99" y1="2037.60" x2="747.99" y2="2036.58" stroke="#000" stroke-width="1.0"/>
<line x1="754.38" y1="2037.60" x2="754.38" y2="2035.72" stroke="#000" stroke-width="1.0"/>
<line x1="759.60" y1="2037.60" x2="759.60" y2="2036.14" stroke="#000" stroke-width="1.0"/>
<line x1="763.07" y1="2037.60" x2="763.07" y2="2037.20" stroke="#000" stroke-width="1.0"/>
<line x1="769.99" y1="2037.60" x2="769.99" y2="2036.82" stroke="#000" stroke-width="1.0"/>
<line x1="773.85" y1="2037.60" x2="773.85" y2="2035.78" stroke="#000" stroke-width="1.0"/>
<line x1="779.85" y1="2037.60" x2="779.85" y2="2037.09" stroke="#000" stroke-width="1.0"/>
<line x1="784.13" y1="2037.60" x2="784.13" y2="2036.89" stroke="#000" stroke-width="1.0"/>
<line x1="788.22" y1="2037.60" x2="788.22" y2="2037.29" stroke="#000" stroke-width="1.0"/>
<line x1="793.32" y1="2037.60" x2="793.32" y2="2036.78" stroke="#000" stroke-width="1.0"/>
<line x1="797.90" y1="2037.60" x2="797.90" y2="2036.98" stroke="#000" stroke-width="1.0"/>
<line x1="801.34" y1="2037.60" x2="801.34" y2="2037.24" stroke="#000" stroke-width="1.0"/>
<line x1="807.83" y1="2037.60" x2="807.83" y2="2036.03" stroke="#000" stroke-width="1.0"/>
<line x1="813.07" y1="2037.60" x2="813.07" y2="2037.09" stroke="#000" stroke-width="1.0"/>
<line x1="816.66" y1="2037.60" x2="816.66" y2="2037.10" stroke="#000" stroke-width="1.0"/>
<line x1="820.93" y1="2037.60" x2="820.93" y2="2037.20" stroke="#000" stroke-width="1.0"/>
<line x1="825.03" y1="2037.60" x2="825.03" y2="2036.96" stroke="#000" stroke-width="1.0"/>
<line x1="828.80" y1="2037.60" x2="828.80" y2="2036.19" stroke="#000" stroke-width="1.0"/>
<line x1="833.63" y1="2037.60" x2="833.63" y2="2036.50" stroke="#000" stroke-width="1.0"/>
<line x1="838.07" y1="2037.60" x2="838.07" y2="2036.38" stroke="#000" stroke-width="1.0"/>
<line x1="704.40" y1="2037.60" x2="704.40" y2="2020.40" stroke="#ff3333" stroke-width="1.6"/>
<line x1="714.30" y1="2037.60" x2="714.30" y2="2021.20" stroke="#ff7373" stroke-width="1.6"/>
<line x1="755.20" y1="2037.60" x2="755.20" y2="1999.10" stroke="#0099ff" stroke-width="1.6"/>
<line x1="756.80" y1="2037.60" x2="756.80" y2="2033.00" stroke="#000" stroke-width="1.6"/>
<line x1="764.80" y1="2037.60" x2="764.80" y2="2002.90" stroke="#88ccff" stroke-width="1.6"/>
<line x1="780.00" y1="2037.60" x2="780.00" y2="1973.40" stroke="#1434ff" stroke-width="1.6"/>
<line x1="781.10" y1="2037.60" x2="781.10" y2="2025.00" stroke="#000" stroke-width="1.6"/>
<line x1="789.90" y1="2037.60" x2="789.90" y2="2020.20" stroke="#6070ff" stroke-width="1.6"/>
<line x1="822.10" y1="2037.60" x2="822.10" y2="1896.60" stroke="#000" stroke-width="1.6"/>
<line x1="823.20" y1="2037.60" x2="823.20" y2="2007.10" stroke="#000" stroke-width="1.6"/>
<rect x="690.50" y="1879.70" width="150.60" height="157.90" stroke="#000" stroke-width="1.6" fill="none"/>
<line x1="685.90" y1="1879.70" x2="690.50" y2="1879.70" stroke="#000" stroke-width="1.6"/>
<line x1="681.00" y1="2037.60" x2="690.50" y2="2037.60" stroke="#000" stroke-width="1.6"/>
<line x1="681.00" y1="1985.00" x2="690.50" y2="1985.00" stroke="#000" stroke-width="1.6"/>
<line x1="681.00" y1="1932.40" x2="690.50" y2="1932.40" stroke="#000" stroke-width="1.6"/>
<line x1="681.00" y1="1879.80" x2="690.50" y2="1879.80" stroke="#000" stroke-width="1.6"/>
<line x1="685.90" y1="2011.30" x2="690.50" y2="2011.30" stroke="#000" stroke-width="1.6"/>
<line x1="685.90" y1="1958.70" x2="690.50" y2="1958.70" stroke="#000" stroke-width="1.6"/>
<line x1="685.90" y1="1906.10" x2="690.50" y2="1906.10" stroke="#000" stroke-width="1.6"/>
<line x1="714.70" y1="2037.60" x2="714.70" y2="2047.60" stroke="#000" stroke-width="1.6"/>
<line x1="776.50" y1="2037.60" x2="776.50" y2="2047.60" stroke="#000" stroke-width="1.6"/>
<line x1="838.30" y1="2037.60" x2="838.30" y2="2047.60" stroke="#000" stroke-width="1.6"/>
<line x1="745.60" y1="2037.60" x2="745.60" y2="2042.00" stroke="#000" stroke-width="1.6"/>
<line x1="807.40" y1="2037.60" x2="807.40" y2="2042.00" stroke="#000" stroke-width="1.6"/>
<text x="665.42" y="1879.10" font-size="15.30" font-weight="normal" fill="#000">5</text>
<text x="603.26" y="1888.60" font-size="20.97" font-weight="normal" fill="#000">1.5x10</text>
<text x="665.42" y="1931.70" font-size="15.30" font-weight="normal" fill="#000">5</text>
<text x="603.26" y="1941.20" font-size="20.97" font-weight="normal" fill="#000">1.0x10</text>
<text x="665.27" y="1984.30" font-size="15.30" font-weight="normal" fill="#000">4</text>
<text x="603.54" y="1993.80" font-size="20.72" font-weight="normal" fill="#000">5.0x10</text>
<text x="644.67" y="2044.80" font-size="20.76" font-weight="normal" fill="#000">0.0</text>
<text x="697.00" y="2073.40" font-size="21.19" font-weight="normal" fill="#000">300</text>
<text x="759.23" y="2073.40" font-size="20.93" font-weight="normal" fill="#000">400</text>
<text x="820.60" y="2073.40" font-size="21.19" font-weight="normal" fill="#000">500</text>
<text x="746.66" y="2098.80" font-size="26.76" font-weight="normal" fill="#000">m/z</text>
<text transform="translate(589.50,1993.40) rotate(-90)" x="-2.55" y="0" font-size="28.36" font-weight="normal" fill="#000">Intensity</text>
<ellipse cx="698.30" cy="1891.30" rx="5.3" ry="6.3" fill="#000"/>
<line x1="698.30" y1="1896.30" x2="698.30" y2="1948.50" stroke="#000" stroke-width="1.1"/>
<polygon points="693.30,1947.00 703.30,1947.00 698.30,1955.50" fill="#000"/>
<ellipse cx="698.30" cy="1960.80" rx="5.2" ry="6.2" fill="#fff" stroke="#000" stroke-width="1.1"/>
<text x="707.98" y="1900.80" font-size="19.04" font-weight="normal" fill="#000">RT = 8.59</text>
<text x="708.28" y="1925.80" font-size="18.81" font-weight="normal" fill="#000">m/z = 473.35</text>
<text x="708.66" y="1950.20" font-size="18.76" font-weight="normal" fill="#000">OzID</text>
<rect x="976.3" y="1873.8" width="150.9" height="160.1" fill="#fff"/>
<line x1="977.80" y1="2033.90" x2="977.80" y2="2032.39" stroke="#000" stroke-width="1.0"/>
<line x1="982.93" y1="2033.90" x2="982.93" y2="2031.96" stroke="#000" stroke-width="1.0"/>
<line x1="988.45" y1="2033.90" x2="988.45" y2="2032.97" stroke="#000" stroke-width="1.0"/>
<line x1="994.33" y1="2033.90" x2="994.33" y2="2032.35" stroke="#000" stroke-width="1.0"/>
<line x1="999.45" y1="2033.90" x2="999.45" y2="2031.94" stroke="#000" stroke-width="1.0"/>
<line x1="1005.20" y1="2033.90" x2="1005.20" y2="2033.00" stroke="#000" stroke-width="1.0"/>
<line x1="1008.99" y1="2033.90" x2="1008.99" y2="2032.02" stroke="#000" stroke-width="1.0"/>
<line x1="1013.53" y1="2033.90" x2="1013.53" y2="2031.95" stroke="#000" stroke-width="1.0"/>
<line x1="1017.31" y1="2033.90" x2="1017.31" y2="2031.50" stroke="#000" stroke-width="1.0"/>
<line x1="1019.85" y1="2033.90" x2="1019.85" y2="2032.01" stroke="#000" stroke-width="1.0"/>
<line x1="1023.66" y1="2033.90" x2="1023.66" y2="2033.54" stroke="#000" stroke-width="1.0"/>
<line x1="1028.52" y1="2033.90" x2="1028.52" y2="2033.49" stroke="#000" stroke-width="1.0"/>
<line x1="1031.84" y1="2033.90" x2="1031.84" y2="2032.89" stroke="#000" stroke-width="1.0"/>
<line x1="1034.89" y1="2033.90" x2="1034.89" y2="2033.24" stroke="#000" stroke-width="1.0"/>
<line x1="1037.65" y1="2033.90" x2="1037.65" y2="2031.74" stroke="#000" stroke-width="1.0"/>
<line x1="1040.44" y1="2033.90" x2="1040.44" y2="2033.25" stroke="#000" stroke-width="1.0"/>
<line x1="1043.21" y1="2033.90" x2="1043.21" y2="2031.60" stroke="#000" stroke-width="1.0"/>
<line x1="1047.62" y1="2033.90" x2="1047.62" y2="2031.79" stroke="#000" stroke-width="1.0"/>
<line x1="1053.52" y1="2033.90" x2="1053.52" y2="2032.51" stroke="#000" stroke-width="1.0"/>
<line x1="1057.41" y1="2033.90" x2="1057.41" y2="2032.74" stroke="#000" stroke-width="1.0"/>
<line x1="1060.83" y1="2033.90" x2="1060.83" y2="2032.29" stroke="#000" stroke-width="1.0"/>
<line x1="1066.72" y1="2033.90" x2="1066.72" y2="2032.49" stroke="#000" stroke-width="1.0"/>
<line x1="1071.86" y1="2033.90" x2="1071.86" y2="2031.64" stroke="#000" stroke-width="1.0"/>
<line x1="1077.27" y1="2033.90" x2="1077.27" y2="2032.12" stroke="#000" stroke-width="1.0"/>
<line x1="1081.69" y1="2033.90" x2="1081.69" y2="2033.38" stroke="#000" stroke-width="1.0"/>
<line x1="1085.51" y1="2033.90" x2="1085.51" y2="2031.72" stroke="#000" stroke-width="1.0"/>
<line x1="1089.56" y1="2033.90" x2="1089.56" y2="2032.10" stroke="#000" stroke-width="1.0"/>
<line x1="1092.97" y1="2033.90" x2="1092.97" y2="2032.32" stroke="#000" stroke-width="1.0"/>
<line x1="1096.23" y1="2033.90" x2="1096.23" y2="2031.87" stroke="#000" stroke-width="1.0"/>
<line x1="1101.58" y1="2033.90" x2="1101.58" y2="2033.56" stroke="#000" stroke-width="1.0"/>
<line x1="1106.41" y1="2033.90" x2="1106.41" y2="2033.39" stroke="#000" stroke-width="1.0"/>
<line x1="1112.23" y1="2033.90" x2="1112.23" y2="2033.21" stroke="#000" stroke-width="1.0"/>
<line x1="1115.18" y1="2033.90" x2="1115.18" y2="2031.64" stroke="#000" stroke-width="1.0"/>
<line x1="1119.83" y1="2033.90" x2="1119.83" y2="2033.58" stroke="#000" stroke-width="1.0"/>
<line x1="1123.96" y1="2033.90" x2="1123.96" y2="2031.78" stroke="#000" stroke-width="1.0"/>
<line x1="990.10" y1="2033.90" x2="990.10" y2="2010.30" stroke="#ff3333" stroke-width="1.6"/>
<line x1="1000.10" y1="2033.90" x2="1000.10" y2="2012.30" stroke="#ff7373" stroke-width="1.6"/>
<line x1="1015.20" y1="2033.90" x2="1015.20" y2="1959.20" stroke="#e0b030" stroke-width="1.6"/>
<line x1="1016.20" y1="2033.90" x2="1016.20" y2="2018.00" stroke="#000" stroke-width="1.6"/>
<line x1="1025.10" y1="2033.90" x2="1025.10" y2="1985.80" stroke="#a09800" stroke-width="1.6"/>
<line x1="1026.60" y1="2033.90" x2="1026.60" y2="2020.00" stroke="#000" stroke-width="1.6"/>
<line x1="1039.80" y1="2033.90" x2="1039.80" y2="1960.20" stroke="#a07a20" stroke-width="1.6"/>
<line x1="1040.80" y1="2033.90" x2="1040.80" y2="2018.00" stroke="#000" stroke-width="1.6"/>
<line x1="1050.00" y1="2033.90" x2="1050.00" y2="2003.10" stroke="#f08030" stroke-width="1.6"/>
<line x1="1051.00" y1="2033.90" x2="1051.00" y2="2024.00" stroke="#000" stroke-width="1.6"/>
<line x1="1008.00" y1="2033.90" x2="1008.00" y2="2028.00" stroke="#000" stroke-width="1.6"/>
<line x1="1108.00" y1="2033.90" x2="1108.00" y2="1945.90" stroke="#000" stroke-width="1.6"/>
<line x1="1109.20" y1="2033.90" x2="1109.20" y2="2004.40" stroke="#000" stroke-width="1.6"/>
<line x1="1094.00" y1="2033.90" x2="1094.00" y2="2028.00" stroke="#000" stroke-width="1.6"/>
<rect x="976.30" y="1873.80" width="150.90" height="160.10" stroke="#000" stroke-width="1.6" fill="none"/>
<line x1="971.60" y1="1873.80" x2="976.30" y2="1873.80" stroke="#000" stroke-width="1.6"/>
<line x1="966.10" y1="2033.90" x2="976.30" y2="2033.90" stroke="#000" stroke-width="1.6"/>
<line x1="966.10" y1="1998.20" x2="976.30" y2="1998.20" stroke="#000" stroke-width="1.6"/>
<line x1="966.10" y1="1962.50" x2="976.30" y2="1962.50" stroke="#000" stroke-width="1.6"/>
<line x1="966.10" y1="1926.80" x2="976.30" y2="1926.80" stroke="#000" stroke-width="1.6"/>
<line x1="966.10" y1="1891.10" x2="976.30" y2="1891.10" stroke="#000" stroke-width="1.6"/>
<line x1="971.60" y1="2016.05" x2="976.30" y2="2016.05" stroke="#000" stroke-width="1.6"/>
<line x1="971.60" y1="1980.35" x2="976.30" y2="1980.35" stroke="#000" stroke-width="1.6"/>
<line x1="971.60" y1="1944.65" x2="976.30" y2="1944.65" stroke="#000" stroke-width="1.6"/>
<line x1="971.60" y1="1908.95" x2="976.30" y2="1908.95" stroke="#000" stroke-width="1.6"/>
<line x1="971.60" y1="1873.25" x2="976.30" y2="1873.25" stroke="#000" stroke-width="1.6"/>
<line x1="1000.50" y1="2033.90" x2="1000.50" y2="2043.90" stroke="#000" stroke-width="1.6"/>
<line x1="1062.20" y1="2033.90" x2="1062.20" y2="2043.90" stroke="#000" stroke-width="1.6"/>
<line x1="1123.90" y1="2033.90" x2="1123.90" y2="2043.90" stroke="#000" stroke-width="1.6"/>
<line x1="1031.35" y1="2033.90" x2="1031.35" y2="2038.30" stroke="#000" stroke-width="1.6"/>
<line x1="1093.05" y1="2033.90" x2="1093.05" y2="2038.30" stroke="#000" stroke-width="1.6"/>
<text x="952.08" y="1997.50" font-size="14.80" font-weight="normal" fill="#000">3</text>
<text x="906.51" y="2006.60" font-size="21.06" font-weight="normal" fill="#000">2x10</text>
<text x="952.08" y="1961.80" font-size="14.80" font-weight="normal" fill="#000">3</text>
<text x="906.51" y="1970.90" font-size="21.06" font-weight="normal" fill="#000">4x10</text>
<text x="952.08" y="1926.10" font-size="14.80" font-weight="normal" fill="#000">3</text>
<text x="906.51" y="1935.20" font-size="21.06" font-weight="normal" fill="#000">6x10</text>
<text x="952.08" y="1890.40" font-size="14.80" font-weight="normal" fill="#000">3</text>
<text x="906.51" y="1899.50" font-size="21.06" font-weight="normal" fill="#000">8x10</text>
<text x="948.05" y="2041.30" font-size="21.06" font-weight="normal" fill="#000">0</text>
<text x="983.17" y="2068.30" font-size="20.75" font-weight="normal" fill="#000">300</text>
<text x="1045.29" y="2068.30" font-size="20.50" font-weight="normal" fill="#000">400</text>
<text x="1106.57" y="2068.30" font-size="20.75" font-weight="normal" fill="#000">500</text>
<text x="1033.23" y="2093.50" font-size="25.62" font-weight="normal" fill="#000">m/z</text>
<text transform="translate(893.40,1986.70) rotate(-90)" x="-2.41" y="0" font-size="26.74" font-weight="normal" fill="#000">Intensity</text>
<ellipse cx="992.00" cy="1887.10" rx="5.3" ry="6.3" fill="#000"/>
<line x1="992.00" y1="1892.10" x2="992.00" y2="1942.40" stroke="#000" stroke-width="1.1"/>
<polygon points="987.00,1940.90 997.00,1940.90 992.00,1949.40" fill="#000"/>
<ellipse cx="992.00" cy="1956.30" rx="5.2" ry="6.2" fill="#fff" stroke="#000" stroke-width="1.1"/>
<text x="1000.38" y="1896.90" font-size="19.04" font-weight="normal" fill="#000">RT = 8.76</text>
<text x="1000.67" y="1920.60" font-size="18.88" font-weight="normal" fill="#000">m/z = 473.35</text>
<text x="1001.06" y="1945.30" font-size="18.67" font-weight="normal" fill="#000">OzID</text>
<rect x="1152.8" y="1860.8" width="252.5" height="307.2" fill="#fff" stroke="#666" stroke-width="1.3"/>
<line x1="1155.30" y1="1874.60" x2="1197.40" y2="1874.60" stroke="#000" stroke-width="2.6"/>
<text x="1202.35" y="1881.00" font-size="19.10" font-weight="normal" fill="#000">20:3_Precursor</text>
<line x1="1155.30" y1="1897.95" x2="1197.40" y2="1897.95" stroke="#1434ff" stroke-width="2.6"/>
<text x="1202.34" y="1904.35" font-size="19.11" font-weight="normal" fill="#000">20:3n-6,9,x_Al{n-6}</text>
<line x1="1155.30" y1="1921.30" x2="1197.40" y2="1921.30" stroke="#6070ff" stroke-width="2.6"/>
<text x="1202.34" y="1927.70" font-size="19.12" font-weight="normal" fill="#000">20:3n-6,9,x_Cr{n-6}</text>
<line x1="1155.30" y1="1944.65" x2="1197.40" y2="1944.65" stroke="#0099ff" stroke-width="2.6"/>
<text x="1202.34" y="1951.05" font-size="19.11" font-weight="normal" fill="#000">20:3n-6,9,x_Al{n-9}</text>
<line x1="1155.30" y1="1968.00" x2="1197.40" y2="1968.00" stroke="#88ccff" stroke-width="2.6"/>
<text x="1202.34" y="1974.40" font-size="19.12" font-weight="normal" fill="#000">20:3n-6,9,x_Cr{n-9}</text>
<line x1="1155.30" y1="1991.35" x2="1197.40" y2="1991.35" stroke="#00cc00" stroke-width="2.6"/>
<text x="1202.34" y="1997.75" font-size="19.12" font-weight="normal" fill="#000">20:3n-6,9,12_Al{n-12}</text>
<line x1="1155.30" y1="2014.70" x2="1197.40" y2="2014.70" stroke="#008000" stroke-width="2.6"/>
<text x="1202.34" y="2021.10" font-size="19.10" font-weight="normal" fill="#000">20:3n-6,9,12_Cr{n-12}</text>
<line x1="1155.30" y1="2038.05" x2="1197.40" y2="2038.05" stroke="#ff3333" stroke-width="2.6"/>
<text x="1202.34" y="2044.45" font-size="19.13" font-weight="normal" fill="#000">20:3n-x,x,15_Al{n-15}</text>
<line x1="1155.30" y1="2061.40" x2="1197.40" y2="2061.40" stroke="#ff7373" stroke-width="2.6"/>
<text x="1202.34" y="2067.80" font-size="19.14" font-weight="normal" fill="#000">20:3n-x,x,15_Cr{n-15}</text>
<line x1="1155.30" y1="2084.75" x2="1197.40" y2="2084.75" stroke="#a04800" stroke-width="2.6"/>
<text x="1202.34" y="2091.15" font-size="19.12" font-weight="normal" fill="#000">20:3n-9,12,15_Al{n-9}</text>
<line x1="1155.30" y1="2108.10" x2="1197.40" y2="2108.10" stroke="#f08030" stroke-width="2.6"/>
<text x="1202.34" y="2114.50" font-size="19.15" font-weight="normal" fill="#000">20:3n-9,12,15_Cr{n-9}</text>
<line x1="1155.30" y1="2131.45" x2="1197.40" y2="2131.45" stroke="#e0b030" stroke-width="2.6"/>
<text x="1202.34" y="2137.85" font-size="19.15" font-weight="normal" fill="#000">20:3n-9,12,15_Al{n-12}</text>
<line x1="1155.30" y1="2154.80" x2="1197.40" y2="2154.80" stroke="#a09800" stroke-width="2.6"/>
<text x="1202.34" y="2161.20" font-size="19.16" font-weight="normal" fill="#000">20:3n-9,12,15_Cr{n-12}</text>
<rect x="877.8" y="2174.3" width="305.7" height="127.3" fill="#fff"/>
<clipPath id="cd4"><rect x="877.8" y="2174.3" width="305.7" height="127.3"/></clipPath><g clip-path="url(#cd4)">
<polyline points="877.8,2289.3 989.8,2301.1 1091.2,2300.8 1183.5,2300.5" fill="none" stroke="#6070ff" stroke-width="1.7" stroke-linejoin="miter" stroke-miterlimit="4"/>
<polyline points="877.8,2275.9 989.8,2300.6 1091.2,2300.6 1183.5,2300.3" fill="none" stroke="#1434ff" stroke-width="1.7" stroke-linejoin="miter" stroke-miterlimit="4"/>
<polyline points="877.8,2279.0 989.8,2299.5 1091.2,2299.8 1183.5,2299.7" fill="none" stroke="#88ccff" stroke-width="1.7" stroke-linejoin="miter" stroke-miterlimit="4"/>
<polyline points="877.8,2271.5 989.8,2298.9 1091.2,2299.3 1183.5,2299.0" fill="none" stroke="#008000" stroke-width="1.7" stroke-linejoin="miter" stroke-miterlimit="4"/>
<polyline points="877.8,2264.8 989.8,2296.4 1091.2,2299.0 1183.5,2299.7" fill="none" stroke="#0099ff" stroke-width="1.7" stroke-linejoin="miter" stroke-miterlimit="4"/>
<polyline points="877.8,2253.5 989.8,2286.6 1091.2,2298.6 1183.5,2291.2" fill="none" stroke="#00cc00" stroke-width="1.7" stroke-linejoin="miter" stroke-miterlimit="4"/>
<polyline points="877.8,2284.6 989.8,2279.7 1091.2,2297.1 1183.5,2298.2" fill="none" stroke="#ff3333" stroke-width="1.7" stroke-linejoin="miter" stroke-miterlimit="4"/>
<polyline points="877.8,2280.9 989.8,2273.5 1091.2,2295.6 1183.5,2297.4" fill="none" stroke="#ff7373" stroke-width="1.7" stroke-linejoin="miter" stroke-miterlimit="4"/>
<polyline points="877.8,2278.7 989.8,2264.7 1091.2,2294.3 1183.5,2296.6" fill="none" stroke="#f08030" stroke-width="1.7" stroke-linejoin="miter" stroke-miterlimit="4"/>
<polyline points="877.8,2271.5 989.8,2255.4 1091.2,2292.5 1183.5,2295.6" fill="none" stroke="#a09800" stroke-width="1.7" stroke-linejoin="miter" stroke-miterlimit="4"/>
<polyline points="877.8,2244.5 989.8,2213.3 1091.2,2288.1 1183.5,2293.1" fill="none" stroke="#e0b030" stroke-width="1.7" stroke-linejoin="miter" stroke-miterlimit="4"/>
<polyline points="877.8,2240.5 989.8,2205.1 1091.2,2286.3 1183.5,2292.0" fill="none" stroke="#a04800" stroke-width="1.7" stroke-linejoin="miter" stroke-miterlimit="4"/>
<polyline points="950.0,2168.0 972.1,2174.3 989.6,2180.8 1091.2,2282.0 1164.5,2285.8 1183.5,2283.5" fill="none" stroke="#000" stroke-width="1.9" stroke-linejoin="miter" stroke-miterlimit="4"/>
</g>
<rect x="877.80" y="2174.30" width="305.70" height="127.30" stroke="#000" stroke-width="1.7" fill="none"/>
<line x1="867.30" y1="2301.60" x2="877.80" y2="2301.60" stroke="#000" stroke-width="1.7"/>
<line x1="867.30" y1="2258.20" x2="877.80" y2="2258.20" stroke="#000" stroke-width="1.7"/>
<line x1="867.30" y1="2214.80" x2="877.80" y2="2214.80" stroke="#000" stroke-width="1.7"/>
<line x1="871.90" y1="2279.90" x2="877.80" y2="2279.90" stroke="#000" stroke-width="1.7"/>
<line x1="871.90" y1="2236.50" x2="877.80" y2="2236.50" stroke="#000" stroke-width="1.7"/>
<line x1="871.90" y1="2193.10" x2="877.80" y2="2193.10" stroke="#000" stroke-width="1.7"/>
<line x1="960.80" y1="2301.60" x2="960.80" y2="2312.60" stroke="#000" stroke-width="1.7"/>
<line x1="1100.20" y1="2301.60" x2="1100.20" y2="2312.60" stroke="#000" stroke-width="1.7"/>
<line x1="891.10" y1="2301.60" x2="891.10" y2="2307.50" stroke="#000" stroke-width="1.7"/>
<line x1="1030.50" y1="2301.60" x2="1030.50" y2="2307.50" stroke="#000" stroke-width="1.7"/>
<line x1="1169.90" y1="2301.60" x2="1169.90" y2="2307.50" stroke="#000" stroke-width="1.7"/>
<text x="852.19" y="2213.80" font-size="14.50" font-weight="normal" fill="#000">4</text>
<text x="809.18" y="2222.60" font-size="20.00" font-weight="normal" fill="#000">1x10</text>
<text x="852.33" y="2257.20" font-size="14.50" font-weight="normal" fill="#000">3</text>
<text x="809.61" y="2266.00" font-size="20.00" font-weight="normal" fill="#000">5x10</text>
<text x="848.10" y="2308.40" font-size="20.00" font-weight="normal" fill="#000">0</text>
<text x="941.09" y="2337.60" font-size="20.22" font-weight="normal" fill="#000">8.75</text>
<text x="1080.49" y="2337.60" font-size="20.16" font-weight="normal" fill="#000">8.80</text>
<text x="982.54" y="2363.80" font-size="25.70" font-weight="normal" fill="#000">RT / min</text>
<text transform="translate(797.80,2291.40) rotate(-90)" x="-2.46" y="0" font-size="27.35" font-weight="normal" fill="#000">Intensity</text>
<rect x="1271.2" y="2199.1" width="116.8" height="165" fill="#fff0d0" stroke="#262626" stroke-width="4"/>
<text x="1279.41" y="2236.00" font-size="38.50" font-weight="bold" fill="#000" textLength="92.06" lengthAdjust="spacingAndGlyphs">DDA:</text>
<line x1="1279.00" y1="2241.30" x2="1370.80" y2="2241.30" stroke="#000" stroke-width="3.7"/>
<text x="1279.33" y="2275.60" font-size="32.50" font-weight="bold" fill="#000" textLength="100.19" lengthAdjust="spacingAndGlyphs">UPLC-</text>
<text x="1279.50" y="2314.00" font-size="32.50" font-weight="bold" fill="#000" textLength="84.87" lengthAdjust="spacingAndGlyphs">OzID-</text>
<text x="1278.97" y="2353.00" font-size="32.50" font-weight="bold" fill="#000" textLength="107.58" lengthAdjust="spacingAndGlyphs">MS/MS</text>
</svg>
</body></html>
